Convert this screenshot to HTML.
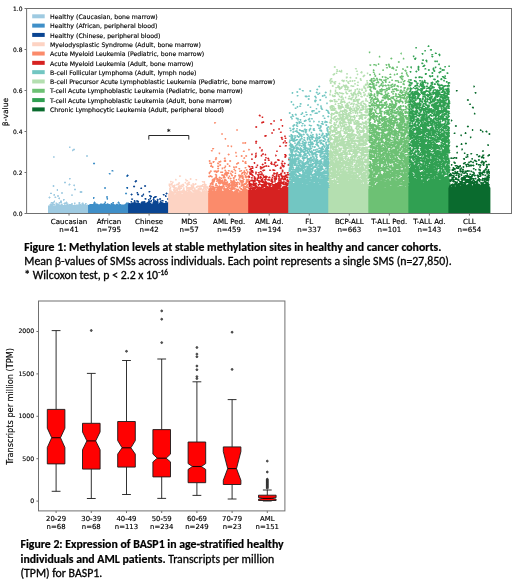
<!DOCTYPE html>
<html><head><meta charset="utf-8"><title>Figure</title><style>html,body{margin:0;padding:0;background:#fff}svg{display:block;will-change:transform;opacity:.999}</style></head><body>
<svg width="520" height="583" viewBox="0 0 520 583">
<rect width="520" height="583" fill="#fff"/>
<g transform="translate(47.00,143.00) scale(0.50)"><path d="M44 7h3v1h-3zM44 8h3v1h-3zM44 9h3v1h-3zM53 11h2v1h-2zM52 12h4v1h-4zM50 13h6v1h-6zM50 14h5v1h-5zM50 15h3v1h-3zM51 16h1v1h-1zM79 24h2v1h-2zM78 25h4v1h-4zM13 26h2v1h-2zm65 0h4v1h-4zM12 27h3v1h-3zm67 0h2v1h-2zM12 28h3v1h-3zM13 29h2v1h-2zM44 70h3v1h-3zM44 71h4v1h-4zM44 72h3v1h-3zM35 77h2v1h-2zM34 78h4v1h-4zM34 79h4v1h-4zM35 80h2v1h-2zM44 81h2v1h-2zM43 82h4v1h-4zM43 83h4v1h-4zm10 0h3v1h-3zM12 84h2v1h-2zm31 0h3v1h-3zm9 0h4v1h-4zM11 85h4v1h-4zm42 0h3v1h-3zM11 86h4v1h-4zm43 0h1v1h-1zM12 87h2v1h-2zM55 91h2v1h-2zM20 92h2v1h-2zm34 0h4v1h-4zM19 93h3v1h-3zm35 0h4v1h-4zM19 94h3v1h-3zm36 0h2v1h-2zM20 95h2v1h-2zM66 96h4v1h-4zM65 97h6v1h-6zM29 98h2v1h-2zm36 0h6v1h-6zM7 99h2v1h-2zm21 0h4v1h-4zm38 0h4v1h-4zM6 100h4v1h-4zm22 0h4v1h-4zM6 101h4v1h-4zm23 0h2v1h-2zM13 102h3v1h-3zM13 103h3v1h-3zm35 0h4v1h-4zM13 104h3v1h-3zm8 0h2v1h-2zm27 0h4v1h-4zM13 105h2v1h-2zm7 0h4v1h-4zm29 0h2v1h-2zM20 106h4v1h-4zM4 107h2v1h-2zm11 0h3v1h-3zm6 0h2v1h-2zM3 108h4v1h-4zm12 0h4v1h-4zM3 109h4v1h-4zm12 0h3v1h-3zm8 0h3v1h-3zM4 110h2v1h-2zm18 0h4v1h-4zM23 111h3v1h-3zM24 112h1v1h-1zm8 0h3v1h-3zM32 113h4v1h-4zM32 114h3v1h-3zM14 115h2v1h-2zm12 0h4v1h-4zm7 0h1v1h-1zM13 116h3v1h-3zm13 0h4v1h-4zM13 117h3v1h-3zm13 0h4v1h-4zm12 0h2v1h-2zM8 118h8v1h-8zm16 0h6v1h-6zm13 0h4v1h-4zm26 0h3v1h-3zM7 119h7v1h-7zm10 0h3v1h-3zm6 0h7v1h-7zm11 0h7v1h-7zm20 0h3v1h-3zm9 0h4v1h-4zm7 0h3v1h-3zM7 120h6v1h-6zm10 0h4v1h-4zm7 0h3v1h-3zm9 0h8v1h-8zm16 0h2v1h-2zm5 0h3v1h-3zm9 0h3v1h-3zm6 0h4v1h-4zm7 0h3v1h-3zM6 121h1v1h-1zm3 0h6v1h-6zm8 0h7v1h-7zm8 0h1v1h-1zm3 0h3v1h-3zm5 0h10v1h-10zm15 0h4v1h-4zm6 0h3v1h-3zm9 0h4v1h-4zm6 0h5v1h-5zm7 0h4v1h-4zM5 122h11v1h-11zm12 0h8v1h-8zm10 0h4v1h-4zm7 0h2v1h-2zm5 0h13v1h-13zm24 0h5v1h-5zm6 0h6v1h-6zm7 0h3v1h-3zM5 123h11v1h-11zm12 0h9v1h-9zm10 0h5v1h-5zm7 0h1v1h-1zm2 0h7v1h-7zm8 0h7v1h-7zm10 0h3v1h-3zm4 0h21v1h-21zm22 0h3v1h-3zM5 124h7v1h-7zm8 0h2v1h-2zm4 0h68v1h-68zM2 125h84v1h-84zM2 126h84v1h-84zM2 127h84v1h-84zM2 128h84v1h-84zM2 129h84v1h-84zM2 130h84v1h-84zM2 131h84v1h-84zM2 132h84v1h-84zM2 133h84v1h-84zM2 134h84v1h-84zM2 135h84v1h-84zM2 136h84v1h-84zM2 137h84v1h-84zM2 138h84v1h-84zM2 139h84v1h-84zM2 140h84v1h-84z" fill="#9ecae1"/></g>
<g transform="translate(87.04,156.00) scale(0.50)"><path d="M13 13h2v1h-2zM12 14h4v1h-4zM12 15h4v1h-4zM13 16h2v1h-2zM49 28h3v1h-3zM49 29h4v1h-4zM49 30h4v1h-4zM44 34h3v1h-3zM43 35h4v1h-4zM44 36h3v1h-3zM79 38h2v1h-2zM78 39h4v1h-4zM78 40h4v1h-4zM79 41h2v1h-2zM35 62h2v1h-2zm43 0h4v1h-4zM34 63h4v1h-4zm44 0h4v1h-4zM34 64h4v1h-4zm44 0h3v1h-3zM35 65h2v1h-2zM77 73h2v1h-2zM76 74h4v1h-4zM76 75h4v1h-4zM77 76h2v1h-2zM39 80h2v1h-2zM38 81h4v1h-4zM12 82h3v1h-3zm26 0h4v1h-4zM12 83h3v1h-3zm27 0h2v1h-2zM12 84h3v1h-3zm27 0h3v1h-3zM12 85h2v1h-2zm27 0h3v1h-3zM39 86h3v1h-3zM40 87h1v1h-1zM14 91h2v1h-2zm21 0h3v1h-3zm27 0h2v1h-2zM13 92h4v1h-4zm22 0h3v1h-3zm16 0h3v1h-3zm10 0h4v1h-4zM13 93h4v1h-4zm22 0h3v1h-3zm15 0h4v1h-4zm11 0h4v1h-4zm17 0h6v1h-6zM12 94h5v1h-5zm22 0h3v1h-3zm7 0h1v1h-1zm7 0h6v1h-6zm14 0h3v1h-3zm15 0h7v1h-7zM13 95h8v1h-8zm13 0h5v1h-5zm6 0h5v1h-5zm7 0h4v1h-4zm8 0h4v1h-4zm5 0h1v1h-1zm7 0h2v1h-2zm4 0h3v1h-3zm14 0h6v1h-6zM5 96h17v1h-17zm18 0h2v1h-2zm3 0h20v1h-20zm21 0h7v1h-7zm8 0h1v1h-1zm3 0h4v1h-4zm5 0h5v1h-5zm12 0h7v1h-7zM4 97h81v1h-81zM2 98h84v1h-84zM2 99h84v1h-84zM2 100h84v1h-84zM2 101h84v1h-84zM2 102h84v1h-84zM2 103h84v1h-84zM2 104h84v1h-84zM2 105h84v1h-84zM2 106h84v1h-84zM2 107h84v1h-84zM2 108h84v1h-84zM2 109h84v1h-84zM2 110h84v1h-84zM2 111h84v1h-84zM2 112h84v1h-84zM2 113h84v1h-84zM2 114h84v1h-84z" fill="#3f8fc8"/></g>
<g transform="translate(127.08,168.00) scale(0.50)"><path d="M0 13h2v1h-2zM0 14h3v1h-3zM0 15h3v1h-3zM0 16h2v1h-2zM17 24h2v1h-2zM16 25h4v1h-4zM15 26h5v1h-5zM15 27h4v1h-4zM16 28h2v1h-2zM35 34h2v1h-2zM13 35h2v1h-2zm21 0h4v1h-4zM12 36h4v1h-4zm22 0h4v1h-4zM12 37h4v1h-4zm23 0h2v1h-2zM0 38h1v1h-1zm13 0h2v1h-2zM0 39h2v1h-2zm27 0h3v1h-3zM0 40h2v1h-2zm26 0h4v1h-4zM0 41h1v1h-1zm27 0h3v1h-3zM43 46h3v1h-3zM43 47h4v1h-4zM19 48h3v1h-3zm24 0h3v1h-3zM19 49h3v1h-3zm59 0h2v1h-2zM19 50h3v1h-3zm58 0h4v1h-4zM8 51h2v1h-2zm13 0h2v1h-2zm11 0h2v1h-2zm45 0h4v1h-4zM7 52h4v1h-4zm13 0h4v1h-4zm11 0h3v1h-3zm41 0h3v1h-3zm6 0h2v1h-2zM7 53h4v1h-4zm13 0h4v1h-4zm11 0h3v1h-3zm40 0h4v1h-4zM8 54h2v1h-2zm13 0h2v1h-2zm8 0h2v1h-2zm3 0h2v1h-2zm12 0h3v1h-3zm28 0h3v1h-3zm4 0h2v1h-2zM28 55h4v1h-4zm16 0h5v1h-5zm32 0h3v1h-3zM28 56h4v1h-4zm16 0h6v1h-6zm11 0h4v1h-4zm21 0h3v1h-3zM29 57h2v1h-2zm17 0h4v1h-4zm8 0h6v1h-6zm22 0h3v1h-3zM47 58h2v1h-2zm5 0h7v1h-7zM46 59h2v1h-2zm6 0h5v1h-5zM35 60h3v1h-3zm10 0h3v1h-3zm7 0h3v1h-3zm13 0h2v1h-2zm16 0h2v1h-2zM8 61h4v1h-4zm27 0h4v1h-4zm10 0h3v1h-3zm7 0h2v1h-2zm9 0h1v1h-1zm3 0h4v1h-4zm16 0h4v1h-4zM8 62h4v1h-4zm27 0h4v1h-4zm7 0h3v1h-3zm4 0h2v1h-2zm5 0h4v1h-4zm9 0h3v1h-3zm4 0h4v1h-4zm16 0h4v1h-4zM9 63h2v1h-2zm27 0h1v1h-1zm6 0h3v1h-3zm9 0h4v1h-4zm8 0h4v1h-4zm6 0h2v1h-2zm16 0h2v1h-2zM14 64h2v1h-2zm5 0h2v1h-2zm23 0h3v1h-3zm5 0h3v1h-3zm5 0h2v1h-2zm3 0h2v1h-2zm5 0h3v1h-3zm9 0h4v1h-4zM13 65h4v1h-4zm5 0h5v1h-5zm25 0h3v1h-3zm4 0h3v1h-3zm5 0h6v1h-6zm7 0h3v1h-3zm7 0h7v1h-7zM7 66h3v1h-3zm6 0h4v1h-4zm5 0h6v1h-6zm13 0h2v1h-2zm3 0h2v1h-2zm8 0h8v1h-8zm10 0h11v1h-11zm13 0h4v1h-4zm5 0h3v1h-3zm6 0h3v1h-3zM7 67h3v1h-3zm7 0h3v1h-3zm5 0h5v1h-5zm9 0h9v1h-9zm13 0h8v1h-8zm11 0h10v1h-10zm14 0h3v1h-3zm10 0h4v1h-4zM7 68h3v1h-3zm6 0h4v1h-4zm8 0h2v1h-2zm7 0h9v1h-9zm12 0h9v1h-9zm11 0h12v1h-12zm15 0h5v1h-5zm10 0h3v1h-3zm5 0h3v1h-3zM9 69h15v1h-15zm18 0h9v1h-9zm10 0h9v1h-9zm14 0h12v1h-12zm13 0h9v1h-9zm13 0h8v1h-8zM3 70h4v1h-4zm5 0h18v1h-18zm19 0h21v1h-21zm24 0h11v1h-11zm12 0h22v1h-22zM2 71h84v1h-84zM2 72h84v1h-84zM2 73h84v1h-84zM2 74h84v1h-84zM2 75h84v1h-84zM2 76h84v1h-84zM2 77h84v1h-84zM2 78h84v1h-84zM2 79h84v1h-84zM2 80h84v1h-84zM2 81h84v1h-84zM2 82h84v1h-84zM2 83h84v1h-84zM2 84h84v1h-84zM2 85h84v1h-84zM2 86h84v1h-84zM2 87h84v1h-84zM2 88h84v1h-84zM2 89h84v1h-84zM2 90h84v1h-84z" fill="#0a4592"/></g>
<g transform="translate(167.12,166.00) scale(0.50)"><path d="M25 18h1v1h-1zM24 19h4v1h-4zM24 20h4v1h-4zM24 21h3v1h-3zM46 24h2v1h-2zM17 25h1v1h-1zm20 0h1v1h-1zm8 0h4v1h-4zM16 26h3v1h-3zm20 0h3v1h-3zm9 0h4v1h-4zm12 0h3v1h-3zM16 27h3v1h-3zm20 0h3v1h-3zm10 0h2v1h-2zm10 0h4v1h-4zM16 28h3v1h-3zm20 0h6v1h-6zm21 0h3v1h-3zM7 29h1v1h-1zm31 0h4v1h-4zM6 30h3v1h-3zm32 0h3v1h-3zm32 0h3v1h-3zm4 0h2v1h-2zM6 31h7v1h-7zm30 0h1v1h-1zm6 0h3v1h-3zm27 0h7v1h-7zM6 32h3v1h-3zm4 0h3v1h-3zm13 0h2v1h-2zm12 0h3v1h-3zm6 0h5v1h-5zm29 0h6v1h-6zM10 33h3v1h-3zm12 0h4v1h-4zm13 0h3v1h-3zm6 0h5v1h-5zm32 0h3v1h-3zM8 34h4v1h-4zm14 0h4v1h-4zm13 0h3v1h-3zm4 0h6v1h-6zm12 0h2v1h-2zm5 0h2v1h-2zm18 0h2v1h-2zM3 35h8v1h-8zm16 0h6v1h-6zm12 0h2v1h-2zm7 0h7v1h-7zm12 0h4v1h-4zm5 0h4v1h-4zm18 0h4v1h-4zM3 36h8v1h-8zm15 0h7v1h-7zm12 0h4v1h-4zm8 0h8v1h-8zm12 0h9v1h-9zm20 0h9v1h-9zM3 37h8v1h-8zm11 0h3v1h-3zm4 0h6v1h-6zm9 0h7v1h-7zm12 0h7v1h-7zm8 0h3v1h-3zm4 0h4v1h-4zm5 0h2v1h-2zm14 0h9v1h-9zM3 38h4v1h-4zm5 0h3v1h-3zm4 0h5v1h-5zm6 0h3v1h-3zm5 0h2v1h-2zm4 0h3v1h-3zm4 0h3v1h-3zm8 0h4v1h-4zm8 0h4v1h-4zm5 0h3v1h-3zm15 0h12v1h-12zM3 39h4v1h-4zm6 0h8v1h-8zm13 0h13v1h-13zm17 0h3v1h-3zm8 0h7v1h-7zm13 0h12v1h-12zm14 0h4v1h-4zm5 0h1v1h-1zM4 40h3v1h-3zm5 0h7v1h-7zm13 0h12v1h-12zm15 0h3v1h-3zm11 0h6v1h-6zm10 0h23v1h-23zM4 41h3v1h-3zm5 0h7v1h-7zm12 0h11v1h-11zm16 0h4v1h-4zm10 0h7v1h-7zm11 0h24v1h-24zM5 42h3v1h-3zm6 0h6v1h-6zm7 0h1v1h-1zm3 0h6v1h-6zm7 0h1v1h-1zm2 0h1v1h-1zm3 0h1v1h-1zm4 0h17v1h-17zm20 0h4v1h-4zm6 0h2v1h-2zm3 0h1v1h-1zm6 0h11v1h-11zM5 43h4v1h-4zm6 0h9v1h-9zm10 0h9v1h-9zm11 0h3v1h-3zm6 0h18v1h-18zm19 0h4v1h-4zm6 0h7v1h-7zm9 0h11v1h-11zM4 44h4v1h-4zm10 0h16v1h-16zm18 0h3v1h-3zm6 0h19v1h-19zm23 0h9v1h-9zm11 0h7v1h-7zm8 0h4v1h-4zM4 45h4v1h-4zm8 0h7v1h-7zm8 0h10v1h-10zm12 0h3v1h-3zm6 0h14v1h-14zm15 0h4v1h-4zm8 0h9v1h-9zm10 0h14v1h-14zM4 46h3v1h-3zm8 0h15v1h-15zm19 0h4v1h-4zm7 0h3v1h-3zm4 0h9v1h-9zm12 0h3v1h-3zm7 0h19v1h-19zm20 0h5v1h-5zM4 47h5v1h-5zm7 0h5v1h-5zm6 0h5v1h-5zm6 0h4v1h-4zm8 0h4v1h-4zm7 0h31v1h-31zm32 0h4v1h-4zm5 0h5v1h-5zm7 0h3v1h-3zM4 48h5v1h-5zm8 0h10v1h-10zm12 0h2v1h-2zm6 0h6v1h-6zm8 0h8v1h-8zm11 0h19v1h-19zm20 0h4v1h-4zm5 0h3v1h-3zm4 0h2v1h-2zm4 0h3v1h-3zM4 49h5v1h-5zm8 0h10v1h-10zm11 0h2v1h-2zm3 0h11v1h-11zm12 0h10v1h-10zm11 0h16v1h-16zm20 0h16v1h-16zM4 50h7v1h-7zm9 0h36v1h-36zm37 0h17v1h-17zm19 0h16v1h-16zM4 51h15v1h-15zm16 0h20v1h-20zm21 0h8v1h-8zm10 0h17v1h-17zm18 0h16v1h-16zM4 52h46v1h-46zm47 0h2v1h-2zm3 0h31v1h-31zM4 53h80v1h-80zM3 54h26v1h-26zm28 0h54v1h-54zM2 55h13v1h-13zm15 0h69v1h-69zM2 56h13v1h-13zm14 0h70v1h-70zM2 57h84v1h-84zM2 58h84v1h-84zM2 59h84v1h-84zM2 60h84v1h-84zM2 61h84v1h-84zM2 62h84v1h-84zM2 63h84v1h-84zM2 64h84v1h-84zM2 65h84v1h-84zM2 66h84v1h-84zM2 67h84v1h-84zM2 68h84v1h-84zM2 69h84v1h-84zM2 70h84v1h-84zM2 71h84v1h-84zM2 72h84v1h-84zM2 73h84v1h-84zM2 74h84v1h-84zM2 75h84v1h-84zM2 76h84v1h-84zM2 77h84v1h-84zM2 78h84v1h-84zM2 79h84v1h-84zM2 80h84v1h-84zM2 81h84v1h-84zM2 82h84v1h-84zM2 83h84v1h-84zM2 84h84v1h-84zM2 85h84v1h-84zM2 86h84v1h-84zM2 87h84v1h-84zM2 88h84v1h-84zM2 89h84v1h-84zM2 90h84v1h-84zM2 91h84v1h-84zM2 92h84v1h-84zM2 93h84v1h-84zM2 94h84v1h-84z" fill="#fdd3c3"/></g>
<g transform="translate(207.16,120.00) scale(0.50)"><path d="M14 4h3v1h-3zM14 5h4v1h-4zM14 6h3v1h-3zM15 7h1v1h-1zM59 18h2v1h-2zM58 19h3v1h-3zM58 20h3v1h-3zM59 21h2v1h-2zM29 26h2v1h-2zM28 27h3v1h-3zM28 28h3v1h-3zM29 29h2v1h-2zM35 36h3v1h-3zM35 37h3v1h-3zM35 38h3v1h-3zM36 39h1v1h-1zM71 44h2v1h-2zm4 0h3v1h-3zM70 45h3v1h-3zm4 0h4v1h-4zM70 46h3v1h-3zm4 0h4v1h-4zM71 47h2v1h-2zm4 0h2v1h-2zM41 50h2v1h-2zM40 51h3v1h-3zm7 0h3v1h-3zM40 52h3v1h-3zm7 0h3v1h-3zM41 53h2v1h-2zm6 0h3v1h-3zM48 54h1v1h-1zM10 56h4v1h-4zM10 57h4v1h-4zm73 0h1v1h-1zM10 58h3v1h-3zm72 0h3v1h-3zM82 59h4v1h-4zM8 60h3v1h-3zm74 0h3v1h-3zM7 61h4v1h-4zm65 0h3v1h-3zM8 62h3v1h-3zm63 0h4v1h-4zM57 63h1v1h-1zm15 0h3v1h-3zM56 64h3v1h-3zM23 65h3v1h-3zm33 0h3v1h-3zM23 66h3v1h-3zm33 0h3v1h-3zM23 67h3v1h-3zm19 0h2v1h-2zM24 68h1v1h-1zm17 0h4v1h-4zM41 69h4v1h-4zM42 70h2v1h-2zm26 0h2v1h-2zm9 0h2v1h-2zM57 71h3v1h-3zm10 0h4v1h-4zm9 0h4v1h-4zM57 72h3v1h-3zm10 0h4v1h-4zm9 0h4v1h-4zM57 73h3v1h-3zm11 0h2v1h-2zm9 0h2v1h-2zM17 74h2v1h-2zm56 0h2v1h-2zM16 75h4v1h-4zm18 0h3v1h-3zm39 0h3v1h-3zM16 76h4v1h-4zm17 0h4v1h-4zm39 0h4v1h-4zM16 77h3v1h-3zm18 0h3v1h-3zm39 0h2v1h-2zM15 78h4v1h-4zm20 0h1v1h-1zM16 79h3v1h-3zm19 0h2v1h-2zM4 80h2v1h-2zm13 0h1v1h-1zm17 0h4v1h-4zm11 0h2v1h-2zm26 0h1v1h-1zM3 81h4v1h-4zm23 0h2v1h-2zm7 0h5v1h-5zm11 0h4v1h-4zm26 0h3v1h-3zM3 82h4v1h-4zm8 0h4v1h-4zm12 0h6v1h-6zm10 0h5v1h-5zm11 0h4v1h-4zm26 0h4v1h-4zm6 0h2v1h-2zM4 83h2v1h-2zm7 0h4v1h-4zm11 0h6v1h-6zm12 0h4v1h-4zm11 0h2v1h-2zm25 0h3v1h-3zm5 0h4v1h-4zM11 84h3v1h-3zm12 0h5v1h-5zm38 0h2v1h-2zm14 0h4v1h-4zM4 85h5v1h-5zm7 0h3v1h-3zm9 0h3v1h-3zm4 0h1v1h-1zm36 0h4v1h-4zm14 0h4v1h-4zM4 86h6v1h-6zm16 0h4v1h-4zm20 0h1v1h-1zm18 0h6v1h-6zm17 0h4v1h-4zM4 87h6v1h-6zm16 0h4v1h-4zm19 0h4v1h-4zm19 0h5v1h-5zm17 0h4v1h-4zM7 88h2v1h-2zm14 0h2v1h-2zm4 0h2v1h-2zm14 0h4v1h-4zm19 0h3v1h-3zM8 89h1v1h-1zm16 0h4v1h-4zm16 0h2v1h-2zm19 0h1v1h-1zM7 90h3v1h-3zm17 0h4v1h-4zm20 0h2v1h-2zm38 0h2v1h-2zM6 91h4v1h-4zm14 0h4v1h-4zm5 0h2v1h-2zm10 0h3v1h-3zm8 0h3v1h-3zm38 0h4v1h-4zM6 92h6v1h-6zm14 0h4v1h-4zm15 0h3v1h-3zm8 0h4v1h-4zm10 0h1v1h-1zm4 0h2v1h-2zm24 0h4v1h-4zM6 93h7v1h-7zm14 0h4v1h-4zm15 0h3v1h-3zm9 0h2v1h-2zm8 0h3v1h-3zm4 0h4v1h-4zm26 0h2v1h-2zM9 94h4v1h-4zm24 0h4v1h-4zm19 0h8v1h-8zm23 0h3v1h-3zM10 95h2v1h-2zm11 0h2v1h-2zm8 0h3v1h-3zm4 0h4v1h-4zm19 0h3v1h-3zm5 0h2v1h-2zm18 0h4v1h-4zM20 96h4v1h-4zm9 0h3v1h-3zm4 0h3v1h-3zm30 0h3v1h-3zm12 0h3v1h-3zM20 97h4v1h-4zm9 0h3v1h-3zm24 0h3v1h-3zm9 0h4v1h-4zM21 98h2v1h-2zm8 0h2v1h-2zm23 0h4v1h-4zm11 0h3v1h-3zm15 0h2v1h-2zM35 99h2v1h-2zm18 0h3v1h-3zm24 0h4v1h-4zM7 100h1v1h-1zm10 0h1v1h-1zm4 0h2v1h-2zm14 0h3v1h-3zm7 0h3v1h-3zm13 0h3v1h-3zm12 0h3v1h-3zm6 0h2v1h-2zm4 0h4v1h-4zM6 101h3v1h-3zm7 0h6v1h-6zm7 0h4v1h-4zm14 0h4v1h-4zm7 0h4v1h-4zm6 0h4v1h-4zm7 0h4v1h-4zm10 0h6v1h-6zm9 0h3v1h-3zm5 0h2v1h-2zM6 102h3v1h-3zm7 0h11v1h-11zm22 0h3v1h-3zm7 0h3v1h-3zm5 0h4v1h-4zm8 0h3v1h-3zm9 0h6v1h-6zm9 0h3v1h-3zm7 0h2v1h-2zM4 103h5v1h-5zm9 0h10v1h-10zm13 0h6v1h-6zm11 0h3v1h-3zm10 0h6v1h-6zm17 0h3v1h-3zm8 0h4v1h-4zm7 0h4v1h-4zM3 104h4v1h-4zm11 0h1v1h-1zm3 0h5v1h-5zm9 0h6v1h-6zm10 0h7v1h-7zm13 0h4v1h-4zm20 0h9v1h-9zm10 0h4v1h-4zM3 105h4v1h-4zm14 0h3v1h-3zm9 0h6v1h-6zm9 0h9v1h-9zm11 0h2v1h-2zm4 0h2v1h-2zm5 0h3v1h-3zm14 0h9v1h-9zm11 0h2v1h-2zM3 106h3v1h-3zm31 0h10v1h-10zm12 0h3v1h-3zm9 0h3v1h-3zm13 0h4v1h-4zm6 0h7v1h-7zM3 107h3v1h-3zm14 0h1v1h-1zm17 0h10v1h-10zm11 0h4v1h-4zm10 0h3v1h-3zm13 0h4v1h-4zm5 0h3v1h-3zm5 0h3v1h-3zM4 108h1v1h-1zm12 0h3v1h-3zm13 0h2v1h-2zm5 0h8v1h-8zm12 0h4v1h-4zm22 0h3v1h-3zm5 0h4v1h-4zm5 0h3v1h-3zM15 109h5v1h-5zm13 0h13v1h-13zm20 0h3v1h-3zm14 0h4v1h-4zm5 0h2v1h-2zm6 0h3v1h-3zm6 0h1v1h-1zM6 110h2v1h-2zm10 0h4v1h-4zm12 0h7v1h-7zm9 0h4v1h-4zm11 0h4v1h-4zm7 0h3v1h-3zm7 0h7v1h-7zm8 0h2v1h-2zm5 0h3v1h-3zm7 0h3v1h-3zM3 111h6v1h-6zm14 0h3v1h-3zm12 0h7v1h-7zm8 0h4v1h-4zm6 0h3v1h-3zm5 0h4v1h-4zm6 0h4v1h-4zm8 0h11v1h-11zm13 0h4v1h-4zm6 0h4v1h-4zM2 112h9v1h-9zm15 0h3v1h-3zm14 0h5v1h-5zm7 0h3v1h-3zm5 0h3v1h-3zm6 0h2v1h-2zm5 0h4v1h-4zm8 0h11v1h-11zm13 0h10v1h-10zM2 113h9v1h-9zm14 0h4v1h-4zm8 0h2v1h-2zm8 0h4v1h-4zm11 0h3v1h-3zm11 0h3v1h-3zm10 0h9v1h-9zm11 0h9v1h-9zM3 114h2v1h-2zm5 0h3v1h-3zm8 0h4v1h-4zm7 0h4v1h-4zm8 0h6v1h-6zm10 0h4v1h-4zm11 0h5v1h-5zm12 0h10v1h-10zm11 0h8v1h-8zM14 115h6v1h-6zm9 0h7v1h-7zm8 0h6v1h-6zm10 0h3v1h-3zm5 0h2v1h-2zm5 0h4v1h-4zm12 0h4v1h-4zm6 0h4v1h-4zm7 0h4v1h-4zM13 116h9v1h-9zm11 0h6v1h-6zm7 0h6v1h-6zm10 0h3v1h-3zm4 0h4v1h-4zm6 0h4v1h-4zm13 0h3v1h-3zm5 0h4v1h-4zm8 0h2v1h-2zM11 117h6v1h-6zm7 0h7v1h-7zm9 0h3v1h-3zm15 0h2v1h-2zm3 0h4v1h-4zm7 0h3v1h-3zm10 0h3v1h-3zm7 0h5v1h-5zm13 0h2v1h-2zM10 118h7v1h-7zm8 0h9v1h-9zm16 0h4v1h-4zm11 0h3v1h-3zm7 0h3v1h-3zm5 0h3v1h-3zm5 0h3v1h-3zm9 0h4v1h-4zm7 0h7v1h-7zM9 119h8v1h-8zm9 0h10v1h-10zm11 0h3v1h-3zm4 0h6v1h-6zm20 0h1v1h-1zm4 0h3v1h-3zm5 0h3v1h-3zm4 0h2v1h-2zm5 0h4v1h-4zm6 0h8v1h-8zM9 120h7v1h-7zm10 0h13v1h-13zm14 0h7v1h-7zm13 0h3v1h-3zm5 0h4v1h-4zm6 0h3v1h-3zm6 0h11v1h-11zm15 0h6v1h-6zM9 121h7v1h-7zm9 0h14v1h-14zm15 0h6v1h-6zm13 0h4v1h-4zm5 0h5v1h-5zm7 0h1v1h-1zm7 0h8v1h-8zm12 0h8v1h-8zM9 122h7v1h-7zm9 0h14v1h-14zm15 0h4v1h-4zm6 0h2v1h-2zm7 0h10v1h-10zm19 0h9v1h-9zm12 0h9v1h-9zM9 123h6v1h-6zm9 0h3v1h-3zm4 0h15v1h-15zm16 0h4v1h-4zm9 0h10v1h-10zm13 0h2v1h-2zm5 0h9v1h-9zm12 0h9v1h-9zM8 124h7v1h-7zm13 0h21v1h-21zm25 0h17v1h-17zm20 0h7v1h-7zm11 0h4v1h-4zm5 0h3v1h-3zM7 125h6v1h-6zm14 0h21v1h-21zm25 0h20v1h-20zm21 0h6v1h-6zm9 0h5v1h-5zm6 0h4v1h-4zM6 126h7v1h-7zm11 0h2v1h-2zm5 0h19v1h-19zm21 0h19v1h-19zm20 0h3v1h-3zm5 0h4v1h-4zm6 0h6v1h-6zm8 0h4v1h-4zM5 127h8v1h-8zm11 0h4v1h-4zm6 0h6v1h-6zm7 0h17v1h-17zm19 0h8v1h-8zm9 0h4v1h-4zm6 0h4v1h-4zm5 0h3v1h-3zm4 0h8v1h-8zm10 0h4v1h-4zM5 128h8v1h-8zm11 0h4v1h-4zm7 0h4v1h-4zm7 0h16v1h-16zm17 0h15v1h-15zm16 0h4v1h-4zm5 0h11v1h-11zm12 0h5v1h-5zM6 129h2v1h-2zm3 0h4v1h-4zm7 0h3v1h-3zm15 0h31v1h-31zm33 0h2v1h-2zm4 0h10v1h-10zm11 0h4v1h-4zM5 130h2v1h-2zm6 0h1v1h-1zm4 0h6v1h-6zm9 0h1v1h-1zm7 0h8v1h-8zm9 0h22v1h-22zm27 0h7v1h-7zm11 0h5v1h-5zM4 131h7v1h-7zm8 0h1v1h-1zm4 0h6v1h-6zm7 0h3v1h-3zm6 0h5v1h-5zm8 0h23v1h-23zm30 0h9v1h-9zm11 0h3v1h-3zM3 132h11v1h-11zm15 0h3v1h-3zm4 0h13v1h-13zm14 0h26v1h-26zm29 0h1v1h-1zm2 0h14v1h-14zM4 133h3v1h-3zm4 0h6v1h-6zm7 0h3v1h-3zm4 0h16v1h-16zm18 0h3v1h-3zm4 0h5v1h-5zm7 0h5v1h-5zm6 0h4v1h-4zm5 0h3v1h-3zm5 0h3v1h-3zm4 0h1v1h-1zm4 0h11v1h-11zM6 134h3v1h-3zm4 0h26v1h-26zm29 0h6v1h-6zm8 0h10v1h-10zm12 0h3v1h-3zm4 0h4v1h-4zm8 0h13v1h-13zM4 135h28v1h-28zm29 0h2v1h-2zm6 0h16v1h-16zm25 0h3v1h-3zm7 0h4v1h-4zm5 0h8v1h-8zM4 136h13v1h-13zm14 0h19v1h-19zm20 0h19v1h-19zm26 0h6v1h-6zm8 0h7v1h-7zm9 0h2v1h-2zM4 137h13v1h-13zm15 0h12v1h-12zm13 0h10v1h-10zm11 0h17v1h-17zm18 0h2v1h-2zm5 0h4v1h-4zm5 0h7v1h-7zm11 0h4v1h-4zM3 138h14v1h-14zm15 0h13v1h-13zm14 0h12v1h-12zm14 0h18v1h-18zm20 0h14v1h-14zm16 0h4v1h-4zM3 139h14v1h-14zm15 0h12v1h-12zm14 0h13v1h-13zm14 0h6v1h-6zm7 0h2v1h-2zm4 0h7v1h-7zm10 0h15v1h-15zm16 0h2v1h-2zM3 140h8v1h-8zm9 0h5v1h-5zm6 0h12v1h-12zm15 0h17v1h-17zm23 0h9v1h-9zm13 0h17v1h-17zM3 141h13v1h-13zm14 0h14v1h-14zm15 0h19v1h-19zm22 0h14v1h-14zm15 0h17v1h-17zM2 142h50v1h-50zm52 0h31v1h-31zM2 143h60v1h-60zm62 0h21v1h-21zM3 144h60v1h-60zm61 0h21v1h-21zM2 145h84v1h-84zM2 146h84v1h-84zM2 147h84v1h-84zM2 148h84v1h-84zM2 149h84v1h-84zM2 150h84v1h-84zM2 151h84v1h-84zM2 152h84v1h-84zM2 153h84v1h-84zM2 154h84v1h-84zM2 155h84v1h-84zM2 156h84v1h-84zM2 157h84v1h-84zM2 158h84v1h-84zM2 159h84v1h-84zM2 160h84v1h-84zM2 161h84v1h-84zM2 162h84v1h-84zM2 163h84v1h-84zM2 164h84v1h-84zM2 165h84v1h-84zM2 166h84v1h-84zM2 167h84v1h-84zM2 168h84v1h-84zM2 169h84v1h-84zM2 170h84v1h-84zM2 171h84v1h-84zM2 172h84v1h-84zM2 173h84v1h-84zM2 174h84v1h-84zM2 175h84v1h-84zM2 176h84v1h-84zM2 177h84v1h-84zM2 178h84v1h-84zM2 179h84v1h-84zM2 180h84v1h-84zM2 181h84v1h-84zM2 182h84v1h-84zM2 183h84v1h-84zM2 184h84v1h-84zM2 185h84v1h-84zM2 186h84v1h-84z" fill="#fb8b6b"/></g>
<g transform="translate(247.20,106.00) scale(0.50)"><path d="M24 17h2v1h-2zM23 18h4v1h-4zM23 19h4v1h-4zM24 20h3v1h-3zM29 21h3v1h-3zM29 22h3v1h-3zM29 23h3v1h-3zM67 26h2v1h-2zM66 27h3v1h-3zM53 28h2v1h-2zm13 0h3v1h-3zM52 29h3v1h-3zm15 0h2v1h-2zM32 30h1v1h-1zm20 0h3v1h-3zM29 31h5v1h-5zm24 0h2v1h-2zM28 32h6v1h-6zM28 33h6v1h-6zM28 34h3v1h-3zm18 0h3v1h-3zM46 35h4v1h-4zM46 36h4v1h-4zM69 38h3v1h-3zM69 39h3v1h-3zM17 40h2v1h-2zm52 0h3v1h-3zM16 41h4v1h-4zm54 0h1v1h-1zM16 42h4v1h-4zM17 43h2v1h-2zM63 44h2v1h-2zM62 45h3v1h-3zM52 46h2v1h-2zm10 0h3v1h-3zM52 47h3v1h-3zm11 0h2v1h-2zM52 48h3v1h-3zM52 49h2v1h-2zM66 51h3v1h-3zM49 52h2v1h-2zm16 0h4v1h-4zM48 53h3v1h-3zm18 0h3v1h-3zM48 54h3v1h-3zM49 55h2v1h-2zM35 58h4v1h-4zM34 59h5v1h-5zm40 0h3v1h-3zM34 60h5v1h-5zm40 0h3v1h-3zM35 61h2v1h-2zm34 0h1v1h-1zm5 0h3v1h-3zM67 62h4v1h-4zM67 63h4v1h-4zm8 0h3v1h-3zM68 64h2v1h-2zm7 0h4v1h-4zM68 65h4v1h-4zm7 0h3v1h-3zM68 66h4v1h-4zM69 67h2v1h-2zM75 68h2v1h-2zM17 69h2v1h-2zm57 0h3v1h-3zM16 70h4v1h-4zm58 0h3v1h-3zM16 71h4v1h-4zm56 0h1v1h-1zm3 0h2v1h-2zM17 72h2v1h-2zm54 0h3v1h-3zm6 0h3v1h-3zM16 73h3v1h-3zm55 0h4v1h-4zm5 0h4v1h-4zM16 74h3v1h-3zm55 0h3v1h-3zm5 0h4v1h-4zM17 75h2v1h-2zM76 78h3v1h-3zM64 79h3v1h-3zm11 0h4v1h-4zM64 80h4v1h-4zm11 0h4v1h-4zM25 81h1v1h-1zm39 0h3v1h-3zM24 82h3v1h-3zM24 83h3v1h-3zM24 84h3v1h-3zM29 86h2v1h-2zM28 87h3v1h-3zM28 88h3v1h-3zM27 89h4v1h-4zm31 0h3v1h-3zM27 90h4v1h-4zm31 0h3v1h-3zM58 91h3v1h-3zM17 93h2v1h-2zM16 94h3v1h-3zm15 0h2v1h-2zM8 95h3v1h-3zm8 0h3v1h-3zm14 0h3v1h-3zm6 0h1v1h-1zM8 96h3v1h-3zm8 0h3v1h-3zm14 0h3v1h-3zm5 0h3v1h-3zm39 0h4v1h-4zM8 97h3v1h-3zm9 0h1v1h-1zm11 0h5v1h-5zm7 0h3v1h-3zm21 0h2v1h-2zm18 0h4v1h-4zM9 98h1v1h-1zm7 0h3v1h-3zm11 0h3v1h-3zm8 0h3v1h-3zm21 0h3v1h-3zm19 0h4v1h-4zM16 99h3v1h-3zm11 0h3v1h-3zm29 0h3v1h-3zm19 0h4v1h-4zM16 100h3v1h-3zm11 0h3v1h-3zm29 0h2v1h-2zm19 0h4v1h-4zM15 101h4v1h-4zm59 0h4v1h-4zM15 102h3v1h-3zm21 0h3v1h-3zm38 0h4v1h-4zM16 103h2v1h-2zm20 0h3v1h-3zm5 0h2v1h-2zm34 0h2v1h-2zM9 104h1v1h-1zm27 0h3v1h-3zm4 0h4v1h-4zM8 105h3v1h-3zm32 0h4v1h-4zm42 0h3v1h-3zM8 106h3v1h-3zm27 0h2v1h-2zm6 0h2v1h-2zm19 0h3v1h-3zm22 0h4v1h-4zM8 107h3v1h-3zm26 0h4v1h-4zm8 0h3v1h-3zm18 0h5v1h-5zm22 0h3v1h-3zM34 108h4v1h-4zm7 0h4v1h-4zm19 0h5v1h-5zM35 109h2v1h-2zm7 0h3v1h-3zm19 0h4v1h-4zm8 0h3v1h-3zM69 110h4v1h-4zM47 111h3v1h-3zm8 0h4v1h-4zm14 0h3v1h-3zM13 112h3v1h-3zm22 0h2v1h-2zm12 0h3v1h-3zm7 0h5v1h-5zM13 113h3v1h-3zm21 0h4v1h-4zm13 0h3v1h-3zm7 0h5v1h-5zm14 0h3v1h-3zm6 0h2v1h-2zM13 114h3v1h-3zm21 0h4v1h-4zm12 0h4v1h-4zm8 0h3v1h-3zm13 0h4v1h-4zm6 0h4v1h-4zM14 115h2v1h-2zm16 0h2v1h-2zm5 0h2v1h-2zm11 0h5v1h-5zm7 0h2v1h-2zm15 0h3v1h-3zm5 0h4v1h-4zM29 116h4v1h-4zm18 0h4v1h-4zm5 0h4v1h-4zm17 0h2v1h-2zm5 0h2v1h-2zm7 0h3v1h-3zM19 117h3v1h-3zm10 0h4v1h-4zm19 0h3v1h-3zm4 0h4v1h-4zm7 0h3v1h-3zm9 0h4v1h-4zm13 0h3v1h-3zM19 118h3v1h-3zm11 0h2v1h-2zm7 0h2v1h-2zm16 0h2v1h-2zm3 0h2v1h-2zm3 0h3v1h-3zm9 0h6v1h-6zm13 0h3v1h-3zM19 119h3v1h-3zm15 0h1v1h-1zm2 0h4v1h-4zm5 0h3v1h-3zm14 0h7v1h-7zm14 0h6v1h-6zm12 0h2v1h-2zM3 120h3v1h-3zm5 0h4v1h-4zm12 0h1v1h-1zm6 0h2v1h-2zm6 0h8v1h-8zm9 0h4v1h-4zm14 0h4v1h-4zm15 0h5v1h-5zM3 121h4v1h-4zm5 0h4v1h-4zm9 0h3v1h-3zm8 0h4v1h-4zm5 0h1v1h-1zm2 0h4v1h-4zm5 0h2v1h-2zm4 0h3v1h-3zm15 0h2v1h-2zm10 0h3v1h-3zm4 0h5v1h-5zM3 122h4v1h-4zm6 0h2v1h-2zm7 0h4v1h-4zm9 0h10v1h-10zm40 0h4v1h-4zm6 0h3v1h-3zM9 123h4v1h-4zm8 0h3v1h-3zm9 0h7v1h-7zm40 0h3v1h-3zM6 124h7v1h-7zm20 0h6v1h-6zm39 0h4v1h-4zM5 125h7v1h-7zm20 0h4v1h-4zm40 0h4v1h-4zM4 126h5v1h-5zm22 0h3v1h-3zm25 0h2v1h-2zm16 0h1v1h-1zM4 127h5v1h-5zm27 0h5v1h-5zm13 0h3v1h-3zm6 0h6v1h-6zm19 0h3v1h-3zM5 128h7v1h-7zm25 0h6v1h-6zm14 0h4v1h-4zm6 0h7v1h-7zm19 0h4v1h-4zM7 129h5v1h-5zm23 0h6v1h-6zm14 0h3v1h-3zm7 0h5v1h-5zm18 0h3v1h-3zM7 130h5v1h-5zm18 0h4v1h-4zm6 0h2v1h-2zm38 0h3v1h-3zM4 131h9v1h-9zm12 0h3v1h-3zm9 0h4v1h-4zm44 0h4v1h-4zM4 132h3v1h-3zm4 0h5v1h-5zm8 0h4v1h-4zm6 0h3v1h-3zm4 0h3v1h-3zm33 0h2v1h-2zm10 0h3v1h-3zm5 0h2v1h-2zm5 0h4v1h-4zM4 133h5v1h-5zm6 0h3v1h-3zm6 0h3v1h-3zm5 0h4v1h-4zm7 0h3v1h-3zm24 0h4v1h-4zm6 0h4v1h-4zm9 0h2v1h-2zm6 0h4v1h-4zm6 0h4v1h-4zM4 134h6v1h-6zm7 0h1v1h-1zm5 0h3v1h-3zm6 0h3v1h-3zm6 0h3v1h-3zm24 0h5v1h-5zm6 0h4v1h-4zm8 0h4v1h-4zm7 0h4v1h-4zm7 0h3v1h-3zM4 135h5v1h-5zm12 0h3v1h-3zm9 0h2v1h-2zm3 0h3v1h-3zm24 0h9v1h-9zm14 0h4v1h-4zm8 0h2v1h-2zm6 0h1v1h-1zM4 136h7v1h-7zm12 0h3v1h-3zm4 0h3v1h-3zm4 0h7v1h-7zm29 0h3v1h-3zm4 0h4v1h-4zm5 0h7v1h-7zm17 0h6v1h-6zM5 137h7v1h-7zm15 0h14v1h-14zm30 0h4v1h-4zm8 0h3v1h-3zm4 0h8v1h-8zm13 0h10v1h-10zM8 138h5v1h-5zm12 0h4v1h-4zm5 0h2v1h-2zm3 0h6v1h-6zm22 0h4v1h-4zm7 0h3v1h-3zm5 0h8v1h-8zm13 0h10v1h-10zM9 139h4v1h-4zm12 0h3v1h-3zm10 0h3v1h-3zm5 0h3v1h-3zm13 0h4v1h-4zm8 0h7v1h-7zm10 0h6v1h-6zm7 0h6v1h-6zM3 140h2v1h-2zm7 0h3v1h-3zm4 0h2v1h-2zm7 0h3v1h-3zm4 0h3v1h-3zm7 0h9v1h-9zm17 0h7v1h-7zm8 0h3v1h-3zm4 0h4v1h-4zm6 0h12v1h-12zM2 141h4v1h-4zm11 0h3v1h-3zm8 0h3v1h-3zm4 0h4v1h-4zm6 0h10v1h-10zm12 0h3v1h-3zm10 0h7v1h-7zm8 0h5v1h-5zm7 0h14v1h-14zM2 142h4v1h-4zm6 0h3v1h-3zm5 0h4v1h-4zm8 0h3v1h-3zm4 0h5v1h-5zm6 0h10v1h-10zm11 0h5v1h-5zm7 0h3v1h-3zm4 0h7v1h-7zm9 0h4v1h-4zm7 0h14v1h-14zM3 143h2v1h-2zm4 0h4v1h-4zm6 0h4v1h-4zm6 0h11v1h-11zm13 0h8v1h-8zm10 0h4v1h-4zm7 0h3v1h-3zm5 0h1v1h-1zm2 0h3v1h-3zm7 0h2v1h-2zm5 0h4v1h-4zm6 0h2v1h-2zm3 0h5v1h-5zM8 144h3v1h-3zm5 0h5v1h-5zm6 0h10v1h-10zm11 0h2v1h-2zm5 0h4v1h-4zm7 0h3v1h-3zm7 0h3v1h-3zm4 0h7v1h-7zm9 0h3v1h-3zm5 0h5v1h-5zm6 0h5v1h-5zM9 145h1v1h-1zm4 0h5v1h-5zm6 0h4v1h-4zm6 0h2v1h-2zm4 0h4v1h-4zm7 0h3v1h-3zm11 0h3v1h-3zm6 0h7v1h-7zm9 0h16v1h-16zm18 0h2v1h-2zM13 146h5v1h-5zm6 0h3v1h-3zm8 0h5v1h-5zm7 0h5v1h-5zm6 0h5v1h-5zm7 0h4v1h-4zm6 0h7v1h-7zm9 0h3v1h-3zm4 0h12v1h-12zm13 0h3v1h-3zM7 147h5v1h-5zm7 0h3v1h-3zm4 0h4v1h-4zm9 0h5v1h-5zm6 0h6v1h-6zm7 0h6v1h-6zm7 0h5v1h-5zm7 0h5v1h-5zm8 0h7v1h-7zm9 0h7v1h-7zm8 0h3v1h-3zM6 148h19v1h-19zm21 0h5v1h-5zm7 0h4v1h-4zm6 0h6v1h-6zm7 0h5v1h-5zm7 0h4v1h-4zm8 0h7v1h-7zm10 0h2v1h-2zm3 0h2v1h-2zm3 0h5v1h-5zM4 149h1v1h-1zm2 0h11v1h-11zm13 0h14v1h-14zm16 0h2v1h-2zm8 0h2v1h-2zm3 0h5v1h-5zm8 0h3v1h-3zm8 0h7v1h-7zm11 0h1v1h-1zm5 0h7v1h-7zM3 150h3v1h-3zm4 0h10v1h-10zm15 0h12v1h-12zm13 0h4v1h-4zm11 0h6v1h-6zm8 0h3v1h-3zm8 0h3v1h-3zm4 0h3v1h-3zm6 0h3v1h-3zm6 0h7v1h-7zM3 151h4v1h-4zm8 0h6v1h-6zm10 0h18v1h-18zm26 0h6v1h-6zm7 0h3v1h-3zm8 0h9v1h-9zm10 0h3v1h-3zm4 0h1v1h-1zm3 0h5v1h-5zM3 152h3v1h-3zm8 0h3v1h-3zm11 0h5v1h-5zm6 0h12v1h-12zm21 0h4v1h-4zm5 0h3v1h-3zm6 0h19v1h-19zm22 0h1v1h-1zM3 153h3v1h-3zm8 0h8v1h-8zm11 0h4v1h-4zm7 0h16v1h-16zm19 0h4v1h-4zm12 0h14v1h-14zm15 0h9v1h-9zM3 154h6v1h-6zm8 0h9v1h-9zm12 0h3v1h-3zm8 0h20v1h-20zm25 0h18v1h-18zm19 0h9v1h-9zM3 155h6v1h-6zm7 0h10v1h-10zm14 0h3v1h-3zm9 0h18v1h-18zm22 0h29v1h-29zM3 156h17v1h-17zm18 0h19v1h-19zm20 0h28v1h-28zm29 0h13v1h-13zM3 157h15v1h-15zm18 0h19v1h-19zm20 0h7v1h-7zm8 0h19v1h-19zm22 0h12v1h-12zM3 158h16v1h-16zm18 0h3v1h-3zm6 0h12v1h-12zm15 0h7v1h-7zm8 0h19v1h-19zm22 0h1v1h-1zm5 0h6v1h-6zM3 159h6v1h-6zm8 0h9v1h-9zm11 0h2v1h-2zm5 0h13v1h-13zm16 0h6v1h-6zm7 0h19v1h-19zm24 0h8v1h-8zM3 160h8v1h-8zm9 0h2v1h-2zm3 0h6v1h-6zm12 0h15v1h-15zm16 0h5v1h-5zm7 0h18v1h-18zm22 0h8v1h-8zM3 161h4v1h-4zm5 0h3v1h-3zm6 0h12v1h-12zm14 0h19v1h-19zm21 0h19v1h-19zm20 0h12v1h-12zM6 162h28v1h-28zm30 0h31v1h-31zm33 0h15v1h-15zM3 163h6v1h-6zm7 0h23v1h-23zm25 0h33v1h-33zm34 0h15v1h-15zM3 164h15v1h-15zm16 0h12v1h-12zm13 0h52v1h-52zM3 165h81v1h-81zM4 166h59v1h-59zm60 0h20v1h-20zM4 167h4v1h-4zm5 0h7v1h-7zm8 0h68v1h-68zM2 168h84v1h-84zM2 169h84v1h-84zM2 170h84v1h-84zM2 171h84v1h-84zM2 172h84v1h-84zM2 173h84v1h-84zM2 174h84v1h-84zM2 175h84v1h-84zM2 176h84v1h-84zM2 177h84v1h-84zM2 178h84v1h-84zM2 179h84v1h-84zM2 180h84v1h-84zM2 181h84v1h-84zM2 182h84v1h-84zM2 183h84v1h-84zM2 184h84v1h-84zM2 185h84v1h-84zM2 186h84v1h-84zM2 187h84v1h-84zM2 188h84v1h-84zM2 189h84v1h-84zM2 190h84v1h-84zM2 191h84v1h-84zM2 192h84v1h-84zM2 193h84v1h-84zM2 194h84v1h-84zM2 195h84v1h-84zM2 196h84v1h-84zM2 197h84v1h-84zM2 198h84v1h-84zM2 199h84v1h-84zM2 200h84v1h-84zM2 201h84v1h-84zM2 202h84v1h-84zM2 203h84v1h-84zM2 204h84v1h-84zM2 205h84v1h-84zM2 206h84v1h-84zM2 207h84v1h-84zM2 208h84v1h-84zM2 209h84v1h-84zM2 210h84v1h-84zM2 211h84v1h-84zM2 212h84v1h-84zM2 213h84v1h-84zM2 214h84v1h-84z" fill="#d62221"/></g>
<g transform="translate(287.24,74.00) scale(0.50)"><path d="M63 23h2v1h-2zM62 24h4v1h-4zM62 25h4v1h-4zM63 26h2v1h-2zM25 28h1v1h-1zM23 29h4v1h-4zm36 0h2v1h-2zM23 30h4v1h-4zm35 0h4v1h-4zM24 31h3v1h-3zm34 0h4v1h-4zM29 32h4v1h-4zm16 0h2v1h-2zm14 0h2v1h-2zM29 33h4v1h-4zm15 0h4v1h-4zM19 34h2v1h-2zm11 0h3v1h-3zm14 0h4v1h-4zM18 35h4v1h-4zm27 0h2v1h-2zm13 0h2v1h-2zm18 0h2v1h-2zM9 36h3v1h-3zm9 0h4v1h-4zm39 0h4v1h-4zm18 0h4v1h-4zM9 37h3v1h-3zm10 0h2v1h-2zm38 0h4v1h-4zm6 0h3v1h-3zm12 0h4v1h-4zM9 38h3v1h-3zm49 0h2v1h-2zm5 0h3v1h-3zm13 0h2v1h-2zM9 39h2v1h-2zm51 0h6v1h-6zM60 40h4v1h-4zM60 41h3v1h-3zm13 0h3v1h-3zM19 42h3v1h-3zm24 0h1v1h-1zm27 0h2v1h-2zm3 0h4v1h-4zM19 43h4v1h-4zm16 0h5v1h-5zm7 0h3v1h-3zm13 0h2v1h-2zm14 0h7v1h-7zM19 44h3v1h-3zm16 0h6v1h-6zm7 0h3v1h-3zm12 0h4v1h-4zm15 0h4v1h-4zm5 0h1v1h-1zM35 45h6v1h-6zm7 0h3v1h-3zm12 0h4v1h-4zm16 0h2v1h-2zm6 0h3v1h-3zM36 46h1v1h-1zm2 0h2v1h-2zm17 0h4v1h-4zm21 0h3v1h-3zM56 47h3v1h-3zm20 0h3v1h-3zM42 48h2v1h-2zm14 0h3v1h-3zm21 0h1v1h-1zM41 49h4v1h-4zM41 50h4v1h-4zm24 0h2v1h-2zM42 51h2v1h-2zm13 0h3v1h-3zm9 0h4v1h-4zM54 52h5v1h-5zm10 0h4v1h-4zM54 53h5v1h-5zm11 0h2v1h-2zM7 54h3v1h-3zm47 0h4v1h-4zM7 55h3v1h-3zm47 0h4v1h-4zM7 56h3v1h-3zm48 0h2v1h-2zM7 57h2v1h-2zm71 0h3v1h-3zM25 58h3v1h-3zm53 0h3v1h-3zM12 59h1v1h-1zm13 0h4v1h-4zm36 0h1v1h-1zm17 0h3v1h-3zM11 60h3v1h-3zm14 0h4v1h-4zm16 0h2v1h-2zm19 0h3v1h-3zm19 0h1v1h-1zM10 61h4v1h-4zm16 0h1v1h-1zm14 0h3v1h-3zm19 0h4v1h-4zM11 62h3v1h-3zm29 0h3v1h-3zm20 0h3v1h-3zm7 0h1v1h-1zM24 63h3v1h-3zm16 0h3v1h-3zm26 0h3v1h-3zM19 64h3v1h-3zm5 0h4v1h-4zm42 0h3v1h-3zM19 65h3v1h-3zm5 0h3v1h-3zm21 0h3v1h-3zm21 0h3v1h-3zM19 66h3v1h-3zm26 0h3v1h-3zm22 0h2v1h-2zM15 67h4v1h-4zm5 0h1v1h-1zm25 0h3v1h-3zm21 0h4v1h-4zM15 68h4v1h-4zm42 0h3v1h-3zm9 0h4v1h-4zM15 69h3v1h-3zm42 0h3v1h-3zm10 0h4v1h-4zM57 70h3v1h-3zm11 0h4v1h-4zM68 71h3v1h-3zm9 0h3v1h-3zM49 72h6v1h-6zm28 0h5v1h-5zM48 73h7v1h-7zm15 0h1v1h-1zm14 0h6v1h-6zM48 74h7v1h-7zm14 0h4v1h-4zm18 0h3v1h-3zM36 75h3v1h-3zm12 0h4v1h-4zm14 0h4v1h-4zm18 0h4v1h-4zM4 76h2v1h-2zm25 0h2v1h-2zm7 0h4v1h-4zm13 0h3v1h-3zm10 0h1v1h-1zm3 0h3v1h-3zm18 0h4v1h-4zM3 77h4v1h-4zm26 0h3v1h-3zm7 0h3v1h-3zm19 0h6v1h-6zm26 0h4v1h-4zM3 78h4v1h-4zm26 0h3v1h-3zm25 0h7v1h-7zm27 0h4v1h-4zM4 79h2v1h-2zm12 0h2v1h-2zm11 0h5v1h-5zm28 0h6v1h-6zm27 0h3v1h-3zM9 80h3v1h-3zm6 0h4v1h-4zm11 0h4v1h-4zm11 0h4v1h-4zm8 0h3v1h-3zM9 81h3v1h-3zm6 0h4v1h-4zm12 0h3v1h-3zm10 0h4v1h-4zm8 0h4v1h-4zM9 82h3v1h-3zm7 0h3v1h-3zm21 0h3v1h-3zm8 0h4v1h-4zm26 0h2v1h-2zM10 83h3v1h-3zm7 0h1v1h-1zm16 0h2v1h-2zm37 0h4v1h-4zm11 0h2v1h-2zM7 84h2v1h-2zm3 0h4v1h-4zm22 0h4v1h-4zm38 0h4v1h-4zm10 0h4v1h-4zM6 85h3v1h-3zm4 0h3v1h-3zm22 0h4v1h-4zm39 0h1v1h-1zm9 0h4v1h-4zM6 86h3v1h-3zm75 0h2v1h-2zM6 87h4v1h-4zm11 0h3v1h-3zm4 0h1v1h-1zm23 0h1v1h-1zm29 0h3v1h-3zM8 88h3v1h-3zm9 0h6v1h-6zm26 0h3v1h-3zm5 0h3v1h-3zm25 0h4v1h-4zM8 89h3v1h-3zm9 0h6v1h-6zm25 0h4v1h-4zm5 0h4v1h-4zm26 0h3v1h-3zM8 90h3v1h-3zm10 0h1v1h-1zm2 0h3v1h-3zm5 0h3v1h-3zm16 0h5v1h-5zm7 0h3v1h-3zM20 91h3v1h-3zm4 0h4v1h-4zm12 0h2v1h-2zm5 0h4v1h-4zM20 92h3v1h-3zm5 0h3v1h-3zm9 0h5v1h-5zm8 0h2v1h-2zM26 93h1v1h-1zm7 0h6v1h-6zm11 0h3v1h-3zm8 0h2v1h-2zm11 0h1v1h-1zm12 0h2v1h-2zM23 94h2v1h-2zm10 0h5v1h-5zm10 0h4v1h-4zm9 0h3v1h-3zm10 0h3v1h-3zm7 0h3v1h-3zm6 0h5v1h-5zM19 95h1v1h-1zm3 0h7v1h-7zm11 0h3v1h-3zm11 0h3v1h-3zm8 0h3v1h-3zm10 0h3v1h-3zm6 0h4v1h-4zm6 0h7v1h-7zM17 96h4v1h-4zm5 0h7v1h-7zm23 0h1v1h-1zm7 0h2v1h-2zm10 0h3v1h-3zm7 0h3v1h-3zm5 0h7v1h-7zM17 97h5v1h-5zm6 0h6v1h-6zm47 0h1v1h-1zm4 0h3v1h-3zm4 0h3v1h-3zM18 98h4v1h-4zm5 0h3v1h-3zm6 0h4v1h-4zm38 0h5v1h-5zm8 0h1v1h-1zM19 99h3v1h-3zm4 0h2v1h-2zm6 0h4v1h-4zm38 0h6v1h-6zM13 100h2v1h-2zm5 0h1v1h-1zm2 0h2v1h-2zm10 0h2v1h-2zm29 0h3v1h-3zm9 0h5v1h-5zm9 0h2v1h-2zM12 101h4v1h-4zm5 0h3v1h-3zm17 0h2v1h-2zm9 0h3v1h-3zm16 0h5v1h-5zm11 0h3v1h-3zm6 0h4v1h-4zM11 102h5v1h-5zm6 0h3v1h-3zm11 0h3v1h-3zm5 0h4v1h-4zm10 0h6v1h-6zm16 0h5v1h-5zm7 0h2v1h-2zm10 0h4v1h-4zM10 103h5v1h-5zm7 0h5v1h-5zm11 0h3v1h-3zm5 0h4v1h-4zm10 0h7v1h-7zm17 0h9v1h-9zm17 0h3v1h-3zM10 104h4v1h-4zm8 0h4v1h-4zm10 0h3v1h-3zm6 0h2v1h-2zm12 0h3v1h-3zm15 0h3v1h-3zm4 0h4v1h-4zm16 0h2v1h-2zM11 105h2v1h-2zm8 0h3v1h-3zm46 0h4v1h-4zm15 0h4v1h-4zM65 106h4v1h-4zm15 0h4v1h-4zM4 107h3v1h-3zm8 0h2v1h-2zm34 0h1v1h-1zm16 0h6v1h-6zm16 0h5v1h-5zM4 108h4v1h-4zm7 0h4v1h-4zm7 0h3v1h-3zm27 0h3v1h-3zm7 0h3v1h-3zm10 0h5v1h-5zm16 0h3v1h-3zM4 109h3v1h-3zm6 0h5v1h-5zm8 0h3v1h-3zm16 0h3v1h-3zm10 0h4v1h-4zm7 0h4v1h-4zm11 0h5v1h-5zm16 0h4v1h-4zM9 110h5v1h-5zm9 0h3v1h-3zm6 0h2v1h-2zm9 0h7v1h-7zm10 0h5v1h-5zm8 0h4v1h-4zm13 0h2v1h-2zm14 0h5v1h-5zM6 111h2v1h-2zm4 0h4v1h-4zm13 0h4v1h-4zm10 0h7v1h-7zm10 0h4v1h-4zm8 0h4v1h-4zm14 0h4v1h-4zm14 0h3v1h-3zM5 112h4v1h-4zm6 0h2v1h-2zm7 0h2v1h-2zm5 0h10v1h-10zm11 0h6v1h-6zm9 0h3v1h-3zm8 0h5v1h-5zm13 0h6v1h-6zm15 0h3v1h-3zM5 113h4v1h-4zm10 0h6v1h-6zm9 0h9v1h-9zm11 0h4v1h-4zm8 0h3v1h-3zm9 0h4v1h-4zm12 0h6v1h-6zm14 0h5v1h-5zM6 114h2v1h-2zm5 0h2v1h-2zm3 0h7v1h-7zm13 0h7v1h-7zm8 0h5v1h-5zm8 0h3v1h-3zm22 0h5v1h-5zm14 0h4v1h-4zM10 115h4v1h-4zm5 0h7v1h-7zm13 0h1v1h-1zm2 0h4v1h-4zm5 0h4v1h-4zm13 0h1v1h-1zm20 0h2v1h-2zm12 0h3v1h-3zM10 116h4v1h-4zm8 0h6v1h-6zm13 0h2v1h-2zm4 0h4v1h-4zm12 0h3v1h-3zm34 0h2v1h-2zM11 117h2v1h-2zm8 0h6v1h-6zm16 0h4v1h-4zm12 0h3v1h-3zm22 0h3v1h-3zm11 0h4v1h-4zM21 118h5v1h-5zm15 0h2v1h-2zm11 0h3v1h-3zm22 0h4v1h-4zm8 0h7v1h-7zM22 119h6v1h-6zm10 0h2v1h-2zm6 0h3v1h-3zm19 0h3v1h-3zm6 0h3v1h-3zm6 0h4v1h-4zm7 0h4v1h-4zm5 0h5v1h-5zM7 120h3v1h-3zm15 0h7v1h-7zm9 0h4v1h-4zm7 0h4v1h-4zm12 0h3v1h-3zm7 0h3v1h-3zm6 0h3v1h-3zm6 0h4v1h-4zm8 0h9v1h-9zM6 121h4v1h-4zm17 0h12v1h-12zm15 0h5v1h-5zm8 0h2v1h-2zm3 0h4v1h-4zm8 0h4v1h-4zm6 0h3v1h-3zm5 0h4v1h-4zm9 0h9v1h-9zM7 122h5v1h-5zm7 0h3v1h-3zm5 0h2v1h-2zm5 0h7v1h-7zm8 0h2v1h-2zm7 0h4v1h-4zm6 0h4v1h-4zm5 0h3v1h-3zm7 0h4v1h-4zm10 0h4v1h-4zm6 0h2v1h-2zm4 0h6v1h-6zM3 123h10v1h-10zm11 0h3v1h-3zm4 0h4v1h-4zm6 0h6v1h-6zm16 0h3v1h-3zm5 0h6v1h-6zm13 0h3v1h-3zm9 0h4v1h-4zm5 0h10v1h-10zM3 124h10v1h-10zm11 0h3v1h-3zm4 0h13v1h-13zm23 0h4v1h-4zm5 0h6v1h-6zm12 0h3v1h-3zm5 0h2v1h-2zm5 0h2v1h-2zm4 0h8v1h-8zM4 125h3v1h-3zm4 0h4v1h-4zm6 0h3v1h-3zm5 0h6v1h-6zm8 0h4v1h-4zm14 0h4v1h-4zm6 0h7v1h-7zm10 0h3v1h-3zm5 0h6v1h-6zm8 0h6v1h-6zm7 0h4v1h-4zM7 126h5v1h-5zm7 0h4v1h-4zm7 0h4v1h-4zm7 0h2v1h-2zm5 0h3v1h-3zm6 0h16v1h-16zm18 0h11v1h-11zm13 0h4v1h-4zm8 0h3v1h-3zM6 127h6v1h-6zm8 0h4v1h-4zm7 0h3v1h-3zm7 0h2v1h-2zm4 0h4v1h-4zm7 0h3v1h-3zm4 0h11v1h-11zm13 0h6v1h-6zm7 0h5v1h-5zm7 0h6v1h-6zm8 0h3v1h-3zm4 0h3v1h-3zM6 128h6v1h-6zm7 0h4v1h-4zm14 0h4v1h-4zm6 0h3v1h-3zm6 0h3v1h-3zm4 0h4v1h-4zm5 0h3v1h-3zm7 0h11v1h-11zm16 0h5v1h-5zm10 0h4v1h-4zM7 129h9v1h-9zm18 0h6v1h-6zm14 0h7v1h-7zm9 0h4v1h-4zm7 0h4v1h-4zm5 0h6v1h-6zm12 0h5v1h-5zm9 0h4v1h-4zM8 130h8v1h-8zm9 0h5v1h-5zm7 0h7v1h-7zm8 0h3v1h-3zm7 0h3v1h-3zm4 0h4v1h-4zm5 0h4v1h-4zm8 0h2v1h-2zm3 0h2v1h-2zm3 0h3v1h-3zm12 0h4v1h-4zm6 0h4v1h-4zM4 131h12v1h-12zm13 0h5v1h-5zm7 0h4v1h-4zm8 0h4v1h-4zm7 0h3v1h-3zm4 0h5v1h-5zm6 0h2v1h-2zm7 0h6v1h-6zm10 0h4v1h-4zm8 0h4v1h-4zm6 0h4v1h-4zM4 132h17v1h-17zm20 0h4v1h-4zm8 0h5v1h-5zm7 0h3v1h-3zm5 0h4v1h-4zm9 0h9v1h-9zm11 0h6v1h-6zm7 0h3v1h-3zm4 0h3v1h-3zm5 0h3v1h-3zM4 133h15v1h-15zm18 0h6v1h-6zm8 0h2v1h-2zm3 0h4v1h-4zm12 0h3v1h-3zm7 0h9v1h-9zm11 0h6v1h-6zm7 0h5v1h-5zm10 0h5v1h-5zM4 134h2v1h-2zm6 0h7v1h-7zm11 0h6v1h-6zm8 0h4v1h-4zm8 0h1v1h-1zm8 0h3v1h-3zm8 0h3v1h-3zm4 0h3v1h-3zm7 0h3v1h-3zm6 0h6v1h-6zm10 0h6v1h-6zM3 135h4v1h-4zm8 0h4v1h-4zm10 0h4v1h-4zm8 0h4v1h-4zm6 0h4v1h-4zm6 0h2v1h-2zm3 0h8v1h-8zm9 0h3v1h-3zm4 0h12v1h-12zm14 0h5v1h-5zm6 0h3v1h-3zm4 0h5v1h-5zM3 136h4v1h-4zm12 0h1v1h-1zm5 0h6v1h-6zm10 0h10v1h-10zm11 0h11v1h-11zm16 0h13v1h-13zm19 0h4v1h-4zm5 0h4v1h-4zM4 137h2v1h-2zm10 0h3v1h-3zm5 0h7v1h-7zm10 0h2v1h-2zm3 0h7v1h-7zm9 0h11v1h-11zm17 0h6v1h-6zm8 0h4v1h-4zm10 0h4v1h-4zM5 138h3v1h-3zm9 0h3v1h-3zm5 0h8v1h-8zm9 0h11v1h-11zm13 0h2v1h-2zm5 0h7v1h-7zm12 0h3v1h-3zm7 0h6v1h-6zm11 0h3v1h-3zm8 0h1v1h-1zM5 139h4v1h-4zm9 0h3v1h-3zm4 0h5v1h-5zm6 0h3v1h-3zm4 0h4v1h-4zm5 0h5v1h-5zm9 0h1v1h-1zm3 0h9v1h-9zm12 0h5v1h-5zm8 0h9v1h-9zm11 0h3v1h-3zm6 0h4v1h-4zM5 140h6v1h-6zm12 0h6v1h-6zm7 0h3v1h-3zm5 0h8v1h-8zm12 0h12v1h-12zm15 0h6v1h-6zm10 0h2v1h-2zm3 0h5v1h-5zm7 0h4v1h-4zm6 0h4v1h-4zM4 141h8v1h-8zm13 0h6v1h-6zm7 0h2v1h-2zm7 0h7v1h-7zm10 0h12v1h-12zm15 0h6v1h-6zm13 0h5v1h-5zm8 0h8v1h-8zM3 142h9v1h-9zm13 0h11v1h-11zm12 0h2v1h-2zm3 0h7v1h-7zm10 0h11v1h-11zm16 0h6v1h-6zm14 0h3v1h-3zm4 0h1v1h-1zm2 0h7v1h-7zM4 143h9v1h-9zm11 0h4v1h-4zm8 0h15v1h-15zm21 0h3v1h-3zm15 0h5v1h-5zm12 0h6v1h-6zm7 0h6v1h-6zM5 144h9v1h-9zm10 0h4v1h-4zm9 0h2v1h-2zm3 0h4v1h-4zm6 0h5v1h-5zm11 0h4v1h-4zm5 0h3v1h-3zm5 0h3v1h-3zm6 0h4v1h-4zm9 0h8v1h-8zm9 0h5v1h-5zM5 145h10v1h-10zm11 0h2v1h-2zm3 0h3v1h-3zm9 0h2v1h-2zm3 0h7v1h-7zm13 0h4v1h-4zm5 0h8v1h-8zm12 0h3v1h-3zm7 0h4v1h-4zm5 0h4v1h-4zm5 0h6v1h-6zM6 146h10v1h-10zm11 0h6v1h-6zm8 0h2v1h-2zm6 0h8v1h-8zm14 0h2v1h-2zm4 0h3v1h-3zm4 0h4v1h-4zm11 0h1v1h-1zm4 0h4v1h-4zm5 0h3v1h-3zm4 0h7v1h-7zM4 147h1v1h-1zm2 0h17v1h-17zm19 0h3v1h-3zm6 0h12v1h-12zm13 0h5v1h-5zm9 0h3v1h-3zm9 0h10v1h-10zm12 0h2v1h-2zm3 0h7v1h-7zM3 148h6v1h-6zm8 0h13v1h-13zm14 0h4v1h-4zm8 0h10v1h-10zm11 0h6v1h-6zm18 0h11v1h-11zm14 0h8v1h-8zM3 149h6v1h-6zm7 0h6v1h-6zm7 0h13v1h-13zm15 0h18v1h-18zm26 0h3v1h-3zm4 0h11v1h-11zm13 0h9v1h-9zM3 150h11v1h-11zm14 0h13v1h-13zm15 0h6v1h-6zm8 0h9v1h-9zm12 0h1v1h-1zm3 0h2v1h-2zm3 0h4v1h-4zm5 0h1v1h-1zm3 0h8v1h-8zm9 0h7v1h-7zM5 151h10v1h-10zm12 0h4v1h-4zm5 0h25v1h-25zm29 0h10v1h-10zm15 0h8v1h-8zm10 0h6v1h-6zM5 152h10v1h-10zm11 0h5v1h-5zm8 0h9v1h-9zm11 0h7v1h-7zm8 0h3v1h-3zm5 0h1v1h-1zm3 0h7v1h-7zm10 0h1v1h-1zm2 0h8v1h-8zm11 0h9v1h-9zM5 153h8v1h-8zm10 0h6v1h-6zm10 0h8v1h-8zm9 0h8v1h-8zm9 0h3v1h-3zm4 0h3v1h-3zm4 0h3v1h-3zm4 0h2v1h-2zm3 0h15v1h-15zm16 0h10v1h-10zM5 154h8v1h-8zm9 0h9v1h-9zm11 0h17v1h-17zm18 0h8v1h-8zm14 0h27v1h-27zM6 155h6v1h-6zm7 0h6v1h-6zm7 0h4v1h-4zm6 0h11v1h-11zm13 0h13v1h-13zm17 0h27v1h-27zM6 156h6v1h-6zm8 0h5v1h-5zm6 0h9v1h-9zm10 0h6v1h-6zm9 0h5v1h-5zm6 0h7v1h-7zm9 0h20v1h-20zm21 0h2v1h-2zm3 0h4v1h-4zM6 157h6v1h-6zm15 0h8v1h-8zm10 0h6v1h-6zm8 0h5v1h-5zm6 0h14v1h-14zm16 0h11v1h-11zm15 0h8v1h-8zM7 158h4v1h-4zm9 0h3v1h-3zm7 0h4v1h-4zm10 0h11v1h-11zm14 0h11v1h-11zm17 0h9v1h-9zm10 0h10v1h-10zM4 159h2v1h-2zm3 0h5v1h-5zm9 0h3v1h-3zm7 0h5v1h-5zm10 0h6v1h-6zm7 0h6v1h-6zm8 0h11v1h-11zm18 0h18v1h-18zM3 160h11v1h-11zm12 0h4v1h-4zm5 0h1v1h-1zm3 0h6v1h-6zm9 0h7v1h-7zm11 0h3v1h-3zm5 0h13v1h-13zm17 0h19v1h-19zM3 161h26v1h-26zm29 0h7v1h-7zm10 0h5v1h-5zm6 0h6v1h-6zm7 0h7v1h-7zm9 0h5v1h-5zm10 0h2v1h-2zm4 0h7v1h-7zM3 162h25v1h-25zm29 0h6v1h-6zm7 0h2v1h-2zm4 0h4v1h-4zm5 0h3v1h-3zm4 0h2v1h-2zm3 0h6v1h-6zm9 0h4v1h-4zm8 0h5v1h-5zm7 0h7v1h-7zM4 163h38v1h-38zm40 0h2v1h-2zm5 0h3v1h-3zm7 0h3v1h-3zm8 0h14v1h-14zm15 0h7v1h-7zM5 164h13v1h-13zm17 0h10v1h-10zm11 0h4v1h-4zm5 0h4v1h-4zm11 0h4v1h-4zm7 0h4v1h-4zm8 0h21v1h-21zM5 165h7v1h-7zm9 0h3v1h-3zm6 0h3v1h-3zm4 0h4v1h-4zm5 0h5v1h-5zm9 0h3v1h-3zm8 0h2v1h-2zm3 0h6v1h-6zm7 0h5v1h-5zm9 0h18v1h-18zM3 166h5v1h-5zm6 0h3v1h-3zm5 0h3v1h-3zm6 0h3v1h-3zm4 0h3v1h-3zm6 0h11v1h-11zm15 0h10v1h-10zm12 0h4v1h-4zm8 0h6v1h-6zm7 0h10v1h-10zM2 167h6v1h-6zm7 0h3v1h-3zm5 0h2v1h-2zm3 0h7v1h-7zm12 0h12v1h-12zm16 0h5v1h-5zm7 0h3v1h-3zm5 0h4v1h-4zm9 0h2v1h-2zm3 0h2v1h-2zm3 0h11v1h-11zM2 168h6v1h-6zm7 0h3v1h-3zm4 0h12v1h-12zm16 0h8v1h-8zm9 0h12v1h-12zm14 0h3v1h-3zm5 0h3v1h-3zm11 0h16v1h-16zM3 169h22v1h-22zm26 0h8v1h-8zm10 0h10v1h-10zm11 0h10v1h-10zm18 0h8v1h-8zm9 0h7v1h-7zM5 170h19v1h-19zm25 0h1v1h-1zm2 0h3v1h-3zm7 0h8v1h-8zm9 0h9v1h-9zm10 0h4v1h-4zm9 0h18v1h-18zM3 171h24v1h-24zm28 0h3v1h-3zm8 0h14v1h-14zm15 0h8v1h-8zm11 0h4v1h-4zm8 0h12v1h-12zM2 172h19v1h-19zm20 0h7v1h-7zm9 0h4v1h-4zm8 0h14v1h-14zm15 0h8v1h-8zm10 0h5v1h-5zm9 0h8v1h-8zm9 0h2v1h-2zM2 173h17v1h-17zm19 0h8v1h-8zm10 0h3v1h-3zm8 0h3v1h-3zm4 0h26v1h-26zm29 0h12v1h-12zM3 174h22v1h-22zm23 0h3v1h-3zm4 0h3v1h-3zm8 0h32v1h-32zm34 0h12v1h-12zM5 175h14v1h-14zm16 0h12v1h-12zm16 0h8v1h-8zm9 0h3v1h-3zm5 0h3v1h-3zm4 0h16v1h-16zm17 0h13v1h-13zM5 176h13v1h-13zm16 0h12v1h-12zm14 0h14v1h-14zm17 0h1v1h-1zm2 0h9v1h-9zm10 0h7v1h-7zm8 0h13v1h-13zM3 177h16v1h-16zm17 0h7v1h-7zm8 0h16v1h-16zm18 0h3v1h-3zm7 0h17v1h-17zm18 0h14v1h-14zM3 178h16v1h-16zm17 0h7v1h-7zm8 0h15v1h-15zm18 0h1v1h-1zm3 0h22v1h-22zm23 0h13v1h-13zM3 179h16v1h-16zm17 0h6v1h-6zm8 0h57v1h-57zM3 180h16v1h-16zm17 0h1v1h-1zm3 0h4v1h-4zm6 0h24v1h-24zm26 0h29v1h-29zM3 181h9v1h-9zm10 0h25v1h-25zm28 0h12v1h-12zm14 0h5v1h-5zm8 0h5v1h-5zm7 0h14v1h-14zM3 182h9v1h-9zm10 0h23v1h-23zm29 0h11v1h-11zm13 0h6v1h-6zm7 0h5v1h-5zm6 0h2v1h-2zm3 0h14v1h-14zM3 183h33v1h-33zm34 0h4v1h-4zm5 0h10v1h-10zm12 0h6v1h-6zm7 0h25v1h-25zM5 184h8v1h-8zm12 0h34v1h-34zm35 0h7v1h-7zm8 0h12v1h-12zm13 0h13v1h-13zM4 185h8v1h-8zm14 0h2v1h-2zm3 0h3v1h-3zm4 0h34v1h-34zm35 0h12v1h-12zm14 0h11v1h-11zM4 186h10v1h-10zm13 0h8v1h-8zm10 0h20v1h-20zm21 0h15v1h-15zm16 0h8v1h-8zm11 0h9v1h-9zM3 187h11v1h-11zm13 0h21v1h-21zm23 0h9v1h-9zm11 0h11v1h-11zm13 0h8v1h-8zm15 0h5v1h-5zM3 188h7v1h-7zm8 0h3v1h-3zm5 0h21v1h-21zm22 0h16v1h-16zm20 0h14v1h-14zm17 0h9v1h-9zM3 189h10v1h-10zm13 0h19v1h-19zm22 0h15v1h-15zm20 0h15v1h-15zm17 0h9v1h-9zM3 190h34v1h-34zm35 0h14v1h-14zm18 0h1v1h-1zm2 0h16v1h-16zm17 0h9v1h-9zM3 191h29v1h-29zm31 0h19v1h-19zm20 0h19v1h-19zm20 0h2v1h-2zm5 0h4v1h-4zM3 192h5v1h-5zm6 0h4v1h-4zm5 0h34v1h-34zm35 0h4v1h-4zm5 0h16v1h-16zm19 0h4v1h-4zm5 0h6v1h-6zM2 193h7v1h-7zm8 0h24v1h-24zm25 0h17v1h-17zm18 0h5v1h-5zm6 0h10v1h-10zm13 0h5v1h-5zm6 0h6v1h-6zM2 194h26v1h-26zm27 0h23v1h-23zm24 0h14v1h-14zm18 0h14v1h-14zM3 195h2v1h-2zm3 0h19v1h-19zm20 0h1v1h-1zm3 0h5v1h-5zm6 0h16v1h-16zm19 0h13v1h-13zm14 0h17v1h-17zM6 196h18v1h-18zm23 0h22v1h-22zm26 0h30v1h-30zM4 197h14v1h-14zm15 0h5v1h-5zm11 0h20v1h-20zm25 0h30v1h-30zM3 198h14v1h-14zm19 0h4v1h-4zm8 0h20v1h-20zm23 0h32v1h-32zM3 199h17v1h-17zm19 0h5v1h-5zm8 0h20v1h-20zm22 0h32v1h-32zM4 200h16v1h-16zm19 0h5v1h-5zm6 0h46v1h-46zm47 0h2v1h-2zm4 0h4v1h-4zM4 201h16v1h-16zm19 0h14v1h-14zm15 0h35v1h-35zm36 0h2v1h-2zm4 0h7v1h-7zM4 202h10v1h-10zm11 0h31v1h-31zm32 0h38v1h-38zM4 203h43v1h-43zm44 0h5v1h-5zm6 0h31v1h-31zM6 204h40v1h-40zm43 0h11v1h-11zm12 0h16v1h-16zm17 0h7v1h-7zM3 205h13v1h-13zm14 0h42v1h-42zm44 0h5v1h-5zm6 0h18v1h-18zM3 206h20v1h-20zm25 0h32v1h-32zm33 0h24v1h-24zM3 207h21v1h-21zm22 0h40v1h-40zm41 0h19v1h-19zM4 208h4v1h-4zm5 0h28v1h-28zm29 0h9v1h-9zm11 0h16v1h-16zm17 0h19v1h-19zM3 209h66v1h-66zm67 0h16v1h-16zM3 210h83v1h-83zM3 211h83v1h-83zM6 212h79v1h-79zM6 213h78v1h-78zM4 214h41v1h-41zm42 0h34v1h-34zM3 215h79v1h-79zM3 216h9v1h-9zm11 0h39v1h-39zm41 0h27v1h-27zM3 217h9v1h-9zm11 0h48v1h-48zm49 0h21v1h-21zM2 218h28v1h-28zm29 0h54v1h-54zM3 219h82v1h-82zM4 220h35v1h-35zm36 0h25v1h-25zm26 0h19v1h-19zM3 221h80v1h-80zM2 222h84v1h-84zM2 223h84v1h-84zM2 224h84v1h-84zM2 225h84v1h-84zM2 226h84v1h-84zM2 227h84v1h-84zM2 228h84v1h-84zM2 229h84v1h-84zM2 230h84v1h-84zM2 231h84v1h-84zM2 232h84v1h-84zM2 233h84v1h-84zM2 234h84v1h-84zM2 235h84v1h-84zM2 236h84v1h-84zM2 237h84v1h-84zM2 238h84v1h-84zM2 239h84v1h-84zM2 240h84v1h-84zM2 241h84v1h-84zM2 242h84v1h-84zM2 243h84v1h-84zM2 244h84v1h-84zM2 245h84v1h-84zM2 246h84v1h-84zM2 247h84v1h-84zM2 248h84v1h-84zM2 249h84v1h-84zM2 250h84v1h-84zM2 251h84v1h-84zM2 252h84v1h-84zM2 253h84v1h-84zM2 254h84v1h-84zM2 255h84v1h-84zM2 256h84v1h-84zM2 257h84v1h-84zM2 258h84v1h-84zM2 259h84v1h-84zM2 260h84v1h-84zM2 261h84v1h-84zM2 262h84v1h-84zM2 263h84v1h-84zM2 264h84v1h-84zM2 265h84v1h-84zM2 266h84v1h-84zM2 267h84v1h-84zM2 268h84v1h-84zM2 269h84v1h-84zM2 270h84v1h-84zM2 271h84v1h-84zM2 272h84v1h-84zM2 273h84v1h-84zM2 274h84v1h-84zM2 275h84v1h-84zM2 276h84v1h-84zM2 277h84v1h-84zM2 278h84v1h-84z" fill="#72c6c2"/></g>
<g transform="translate(327.28,51.00) scale(0.50)"><path d="M14 30h2v1h-2zM13 31h4v1h-4zM13 32h4v1h-4zM14 33h2v1h-2zM56 34h3v1h-3zM55 35h4v1h-4zM18 36h3v1h-3zm38 0h3v1h-3zM18 37h3v1h-3zm10 0h1v1h-1zM18 38h3v1h-3zm6 0h1v1h-1zm3 0h3v1h-3zM19 39h2v1h-2zm4 0h3v1h-3zm4 0h3v1h-3zm31 0h3v1h-3zM18 40h4v1h-4zm5 0h7v1h-7zm34 0h4v1h-4zm11 0h2v1h-2zM18 41h4v1h-4zm5 0h7v1h-7zm35 0h3v1h-3zm9 0h3v1h-3zM26 42h4v1h-4zm40 0h5v1h-5zM17 43h3v1h-3zm49 0h4v1h-4zm13 0h3v1h-3zM13 44h2v1h-2zm4 0h3v1h-3zm21 0h3v1h-3zm29 0h3v1h-3zm12 0h3v1h-3zM12 45h4v1h-4zm5 0h3v1h-3zm21 0h3v1h-3zm21 0h3v1h-3zm20 0h3v1h-3zM11 46h5v1h-5zm27 0h3v1h-3zm21 0h3v1h-3zm21 0h1v1h-1zM10 47h5v1h-5zm29 0h1v1h-1zm20 0h3v1h-3zm14 0h2v1h-2zM11 48h3v1h-3zm49 0h1v1h-1zm12 0h4v1h-4zM71 49h5v1h-5zM70 50h5v1h-5zM37 51h4v1h-4zm9 0h1v1h-1zm25 0h3v1h-3zM37 52h4v1h-4zm8 0h3v1h-3zm12 0h2v1h-2zm15 0h1v1h-1zM37 53h4v1h-4zm7 0h4v1h-4zm12 0h4v1h-4zM7 54h3v1h-3zm30 0h3v1h-3zm8 0h3v1h-3zm11 0h4v1h-4zm9 0h3v1h-3zM5 55h5v1h-5zm52 0h2v1h-2zm8 0h3v1h-3zM5 56h5v1h-5zm60 0h3v1h-3zM5 57h3v1h-3zm24 0h2v1h-2zm4 0h1v1h-1zm32 0h4v1h-4zM4 58h3v1h-3zm24 0h7v1h-7zm9 0h3v1h-3zm8 0h2v1h-2zm4 0h2v1h-2zm4 0h3v1h-3zm13 0h3v1h-3zm12 0h3v1h-3zM4 59h7v1h-7zm24 0h7v1h-7zm9 0h3v1h-3zm7 0h3v1h-3zm5 0h3v1h-3zm4 0h4v1h-4zm13 0h3v1h-3zm12 0h3v1h-3zM4 60h8v1h-8zm11 0h3v1h-3zm14 0h6v1h-6zm8 0h3v1h-3zm4 0h2v1h-2zm3 0h4v1h-4zm5 0h3v1h-3zm4 0h3v1h-3zm25 0h3v1h-3zM5 61h1v1h-1zm2 0h5v1h-5zm6 0h5v1h-5zm18 0h3v1h-3zm9 0h3v1h-3zm4 0h3v1h-3zm5 0h2v1h-2zm11 0h3v1h-3zm19 0h1v1h-1zM6 62h2v1h-2zm3 0h2v1h-2zm3 0h6v1h-6zm20 0h1v1h-1zm8 0h3v1h-3zm19 0h4v1h-4zm20 0h3v1h-3zM5 63h4v1h-4zm7 0h4v1h-4zm12 0h1v1h-1zm16 0h4v1h-4zm20 0h3v1h-3zm18 0h4v1h-4zM5 64h4v1h-4zm8 0h4v1h-4zm10 0h3v1h-3zm18 0h4v1h-4zm13 0h3v1h-3zm7 0h1v1h-1zm18 0h3v1h-3zM6 65h2v1h-2zm7 0h4v1h-4zm9 0h4v1h-4zm19 0h3v1h-3zm13 0h3v1h-3zm22 0h6v1h-6zM13 66h4v1h-4zm10 0h3v1h-3zm31 0h3v1h-3zm21 0h6v1h-6zm7 0h1v1h-1zM31 67h3v1h-3zm5 0h3v1h-3zm19 0h1v1h-1zm4 0h3v1h-3zm16 0h10v1h-10zM10 68h2v1h-2zm11 0h2v1h-2zm10 0h9v1h-9zm16 0h2v1h-2zm12 0h4v1h-4zm16 0h5v1h-5zm6 0h4v1h-4zM9 69h4v1h-4zm11 0h4v1h-4zm11 0h9v1h-9zm15 0h8v1h-8zm13 0h4v1h-4zm13 0h3v1h-3zm4 0h2v1h-2zm5 0h3v1h-3zM9 70h4v1h-4zm11 0h5v1h-5zm8 0h3v1h-3zm4 0h9v1h-9zm14 0h8v1h-8zm26 0h4v1h-4zm9 0h2v1h-2zM10 71h2v1h-2zm10 0h6v1h-6zm8 0h4v1h-4zm5 0h10v1h-10zm16 0h5v1h-5zm23 0h3v1h-3zm7 0h4v1h-4zM16 72h3v1h-3zm4 0h6v1h-6zm7 0h4v1h-4zm7 0h10v1h-10zm38 0h4v1h-4zm7 0h5v1h-5zM16 73h14v1h-14zm18 0h4v1h-4zm5 0h4v1h-4zm33 0h5v1h-5zm7 0h4v1h-4zM16 74h3v1h-3zm6 0h8v1h-8zm13 0h2v1h-2zm5 0h2v1h-2zm19 0h2v1h-2zm13 0h6v1h-6zm8 0h1v1h-1zM23 75h6v1h-6zm12 0h2v1h-2zm4 0h4v1h-4zm19 0h4v1h-4zm5 0h3v1h-3zm5 0h3v1h-3zm6 0h4v1h-4zM23 76h4v1h-4zm11 0h9v1h-9zm21 0h2v1h-2zm3 0h4v1h-4zm5 0h4v1h-4zm5 0h3v1h-3zm7 0h2v1h-2zM6 77h1v1h-1zm9 0h3v1h-3zm9 0h2v1h-2zm10 0h8v1h-8zm10 0h2v1h-2zm3 0h2v1h-2zm7 0h4v1h-4zm5 0h2v1h-2zm4 0h3v1h-3zm5 0h3v1h-3zm8 0h3v1h-3zM5 78h3v1h-3zm10 0h3v1h-3zm20 0h2v1h-2zm3 0h3v1h-3zm5 0h6v1h-6zm11 0h4v1h-4zm10 0h1v1h-1zm4 0h3v1h-3zm8 0h4v1h-4zM5 79h3v1h-3zm10 0h3v1h-3zm27 0h7v1h-7zm13 0h2v1h-2zm6 0h3v1h-3zm7 0h3v1h-3zm7 0h4v1h-4zM5 80h3v1h-3zm10 0h3v1h-3zm22 0h1v1h-1zm5 0h7v1h-7zm12 0h3v1h-3zm7 0h4v1h-4zm14 0h4v1h-4zM5 81h3v1h-3zm10 0h3v1h-3zm21 0h3v1h-3zm6 0h3v1h-3zm12 0h3v1h-3zm7 0h5v1h-5zm11 0h1v1h-1zm3 0h3v1h-3zM5 82h3v1h-3zm10 0h6v1h-6zm8 0h3v1h-3zm13 0h3v1h-3zm16 0h5v1h-5zm10 0h5v1h-5zm9 0h4v1h-4zM6 83h1v1h-1zm11 0h5v1h-5zm6 0h8v1h-8zm13 0h4v1h-4zm11 0h2v1h-2zm4 0h5v1h-5zm9 0h8v1h-8zm11 0h4v1h-4zm11 0h3v1h-3zM14 84h8v1h-8zm9 0h11v1h-11zm14 0h5v1h-5zm9 0h4v1h-4zm5 0h6v1h-6zm8 0h9v1h-9zm13 0h2v1h-2zm9 0h4v1h-4zM4 85h3v1h-3zm10 0h4v1h-4zm5 0h4v1h-4zm7 0h8v1h-8zm11 0h5v1h-5zm9 0h4v1h-4zm5 0h7v1h-7zm8 0h10v1h-10zm15 0h3v1h-3zm7 0h4v1h-4zM4 86h3v1h-3zm11 0h3v1h-3zm5 0h4v1h-4zm9 0h4v1h-4zm9 0h3v1h-3zm9 0h12v1h-12zm13 0h2v1h-2zm5 0h4v1h-4zm9 0h3v1h-3zm7 0h4v1h-4zM4 87h3v1h-3zm5 0h3v1h-3zm11 0h4v1h-4zm28 0h6v1h-6zm7 0h5v1h-5zm6 0h2v1h-2zm5 0h2v1h-2zm6 0h5v1h-5zm9 0h4v1h-4zM4 88h3v1h-3zm5 0h3v1h-3zm4 0h3v1h-3zm8 0h2v1h-2zm27 0h6v1h-6zm8 0h4v1h-4zm5 0h3v1h-3zm11 0h5v1h-5zm8 0h1v1h-1zm2 0h2v1h-2zM9 89h8v1h-8zm14 0h3v1h-3zm5 0h3v1h-3zm15 0h3v1h-3zm5 0h6v1h-6zm9 0h1v1h-1zm4 0h3v1h-3zm6 0h2v1h-2zm5 0h4v1h-4zm6 0h4v1h-4zM10 90h7v1h-7zm13 0h3v1h-3zm4 0h4v1h-4zm15 0h4v1h-4zm9 0h3v1h-3zm6 0h2v1h-2zm4 0h2v1h-2zm5 0h5v1h-5zm7 0h2v1h-2zm5 0h4v1h-4zM10 91h7v1h-7zm13 0h3v1h-3zm4 0h4v1h-4zm9 0h2v1h-2zm7 0h3v1h-3zm6 0h3v1h-3zm7 0h4v1h-4zm10 0h5v1h-5zm13 0h3v1h-3zM13 92h1v1h-1zm11 0h1v1h-1zm2 0h4v1h-4zm5 0h1v1h-1zm4 0h3v1h-3zm14 0h4v1h-4zm7 0h4v1h-4zm11 0h4v1h-4zM26 93h7v1h-7zm9 0h3v1h-3zm7 0h1v1h-1zm2 0h2v1h-2zm3 0h5v1h-5zm8 0h4v1h-4zM27 94h2v1h-2zm3 0h3v1h-3zm6 0h2v1h-2zm5 0h10v1h-10zm14 0h3v1h-3zm21 0h2v1h-2zM22 95h2v1h-2zm8 0h3v1h-3zm11 0h9v1h-9zm14 0h3v1h-3zm6 0h1v1h-1zm2 0h2v1h-2zm13 0h3v1h-3zM13 96h3v1h-3zm8 0h4v1h-4zm6 0h2v1h-2zm3 0h4v1h-4zm11 0h9v1h-9zm10 0h4v1h-4zm6 0h9v1h-9zm19 0h3v1h-3zM6 97h2v1h-2zm6 0h5v1h-5zm9 0h4v1h-4zm5 0h7v1h-7zm20 0h4v1h-4zm5 0h15v1h-15zm25 0h3v1h-3zM4 98h7v1h-7zm9 0h4v1h-4zm9 0h2v1h-2zm4 0h4v1h-4zm21 0h2v1h-2zm4 0h14v1h-14zm25 0h3v1h-3zM4 99h8v1h-8zm10 0h2v1h-2zm4 0h2v1h-2zm9 0h3v1h-3zm5 0h4v1h-4zm19 0h5v1h-5zm6 0h6v1h-6zm13 0h3v1h-3zm5 0h7v1h-7zM4 100h8v1h-8zm10 0h7v1h-7zm12 0h10v1h-10zm25 0h12v1h-12zm17 0h5v1h-5zm7 0h7v1h-7zM5 101h6v1h-6zm8 0h8v1h-8zm13 0h10v1h-10zm17 0h2v1h-2zm8 0h6v1h-6zm8 0h4v1h-4zm9 0h5v1h-5zm11 0h3v1h-3zM6 102h1v1h-1zm8 0h3v1h-3zm4 0h2v1h-2zm8 0h11v1h-11zm16 0h4v1h-4zm10 0h2v1h-2zm7 0h4v1h-4zm7 0h6v1h-6zm16 0h3v1h-3zM25 103h6v1h-6zm8 0h4v1h-4zm6 0h2v1h-2zm3 0h4v1h-4zm6 0h3v1h-3zm12 0h4v1h-4zm6 0h3v1h-3zm6 0h2v1h-2zm10 0h4v1h-4zM16 104h1v1h-1zm5 0h8v1h-8zm13 0h2v1h-2zm4 0h4v1h-4zm5 0h2v1h-2zm4 0h4v1h-4zm5 0h3v1h-3zm9 0h4v1h-4zm5 0h3v1h-3zm5 0h5v1h-5zm11 0h4v1h-4zM15 105h3v1h-3zm5 0h4v1h-4zm5 0h3v1h-3zm13 0h4v1h-4zm8 0h5v1h-5zm6 0h3v1h-3zm5 0h1v1h-1zm2 0h10v1h-10zm12 0h6v1h-6zM14 106h4v1h-4zm7 0h3v1h-3zm7 0h3v1h-3zm10 0h4v1h-4zm7 0h4v1h-4zm6 0h4v1h-4zm5 0h5v1h-5zm6 0h2v1h-2zm3 0h4v1h-4zm7 0h6v1h-6zM15 107h3v1h-3zm12 0h4v1h-4zm8 0h8v1h-8zm11 0h3v1h-3zm4 0h4v1h-4zm6 0h5v1h-5zm10 0h4v1h-4zm8 0h5v1h-5zm8 0h2v1h-2zM7 108h5v1h-5zm14 0h5v1h-5zm7 0h3v1h-3zm7 0h9v1h-9zm16 0h3v1h-3zm5 0h6v1h-6zm7 0h1v1h-1zm3 0h7v1h-7zm9 0h3v1h-3zm6 0h3v1h-3zM6 109h8v1h-8zm14 0h7v1h-7zm8 0h3v1h-3zm7 0h9v1h-9zm17 0h1v1h-1zm7 0h6v1h-6zm7 0h7v1h-7zm10 0h3v1h-3zm5 0h4v1h-4zM5 110h10v1h-10zm16 0h11v1h-11zm15 0h8v1h-8zm14 0h3v1h-3zm7 0h1v1h-1zm2 0h6v1h-6zm9 0h6v1h-6zm8 0h4v1h-4zm6 0h2v1h-2zM4 111h10v1h-10zm17 0h12v1h-12zm14 0h8v1h-8zm10 0h3v1h-3zm5 0h3v1h-3zm6 0h3v1h-3zm4 0h5v1h-5zm9 0h12v1h-12zM4 112h8v1h-8zm10 0h1v1h-1zm7 0h13v1h-13zm14 0h9v1h-9zm10 0h3v1h-3zm5 0h3v1h-3zm6 0h4v1h-4zm7 0h3v1h-3zm5 0h12v1h-12zM5 113h11v1h-11zm16 0h12v1h-12zm15 0h12v1h-12zm17 0h2v1h-2zm3 0h6v1h-6zm7 0h3v1h-3zm5 0h5v1h-5zm8 0h2v1h-2zM5 114h13v1h-13zm16 0h8v1h-8zm17 0h12v1h-12zm14 0h4v1h-4zm5 0h9v1h-9zm11 0h6v1h-6zm8 0h2v1h-2zm4 0h3v1h-3zM5 115h3v1h-3zm4 0h9v1h-9zm13 0h7v1h-7zm11 0h3v1h-3zm6 0h12v1h-12zm13 0h4v1h-4zm5 0h7v1h-7zm9 0h2v1h-2zm4 0h4v1h-4zm5 0h9v1h-9zM5 116h13v1h-13zm17 0h6v1h-6zm11 0h5v1h-5zm10 0h8v1h-8zm10 0h3v1h-3zm4 0h7v1h-7zm8 0h19v1h-19zM7 117h9v1h-9zm26 0h7v1h-7zm10 0h7v1h-7zm8 0h5v1h-5zm7 0h5v1h-5zm7 0h9v1h-9zm11 0h7v1h-7zM6 118h10v1h-10zm11 0h1v1h-1zm9 0h1v1h-1zm3 0h2v1h-2zm3 0h8v1h-8zm11 0h5v1h-5zm6 0h14v1h-14zm15 0h8v1h-8zm12 0h6v1h-6zM7 119h12v1h-12zm18 0h16v1h-16zm18 0h5v1h-5zm6 0h12v1h-12zm15 0h6v1h-6zm12 0h6v1h-6zM16 120h4v1h-4zm8 0h12v1h-12zm13 0h4v1h-4zm8 0h8v1h-8zm9 0h6v1h-6zm10 0h3v1h-3zm11 0h7v1h-7zM16 121h5v1h-5zm9 0h16v1h-16zm20 0h4v1h-4zm9 0h7v1h-7zm9 0h3v1h-3zm11 0h9v1h-9zM14 122h8v1h-8zm9 0h3v1h-3zm6 0h3v1h-3zm4 0h6v1h-6zm10 0h5v1h-5zm7 0h3v1h-3zm4 0h8v1h-8zm9 0h7v1h-7zm11 0h9v1h-9zM8 123h2v1h-2zm6 0h13v1h-13zm15 0h3v1h-3zm5 0h5v1h-5zm7 0h7v1h-7zm9 0h3v1h-3zm5 0h3v1h-3zm4 0h3v1h-3zm4 0h7v1h-7zm12 0h8v1h-8zM7 124h6v1h-6zm7 0h12v1h-12zm15 0h5v1h-5zm7 0h4v1h-4zm5 0h8v1h-8zm9 0h3v1h-3zm5 0h3v1h-3zm4 0h3v1h-3zm5 0h6v1h-6zm12 0h5v1h-5zM7 125h9v1h-9zm10 0h5v1h-5zm7 0h1v1h-1zm2 0h2v1h-2zm4 0h14v1h-14zm15 0h4v1h-4zm10 0h3v1h-3zm4 0h3v1h-3zm9 0h1v1h-1zm2 0h1v1h-1zm12 0h3v1h-3zM6 126h9v1h-9zm16 0h23v1h-23zm24 0h2v1h-2zm13 0h3v1h-3zm8 0h9v1h-9zm14 0h5v1h-5zM6 127h4v1h-4zm5 0h3v1h-3zm10 0h19v1h-19zm20 0h5v1h-5zm25 0h19v1h-19zM7 128h4v1h-4zm15 0h11v1h-11zm13 0h11v1h-11zm18 0h3v1h-3zm5 0h2v1h-2zm4 0h22v1h-22zM7 129h3v1h-3zm9 0h4v1h-4zm6 0h5v1h-5zm7 0h5v1h-5zm8 0h11v1h-11zm12 0h1v1h-1zm3 0h4v1h-4zm5 0h4v1h-4zm5 0h21v1h-21zM7 130h2v1h-2zm7 0h6v1h-6zm8 0h5v1h-5zm7 0h6v1h-6zm7 0h20v1h-20zm21 0h4v1h-4zm5 0h10v1h-10zm15 0h1v1h-1zm2 0h2v1h-2zM6 131h4v1h-4zm7 0h6v1h-6zm11 0h11v1h-11zm12 0h6v1h-6zm7 0h13v1h-13zm15 0h2v1h-2zm5 0h8v1h-8zm12 0h3v1h-3zM6 132h4v1h-4zm6 0h5v1h-5zm12 0h10v1h-10zm11 0h8v1h-8zm10 0h12v1h-12zm19 0h8v1h-8zm10 0h5v1h-5zM7 133h3v1h-3zm5 0h4v1h-4zm8 0h2v1h-2zm4 0h9v1h-9zm11 0h8v1h-8zm10 0h3v1h-3zm7 0h5v1h-5zm11 0h8v1h-8zm11 0h5v1h-5zm9 0h2v1h-2zM7 134h3v1h-3zm4 0h4v1h-4zm8 0h14v1h-14zm15 0h8v1h-8zm11 0h3v1h-3zm9 0h3v1h-3zm8 0h9v1h-9zm12 0h4v1h-4zm7 0h5v1h-5zM7 135h7v1h-7zm8 0h28v1h-28zm29 0h4v1h-4zm5 0h2v1h-2zm4 0h3v1h-3zm9 0h10v1h-10zm12 0h3v1h-3zm7 0h5v1h-5zM6 136h3v1h-3zm5 0h3v1h-3zm4 0h37v1h-37zm38 0h3v1h-3zm9 0h4v1h-4zm6 0h4v1h-4zm12 0h5v1h-5zM5 137h4v1h-4zm7 0h1v1h-1zm2 0h6v1h-6zm8 0h4v1h-4zm5 0h9v1h-9zm13 0h16v1h-16zm23 0h2v1h-2zm6 0h3v1h-3zm10 0h4v1h-4zM5 138h4v1h-4zm9 0h5v1h-5zm8 0h3v1h-3zm5 0h8v1h-8zm13 0h13v1h-13zm14 0h1v1h-1zm2 0h6v1h-6zm24 0h3v1h-3zM5 139h5v1h-5zm10 0h2v1h-2zm3 0h4v1h-4zm7 0h11v1h-11zm15 0h14v1h-14zm15 0h8v1h-8zm21 0h3v1h-3zM6 140h4v1h-4zm12 0h4v1h-4zm6 0h4v1h-4zm5 0h7v1h-7zm12 0h3v1h-3zm4 0h4v1h-4zm5 0h3v1h-3zm5 0h9v1h-9zm20 0h5v1h-5zm8 0h1v1h-1zM4 141h2v1h-2zm3 0h2v1h-2zm10 0h4v1h-4zm7 0h4v1h-4zm6 0h8v1h-8zm11 0h2v1h-2zm3 0h5v1h-5zm8 0h6v1h-6zm7 0h6v1h-6zm10 0h3v1h-3zm6 0h5v1h-5zm6 0h4v1h-4zM3 142h5v1h-5zm10 0h3v1h-3zm4 0h3v1h-3zm6 0h6v1h-6zm7 0h9v1h-9zm10 0h9v1h-9zm12 0h13v1h-13zm17 0h4v1h-4zm5 0h11v1h-11zM3 143h6v1h-6zm10 0h3v1h-3zm4 0h3v1h-3zm6 0h16v1h-16zm17 0h9v1h-9zm12 0h4v1h-4zm5 0h7v1h-7zm12 0h10v1h-10zm11 0h5v1h-5zM4 144h5v1h-5zm9 0h3v1h-3zm10 0h10v1h-10zm11 0h1v1h-1zm7 0h8v1h-8zm12 0h16v1h-16zm17 0h9v1h-9zm10 0h3v1h-3zM6 145h3v1h-3zm6 0h3v1h-3zm4 0h3v1h-3zm7 0h10v1h-10zm11 0h5v1h-5zm8 0h7v1h-7zm10 0h17v1h-17zm18 0h10v1h-10zM12 146h7v1h-7zm12 0h3v1h-3zm5 0h3v1h-3zm5 0h6v1h-6zm8 0h3v1h-3zm10 0h22v1h-22zm24 0h4v1h-4zM12 147h7v1h-7zm9 0h3v1h-3zm4 0h3v1h-3zm5 0h10v1h-10zm13 0h3v1h-3zm10 0h2v1h-2zm3 0h3v1h-3zm4 0h10v1h-10zm16 0h4v1h-4zM7 148h4v1h-4zm6 0h5v1h-5zm7 0h4v1h-4zm5 0h3v1h-3zm5 0h6v1h-6zm7 0h3v1h-3zm6 0h3v1h-3zm15 0h7v1h-7zm9 0h2v1h-2zm5 0h3v1h-3zm6 0h1v1h-1zM6 149h5v1h-5zm8 0h4v1h-4zm6 0h4v1h-4zm5 0h11v1h-11zm17 0h4v1h-4zm16 0h7v1h-7zm13 0h8v1h-8zm9 0h3v1h-3zM5 150h6v1h-6zm7 0h2v1h-2zm3 0h2v1h-2zm6 0h3v1h-3zm4 0h11v1h-11zm14 0h8v1h-8zm9 0h1v1h-1zm9 0h11v1h-11zm14 0h13v1h-13zM4 151h5v1h-5zm7 0h5v1h-5zm8 0h6v1h-6zm8 0h10v1h-10zm11 0h12v1h-12zm19 0h11v1h-11zm15 0h11v1h-11zM4 152h5v1h-5zm7 0h14v1h-14zm16 0h3v1h-3zm4 0h19v1h-19zm26 0h13v1h-13zm15 0h9v1h-9zM3 153h6v1h-6zm9 0h9v1h-9zm10 0h2v1h-2zm4 0h3v1h-3zm8 0h11v1h-11zm13 0h3v1h-3zm9 0h4v1h-4zm7 0h3v1h-3zm4 0h15v1h-15zM3 154h5v1h-5zm10 0h8v1h-8zm12 0h4v1h-4zm7 0h13v1h-13zm15 0h3v1h-3zm8 0h5v1h-5zm6 0h3v1h-3zm6 0h16v1h-16zM3 155h5v1h-5zm10 0h7v1h-7zm13 0h3v1h-3zm5 0h8v1h-8zm9 0h11v1h-11zm16 0h8v1h-8zm12 0h2v1h-2zm3 0h3v1h-3zm6 0h6v1h-6zM4 156h4v1h-4zm9 0h3v1h-3zm4 0h3v1h-3zm10 0h1v1h-1zm4 0h20v1h-20zm26 0h7v1h-7zm13 0h3v1h-3zm7 0h6v1h-6zM4 157h5v1h-5zm7 0h9v1h-9zm15 0h3v1h-3zm6 0h2v1h-2zm3 0h19v1h-19zm23 0h5v1h-5zm6 0h2v1h-2zm6 0h4v1h-4zm7 0h8v1h-8zM5 158h16v1h-16zm21 0h3v1h-3zm4 0h3v1h-3zm5 0h19v1h-19zm23 0h4v1h-4zm5 0h4v1h-4zm5 0h7v1h-7zm11 0h7v1h-7zM6 159h14v1h-14zm19 0h4v1h-4zm5 0h3v1h-3zm5 0h4v1h-4zm6 0h13v1h-13zm18 0h2v1h-2zm4 0h12v1h-12zm15 0h8v1h-8zM3 160h14v1h-14zm17 0h8v1h-8zm10 0h8v1h-8zm9 0h1v1h-1zm2 0h13v1h-13zm17 0h9v1h-9zm10 0h7v1h-7zm10 0h8v1h-8zM2 161h6v1h-6zm7 0h9v1h-9zm10 0h9v1h-9zm14 0h3v1h-3zm4 0h10v1h-10zm12 0h5v1h-5zm9 0h6v1h-6zm7 0h10v1h-10zm13 0h8v1h-8zM2 162h6v1h-6zm7 0h4v1h-4zm5 0h13v1h-13zm19 0h8v1h-8zm11 0h2v1h-2zm4 0h4v1h-4zm10 0h6v1h-6zm7 0h9v1h-9zm13 0h7v1h-7zM3 163h5v1h-5zm7 0h2v1h-2zm5 0h13v1h-13zm18 0h8v1h-8zm15 0h4v1h-4zm10 0h12v1h-12zm13 0h2v1h-2zm7 0h7v1h-7zM5 164h3v1h-3zm11 0h12v1h-12zm16 0h13v1h-13zm14 0h5v1h-5zm13 0h7v1h-7zm13 0h9v1h-9zM5 165h2v1h-2zm11 0h7v1h-7zm8 0h4v1h-4zm9 0h22v1h-22zm27 0h2v1h-2zm3 0h3v1h-3zm9 0h9v1h-9zM9 166h3v1h-3zm4 0h9v1h-9zm10 0h5v1h-5zm12 0h2v1h-2zm4 0h18v1h-18zm19 0h1v1h-1zm4 0h5v1h-5zm9 0h10v1h-10zm12 0h2v1h-2zM3 167h3v1h-3zm5 0h9v1h-9zm10 0h1v1h-1zm5 0h6v1h-6zm16 0h21v1h-21zm23 0h5v1h-5zm9 0h15v1h-15zM3 168h3v1h-3zm4 0h5v1h-5zm6 0h3v1h-3zm9 0h7v1h-7zm10 0h3v1h-3zm6 0h22v1h-22zm24 0h4v1h-4zm9 0h15v1h-15zM3 169h13v1h-13zm18 0h9v1h-9zm11 0h3v1h-3zm6 0h16v1h-16zm17 0h8v1h-8zm9 0h4v1h-4zm5 0h16v1h-16zM4 170h5v1h-5zm7 0h10v1h-10zm11 0h13v1h-13zm15 0h14v1h-14zm15 0h3v1h-3zm4 0h2v1h-2zm4 0h3v1h-3zm4 0h20v1h-20zM4 171h4v1h-4zm7 0h22v1h-22zm25 0h5v1h-5zm6 0h9v1h-9zm10 0h4v1h-4zm7 0h4v1h-4zm5 0h20v1h-20zM4 172h5v1h-5zm10 0h14v1h-14zm15 0h3v1h-3zm7 0h15v1h-15zm16 0h4v1h-4zm6 0h26v1h-26zM3 173h7v1h-7zm11 0h12v1h-12zm14 0h4v1h-4zm6 0h14v1h-14zm16 0h6v1h-6zm8 0h26v1h-26zM3 174h8v1h-8zm11 0h11v1h-11zm14 0h5v1h-5zm6 0h3v1h-3zm5 0h17v1h-17zm19 0h9v1h-9zm10 0h7v1h-7zm8 0h8v1h-8zM4 175h7v1h-7zm9 0h9v1h-9zm10 0h3v1h-3zm4 0h6v1h-6zm7 0h3v1h-3zm6 0h2v1h-2zm3 0h12v1h-12zm15 0h15v1h-15zm19 0h7v1h-7zM4 176h18v1h-18zm19 0h3v1h-3zm4 0h10v1h-10zm12 0h4v1h-4zm6 0h8v1h-8zm18 0h10v1h-10zm12 0h10v1h-10zM4 177h7v1h-7zm8 0h24v1h-24zm27 0h14v1h-14zm15 0h5v1h-5zm6 0h13v1h-13zm14 0h4v1h-4zm5 0h6v1h-6zM4 178h3v1h-3zm5 0h1v1h-1zm3 0h23v1h-23zm28 0h45v1h-45zM4 179h3v1h-3zm9 0h21v1h-21zm26 0h35v1h-35zm36 0h10v1h-10zM12 180h13v1h-13zm14 0h58v1h-58zM4 181h1v1h-1zm7 0h13v1h-13zm14 0h21v1h-21zm22 0h10v1h-10zm11 0h9v1h-9zm10 0h7v1h-7zm8 0h4v1h-4zM2 182h6v1h-6zm9 0h10v1h-10zm13 0h22v1h-22zm23 0h4v1h-4zm7 0h3v1h-3zm5 0h7v1h-7zm11 0h9v1h-9zM2 183h15v1h-15zm16 0h18v1h-18zm20 0h7v1h-7zm8 0h10v1h-10zm16 0h8v1h-8zm9 0h8v1h-8zM3 184h13v1h-13zm15 0h18v1h-18zm19 0h21v1h-21zm25 0h18v1h-18zM4 185h7v1h-7zm8 0h4v1h-4zm5 0h18v1h-18zm19 0h23v1h-23zm25 0h20v1h-20zM6 186h10v1h-10zm11 0h31v1h-31zm34 0h2v1h-2zm3 0h5v1h-5zm6 0h14v1h-14zm15 0h6v1h-6zM5 187h7v1h-7zm8 0h3v1h-3zm4 0h32v1h-32zm36 0h6v1h-6zm7 0h21v1h-21zM5 188h7v1h-7zm8 0h3v1h-3zm4 0h6v1h-6zm7 0h26v1h-26zm27 0h8v1h-8zm9 0h17v1h-17zM5 189h6v1h-6zm7 0h2v1h-2zm3 0h41v1h-41zm42 0h12v1h-12zm13 0h7v1h-7zM5 190h19v1h-19zm21 0h3v1h-3zm4 0h10v1h-10zm11 0h15v1h-15zm16 0h6v1h-6zm25 0h3v1h-3zM5 191h18v1h-18zm25 0h8v1h-8zm10 0h9v1h-9zm10 0h6v1h-6zm7 0h10v1h-10zm11 0h5v1h-5zm8 0h3v1h-3zm4 0h5v1h-5zM5 192h16v1h-16zm17 0h2v1h-2zm8 0h37v1h-37zm38 0h17v1h-17zM5 193h15v1h-15zm17 0h4v1h-4zm5 0h2v1h-2zm4 0h12v1h-12zm13 0h6v1h-6zm7 0h16v1h-16zm17 0h15v1h-15zM5 194h14v1h-14zm16 0h9v1h-9zm10 0h12v1h-12zm13 0h6v1h-6zm8 0h4v1h-4zm5 0h25v1h-25zM6 195h2v1h-2zm3 0h5v1h-5zm7 0h3v1h-3zm6 0h8v1h-8zm9 0h16v1h-16zm17 0h3v1h-3zm5 0h5v1h-5zm6 0h7v1h-7zm8 0h10v1h-10zm11 0h3v1h-3zM6 196h1v1h-1zm3 0h12v1h-12zm13 0h7v1h-7zm9 0h9v1h-9zm13 0h39v1h-39zM5 197h3v1h-3zm4 0h12v1h-12zm13 0h7v1h-7zm12 0h5v1h-5zm8 0h3v1h-3zm4 0h5v1h-5zm6 0h32v1h-32zM4 198h4v1h-4zm7 0h10v1h-10zm11 0h7v1h-7zm8 0h3v1h-3zm4 0h5v1h-5zm7 0h9v1h-9zm10 0h9v1h-9zm11 0h12v1h-12zm13 0h10v1h-10zM5 199h5v1h-5zm7 0h2v1h-2zm3 0h13v1h-13zm15 0h9v1h-9zm10 0h21v1h-21zm23 0h22v1h-22zM3 200h7v1h-7zm8 0h16v1h-16zm19 0h8v1h-8zm10 0h25v1h-25zm27 0h17v1h-17zM3 201h20v1h-20zm21 0h3v1h-3zm5 0h1v1h-1zm2 0h8v1h-8zm9 0h25v1h-25zm28 0h16v1h-16zM3 202h20v1h-20zm22 0h1v1h-1zm3 0h13v1h-13zm15 0h3v1h-3zm8 0h32v1h-32zM4 203h19v1h-19zm21 0h17v1h-17zm18 0h3v1h-3zm7 0h13v1h-13zm14 0h18v1h-18zM3 204h20v1h-20zm21 0h17v1h-17zm19 0h4v1h-4zm7 0h12v1h-12zm14 0h10v1h-10zM3 205h9v1h-9zm10 0h18v1h-18zm20 0h15v1h-15zm17 0h12v1h-12zm16 0h8v1h-8zm11 0h6v1h-6zM3 206h10v1h-10zm11 0h37v1h-37zm40 0h7v1h-7zm12 0h17v1h-17zM3 207h11v1h-11zm12 0h2v1h-2zm3 0h24v1h-24zm25 0h4v1h-4zm5 0h3v1h-3zm5 0h7v1h-7zm14 0h16v1h-16zM2 208h30v1h-30zm33 0h5v1h-5zm13 0h13v1h-13zm19 0h13v1h-13zm14 0h4v1h-4zM3 209h17v1h-17zm18 0h10v1h-10zm14 0h1v1h-1zm2 0h4v1h-4zm11 0h2v1h-2zm3 0h10v1h-10zm11 0h24v1h-24zM4 210h8v1h-8zm10 0h5v1h-5zm7 0h4v1h-4zm5 0h7v1h-7zm8 0h7v1h-7zm13 0h13v1h-13zm14 0h10v1h-10zm12 0h13v1h-13zM4 211h13v1h-13zm17 0h8v1h-8zm9 0h3v1h-3zm4 0h7v1h-7zm12 0h13v1h-13zm15 0h9v1h-9zm11 0h5v1h-5zm8 0h6v1h-6zM3 212h16v1h-16zm19 0h11v1h-11zm12 0h5v1h-5zm7 0h2v1h-2zm4 0h13v1h-13zm14 0h7v1h-7zm8 0h3v1h-3zm4 0h6v1h-6zm9 0h5v1h-5zM3 213h10v1h-10zm11 0h5v1h-5zm6 0h12v1h-12zm14 0h5v1h-5zm6 0h4v1h-4zm5 0h7v1h-7zm8 0h4v1h-4zm5 0h8v1h-8zm9 0h3v1h-3zm4 0h5v1h-5zm8 0h4v1h-4zM4 214h8v1h-8zm9 0h6v1h-6zm7 0h13v1h-13zm14 0h5v1h-5zm6 0h4v1h-4zm6 0h6v1h-6zm7 0h4v1h-4zm5 0h4v1h-4zm5 0h12v1h-12zm16 0h5v1h-5zM3 215h5v1h-5zm6 0h35v1h-35zm36 0h7v1h-7zm9 0h2v1h-2zm5 0h2v1h-2zm3 0h12v1h-12zm13 0h3v1h-3zm4 0h5v1h-5zM3 216h18v1h-18zm19 0h11v1h-11zm13 0h21v1h-21zm25 0h24v1h-24zM3 217h6v1h-6zm7 0h6v1h-6zm7 0h4v1h-4zm6 0h10v1h-10zm12 0h3v1h-3zm4 0h33v1h-33zm35 0h10v1h-10zM4 218h1v1h-1zm2 0h15v1h-15zm16 0h13v1h-13zm16 0h10v1h-10zm11 0h23v1h-23zm25 0h10v1h-10zM5 219h8v1h-8zm9 0h7v1h-7zm8 0h46v1h-46zm47 0h3v1h-3zm5 0h9v1h-9zM5 220h8v1h-8zm9 0h14v1h-14zm15 0h12v1h-12zm14 0h9v1h-9zm10 0h2v1h-2zm3 0h16v1h-16zm17 0h11v1h-11zM5 221h8v1h-8zm9 0h14v1h-14zm16 0h26v1h-26zm27 0h28v1h-28zM5 222h50v1h-50zm51 0h29v1h-29zM5 223h9v1h-9zm10 0h37v1h-37zm38 0h2v1h-2zm3 0h30v1h-30zM5 224h47v1h-47zm51 0h4v1h-4zm5 0h13v1h-13zm15 0h3v1h-3zm4 0h6v1h-6zM5 225h47v1h-47zm51 0h18v1h-18zm23 0h4v1h-4zM4 226h21v1h-21zm22 0h26v1h-26zm28 0h21v1h-21zm25 0h5v1h-5zM4 227h29v1h-29zm31 0h12v1h-12zm13 0h4v1h-4zm5 0h6v1h-6zm7 0h16v1h-16zm17 0h7v1h-7zM3 228h30v1h-30zm32 0h14v1h-14zm18 0h14v1h-14zm15 0h16v1h-16zM3 229h30v1h-30zm31 0h18v1h-18zm19 0h19v1h-19zm20 0h11v1h-11zM3 230h4v1h-4zm6 0h30v1h-30zm32 0h2v1h-2zm3 0h9v1h-9zm10 0h19v1h-19zm20 0h8v1h-8zM4 231h3v1h-3zm5 0h29v1h-29zm31 0h13v1h-13zm14 0h11v1h-11zm13 0h6v1h-6zm8 0h10v1h-10zM6 232h42v1h-42zm44 0h2v1h-2zm4 0h7v1h-7zm9 0h11v1h-11zm12 0h10v1h-10zM5 233h24v1h-24zm26 0h22v1h-22zm23 0h8v1h-8zm9 0h11v1h-11zm12 0h10v1h-10zM3 234h14v1h-14zm15 0h11v1h-11zm12 0h6v1h-6zm7 0h3v1h-3zm4 0h33v1h-33zm34 0h8v1h-8zM3 235h15v1h-15zm16 0h9v1h-9zm10 0h6v1h-6zm7 0h3v1h-3zm4 0h43v1h-43zM3 236h15v1h-15zm16 0h16v1h-16zm17 0h43v1h-43zm44 0h4v1h-4zM3 237h15v1h-15zm16 0h16v1h-16zm17 0h17v1h-17zm18 0h23v1h-23zm25 0h6v1h-6zM3 238h15v1h-15zm16 0h5v1h-5zm6 0h4v1h-4zm5 0h5v1h-5zm6 0h17v1h-17zm18 0h32v1h-32zM2 239h6v1h-6zm7 0h29v1h-29zm32 0h6v1h-6zm7 0h5v1h-5zm6 0h32v1h-32zM2 240h5v1h-5zm8 0h13v1h-13zm14 0h15v1h-15zm16 0h13v1h-13zm15 0h1v1h-1zm2 0h28v1h-28zM3 241h36v1h-36zm37 0h12v1h-12zm13 0h18v1h-18zm23 0h9v1h-9zM3 242h67v1h-67zm68 0h13v1h-13zM3 243h67v1h-67zm68 0h12v1h-12zM3 244h15v1h-15zm16 0h7v1h-7zm9 0h13v1h-13zm14 0h18v1h-18zm19 0h25v1h-25zM5 245h54v1h-54zm57 0h16v1h-16zm17 0h7v1h-7zM4 246h1v1h-1zm3 0h42v1h-42zm43 0h10v1h-10zm11 0h16v1h-16zm18 0h7v1h-7zM3 247h52v1h-52zm53 0h5v1h-5zm6 0h24v1h-24zM3 248h62v1h-62zm63 0h19v1h-19zM3 249h62v1h-62zm64 0h18v1h-18zM3 250h18v1h-18zm19 0h42v1h-42zm45 0h18v1h-18zM2 251h19v1h-19zm21 0h40v1h-40zm42 0h14v1h-14zm15 0h6v1h-6zM2 252h4v1h-4zm5 0h71v1h-71zm72 0h6v1h-6zM3 253h5v1h-5zm6 0h75v1h-75zM4 254h12v1h-12zm13 0h42v1h-42zm43 0h5v1h-5zm6 0h18v1h-18zM4 255h8v1h-8zm10 0h1v1h-1zm3 0h30v1h-30zm31 0h12v1h-12zm13 0h5v1h-5zm6 0h17v1h-17zM3 256h5v1h-5zm10 0h3v1h-3zm4 0h50v1h-50zm51 0h12v1h-12zM2 257h8v1h-8zm10 0h4v1h-4zm5 0h51v1h-51zm52 0h13v1h-13zM2 258h17v1h-17zm18 0h22v1h-22zm23 0h41v1h-41zM3 259h16v1h-16zm17 0h64v1h-64zM3 260h81v1h-81zM3 261h77v1h-77zm79 0h1v1h-1zM2 262h69v1h-69zm70 0h9v1h-9zM2 263h10v1h-10zm11 0h59v1h-59zm60 0h8v1h-8zM3 264h17v1h-17zm19 0h50v1h-50zm51 0h7v1h-7zM4 265h16v1h-16zm17 0h1v1h-1zm2 0h45v1h-45zm46 0h3v1h-3zm4 0h12v1h-12zM4 266h81v1h-81zM5 267h80v1h-80zM5 268h80v1h-80zM3 269h83v1h-83zM3 270h83v1h-83zM3 271h82v1h-82zM4 272h81v1h-81zM5 273h80v1h-80zM2 274h84v1h-84zM2 275h84v1h-84zM2 276h84v1h-84zM2 277h84v1h-84zM2 278h84v1h-84zM2 279h84v1h-84zM2 280h84v1h-84zM2 281h84v1h-84zM2 282h84v1h-84zM2 283h84v1h-84zM2 284h84v1h-84zM2 285h84v1h-84zM2 286h84v1h-84zM2 287h84v1h-84zM2 288h84v1h-84zM2 289h84v1h-84zM2 290h84v1h-84zM2 291h84v1h-84zM2 292h84v1h-84zM2 293h84v1h-84zM2 294h84v1h-84zM2 295h84v1h-84zM2 296h84v1h-84zM2 297h84v1h-84zM2 298h84v1h-84zM2 299h84v1h-84zM2 300h84v1h-84zM2 301h84v1h-84zM2 302h84v1h-84zM2 303h84v1h-84zM2 304h84v1h-84zM2 305h84v1h-84zM2 306h84v1h-84zM2 307h84v1h-84zM2 308h84v1h-84zM2 309h84v1h-84zM2 310h84v1h-84zM2 311h84v1h-84zM2 312h84v1h-84zM2 313h84v1h-84zM2 314h84v1h-84zM2 315h84v1h-84zM2 316h84v1h-84zM2 317h84v1h-84zM2 318h84v1h-84zM2 319h84v1h-84zM2 320h84v1h-84zM2 321h84v1h-84zM2 322h84v1h-84zM2 323h84v1h-84zM2 324h84v1h-84z" fill="#b4dfb0"/></g>
<g transform="translate(367.32,44.00) scale(0.50)"><path d="M3 15h3v1h-3zM3 16h3v1h-3zM3 17h3v1h-3zm64 0h2v1h-2zM4 18h1v1h-1zm62 0h3v1h-3zM66 19h3v1h-3zM67 20h2v1h-2zM24 23h1v1h-1zM23 24h3v1h-3zM23 25h3v1h-3zM23 26h3v1h-3zM47 27h2v1h-2zm25 0h1v1h-1zM46 28h4v1h-4zm25 0h3v1h-3zM46 29h4v1h-4zm25 0h3v1h-3zM47 30h2v1h-2zm24 0h3v1h-3zM62 34h2v1h-2zM61 35h4v1h-4zM61 36h4v1h-4zM62 37h2v1h-2zM22 38h1v1h-1zM21 39h3v1h-3zm21 0h2v1h-2zM5 40h1v1h-1zm7 0h4v1h-4zm9 0h3v1h-3zm16 0h2v1h-2zm4 0h4v1h-4zM4 41h4v1h-4zm8 0h7v1h-7zm9 0h3v1h-3zm15 0h4v1h-4zm5 0h4v1h-4zM4 42h4v1h-4zm8 0h3v1h-3zm4 0h3v1h-3zm21 0h3v1h-3zm5 0h3v1h-3zM5 43h2v1h-2zm11 0h3v1h-3zm21 0h2v1h-2zm5 0h3v1h-3zM17 44h1v1h-1zm25 0h4v1h-4zm17 0h1v1h-1zm20 0h2v1h-2zM43 45h4v1h-4zm7 0h2v1h-2zm8 0h3v1h-3zm20 0h4v1h-4zM38 46h3v1h-3zm5 0h4v1h-4zm6 0h4v1h-4zm9 0h3v1h-3zm20 0h4v1h-4zM37 47h4v1h-4zm7 0h2v1h-2zm4 0h5v1h-5zm10 0h3v1h-3zm21 0h2v1h-2zM38 48h3v1h-3zm10 0h6v1h-6zm22 0h2v1h-2zM48 49h6v1h-6zm22 0h3v1h-3zM12 50h1v1h-1zm19 0h1v1h-1zm20 0h3v1h-3zm6 0h1v1h-1zm13 0h3v1h-3zM11 51h3v1h-3zm19 0h3v1h-3zm26 0h3v1h-3zm14 0h3v1h-3zm5 0h2v1h-2zM11 52h4v1h-4zm19 0h3v1h-3zm26 0h3v1h-3zm18 0h4v1h-4zM11 53h3v1h-3zm19 0h3v1h-3zm26 0h3v1h-3zm18 0h5v1h-5zM75 54h4v1h-4zM11 55h3v1h-3zm65 0h1v1h-1zM11 56h4v1h-4zm67 0h2v1h-2zM11 57h3v1h-3zm57 0h3v1h-3zm9 0h3v1h-3zM14 58h1v1h-1zm45 0h2v1h-2zm8 0h4v1h-4zm10 0h3v1h-3zM13 59h3v1h-3zm10 0h3v1h-3zm22 0h2v1h-2zm9 0h1v1h-1zm4 0h3v1h-3zm10 0h3v1h-3zm9 0h3v1h-3zM4 60h3v1h-3zm9 0h3v1h-3zm10 0h3v1h-3zm21 0h4v1h-4zm9 0h3v1h-3zm5 0h3v1h-3zm11 0h1v1h-1zm9 0h3v1h-3zM4 61h3v1h-3zm9 0h3v1h-3zm10 0h3v1h-3zm21 0h4v1h-4zm9 0h3v1h-3zm5 0h3v1h-3zm20 0h3v1h-3zM4 62h3v1h-3zm11 0h2v1h-2zm38 0h3v1h-3zm15 0h1v1h-1zm10 0h4v1h-4zM5 63h1v1h-1zm9 0h4v1h-4zm53 0h5v1h-5zm13 0h3v1h-3zM14 64h4v1h-4zm15 0h3v1h-3zm17 0h1v1h-1zm19 0h8v1h-8zm15 0h3v1h-3zM15 65h2v1h-2zm14 0h3v1h-3zm5 0h4v1h-4zm10 0h4v1h-4zm20 0h9v1h-9zm16 0h3v1h-3zM29 66h3v1h-3zm5 0h5v1h-5zm10 0h4v1h-4zm20 0h4v1h-4zm5 0h3v1h-3zM12 67h2v1h-2zm6 0h2v1h-2zm11 0h2v1h-2zm6 0h4v1h-4zm5 0h2v1h-2zm4 0h4v1h-4zm21 0h5v1h-5zM7 68h3v1h-3zm4 0h4v1h-4zm6 0h4v1h-4zm19 0h2v1h-2zm3 0h4v1h-4zm27 0h4v1h-4zM7 69h8v1h-8zm10 0h4v1h-4zm7 0h2v1h-2zm15 0h4v1h-4zm28 0h5v1h-5zM7 70h3v1h-3zm5 0h2v1h-2zm3 0h1v1h-1zm3 0h3v1h-3zm5 0h6v1h-6zm13 0h3v1h-3zm4 0h2v1h-2zm27 0h5v1h-5zm15 0h3v1h-3zM5 71h6v1h-6zm9 0h3v1h-3zm4 0h4v1h-4zm5 0h7v1h-7zm9 0h7v1h-7zm16 0h3v1h-3zm21 0h3v1h-3zm13 0h3v1h-3zM4 72h7v1h-7zm8 0h5v1h-5zm6 0h3v1h-3zm6 0h6v1h-6zm8 0h7v1h-7zm16 0h3v1h-3zm7 0h4v1h-4zm5 0h2v1h-2zm9 0h2v1h-2zm4 0h3v1h-3zm9 0h3v1h-3zM4 73h6v1h-6zm7 0h6v1h-6zm8 0h3v1h-3zm8 0h2v1h-2zm5 0h6v1h-6zm16 0h3v1h-3zm7 0h8v1h-8zm18 0h4v1h-4zm8 0h2v1h-2zM5 74h5v1h-5zm6 0h4v1h-4zm9 0h3v1h-3zm9 0h2v1h-2zm6 0h3v1h-3zm20 0h8v1h-8zm16 0h5v1h-5zm9 0h4v1h-4zM7 75h4v1h-4zm5 0h2v1h-2zm8 0h3v1h-3zm8 0h4v1h-4zm7 0h4v1h-4zm8 0h3v1h-3zm18 0h3v1h-3zm5 0h3v1h-3zm5 0h4v1h-4zm9 0h4v1h-4zM7 76h5v1h-5zm10 0h7v1h-7zm12 0h4v1h-4zm6 0h4v1h-4zm7 0h4v1h-4zm19 0h4v1h-4zm5 0h3v1h-3zm5 0h3v1h-3zm10 0h2v1h-2zM8 77h4v1h-4zm9 0h7v1h-7zm12 0h4v1h-4zm7 0h2v1h-2zm7 0h3v1h-3zm18 0h3v1h-3zm5 0h3v1h-3zM4 78h3v1h-3zm5 0h5v1h-5zm8 0h3v1h-3zm4 0h2v1h-2zm6 0h6v1h-6zm44 0h2v1h-2zM3 79h5v1h-5zm6 0h6v1h-6zm18 0h3v1h-3zm22 0h3v1h-3zm6 0h1v1h-1zm15 0h5v1h-5zM3 80h12v1h-12zm14 0h1v1h-1zm10 0h3v1h-3zm14 0h1v1h-1zm7 0h4v1h-4zm6 0h3v1h-3zm16 0h5v1h-5zM3 81h5v1h-5zm6 0h5v1h-5zm7 0h4v1h-4zm9 0h4v1h-4zm5 0h3v1h-3zm5 0h2v1h-2zm5 0h4v1h-4zm6 0h6v1h-6zm7 0h4v1h-4zm18 0h4v1h-4zm11 0h3v1h-3zM11 82h4v1h-4zm5 0h4v1h-4zm9 0h4v1h-4zm5 0h9v1h-9zm10 0h4v1h-4zm5 0h4v1h-4zm7 0h5v1h-5zm7 0h2v1h-2zm14 0h1v1h-1zm8 0h4v1h-4zM10 83h5v1h-5zm6 0h3v1h-3zm7 0h10v1h-10zm11 0h5v1h-5zm6 0h5v1h-5zm6 0h5v1h-5zm6 0h4v1h-4zm6 0h5v1h-5zm24 0h4v1h-4zM3 84h4v1h-4zm7 0h5v1h-5zm12 0h4v1h-4zm7 0h4v1h-4zm6 0h4v1h-4zm7 0h2v1h-2zm6 0h8v1h-8zm10 0h5v1h-5zm8 0h3v1h-3zm16 0h4v1h-4zM3 85h6v1h-6zm7 0h6v1h-6zm12 0h4v1h-4zm7 0h3v1h-3zm14 0h1v1h-1zm3 0h6v1h-6zm7 0h2v1h-2zm6 0h5v1h-5zm7 0h3v1h-3zm18 0h1v1h-1zM3 86h13v1h-13zm20 0h2v1h-2zm7 0h1v1h-1zm12 0h3v1h-3zm4 0h5v1h-5zm15 0h2v1h-2zm5 0h3v1h-3zm7 0h4v1h-4zM5 87h5v1h-5zm6 0h5v1h-5zm27 0h2v1h-2zm3 0h4v1h-4zm5 0h3v1h-3zm20 0h2v1h-2zm6 0h5v1h-5zm7 0h5v1h-5zM5 88h4v1h-4zm6 0h6v1h-6zm17 0h2v1h-2zm9 0h4v1h-4zm5 0h4v1h-4zm12 0h2v1h-2zm3 0h2v1h-2zm15 0h5v1h-5zm7 0h6v1h-6zM5 89h1v1h-1zm6 0h7v1h-7zm16 0h3v1h-3zm10 0h9v1h-9zm13 0h2v1h-2zm3 0h7v1h-7zm20 0h3v1h-3zm6 0h6v1h-6zM4 90h3v1h-3zm8 0h6v1h-6zm12 0h13v1h-13zm14 0h8v1h-8zm11 0h11v1h-11zm24 0h1v1h-1zm5 0h7v1h-7zM4 91h4v1h-4zm11 0h2v1h-2zm9 0h13v1h-13zm14 0h2v1h-2zm3 0h4v1h-4zm8 0h4v1h-4zm5 0h9v1h-9zm11 0h4v1h-4zm7 0h3v1h-3zm6 0h4v1h-4zM4 92h4v1h-4zm15 0h1v1h-1zm5 0h17v1h-17zm25 0h3v1h-3zm8 0h6v1h-6zm7 0h6v1h-6zm8 0h4v1h-4zm7 0h3v1h-3zM5 93h4v1h-4zm13 0h4v1h-4zm6 0h3v1h-3zm4 0h3v1h-3zm9 0h4v1h-4zm15 0h2v1h-2zm5 0h6v1h-6zm8 0h5v1h-5zm7 0h3v1h-3zm5 0h3v1h-3zM6 94h4v1h-4zm12 0h5v1h-5zm6 0h7v1h-7zm11 0h2v1h-2zm3 0h2v1h-2zm10 0h2v1h-2zm3 0h4v1h-4zm7 0h2v1h-2zm7 0h3v1h-3zm5 0h2v1h-2zm7 0h3v1h-3zM6 95h4v1h-4zm11 0h6v1h-6zm7 0h6v1h-6zm10 0h4v1h-4zm13 0h8v1h-8zm17 0h9v1h-9zm10 0h6v1h-6zM7 96h2v1h-2zm10 0h7v1h-7zm8 0h1v1h-1zm2 0h3v1h-3zm7 0h4v1h-4zm13 0h4v1h-4zm5 0h2v1h-2zm12 0h9v1h-9zm10 0h3v1h-3zm4 0h2v1h-2zm3 0h2v1h-2zM18 97h8v1h-8zm17 0h2v1h-2zm5 0h3v1h-3zm8 0h2v1h-2zm16 0h8v1h-8zm10 0h10v1h-10zM6 98h3v1h-3zm8 0h1v1h-1zm4 0h11v1h-11zm18 0h1v1h-1zm4 0h4v1h-4zm10 0h3v1h-3zm6 0h2v1h-2zm9 0h1v1h-1zm2 0h4v1h-4zm8 0h9v1h-9zM5 99h4v1h-4zm8 0h3v1h-3zm5 0h13v1h-13zm17 0h4v1h-4zm5 0h4v1h-4zm10 0h3v1h-3zm5 0h4v1h-4zm6 0h3v1h-3zm7 0h2v1h-2zm6 0h10v1h-10zM6 100h4v1h-4zm7 0h3v1h-3zm5 0h5v1h-5zm7 0h6v1h-6zm10 0h7v1h-7zm15 0h3v1h-3zm5 0h4v1h-4zm6 0h5v1h-5zm8 0h9v1h-9zm10 0h6v1h-6zM3 101h8v1h-8zm9 0h4v1h-4zm8 0h2v1h-2zm7 0h4v1h-4zm6 0h1v1h-1zm2 0h7v1h-7zm16 0h1v1h-1zm5 0h3v1h-3zm5 0h6v1h-6zm8 0h9v1h-9zm10 0h7v1h-7zM3 102h8v1h-8zm9 0h4v1h-4zm7 0h3v1h-3zm10 0h1v1h-1zm3 0h4v1h-4zm5 0h5v1h-5zm6 0h2v1h-2zm13 0h2v1h-2zm7 0h15v1h-15zm17 0h1v1h-1zm2 0h4v1h-4zM3 103h7v1h-7zm9 0h3v1h-3zm6 0h4v1h-4zm14 0h14v1h-14zm23 0h5v1h-5zm8 0h11v1h-11zm12 0h3v1h-3zm6 0h4v1h-4zM5 104h2v1h-2zm7 0h3v1h-3zm4 0h1v1h-1zm3 0h3v1h-3zm13 0h14v1h-14zm19 0h3v1h-3zm4 0h15v1h-15zm18 0h3v1h-3zm5 0h7v1h-7zM4 105h4v1h-4zm5 0h1v1h-1zm4 0h5v1h-5zm17 0h3v1h-3zm4 0h8v1h-8zm9 0h2v1h-2zm5 0h7v1h-7zm8 0h12v1h-12zm14 0h2v1h-2zm3 0h3v1h-3zm5 0h7v1h-7zM4 106h7v1h-7zm11 0h3v1h-3zm14 0h14v1h-14zm17 0h8v1h-8zm14 0h16v1h-16zm17 0h4v1h-4zm5 0h3v1h-3zM3 107h4v1h-4zm5 0h4v1h-4zm7 0h3v1h-3zm4 0h2v1h-2zm10 0h14v1h-14zm17 0h7v1h-7zm11 0h6v1h-6zm7 0h12v1h-12zm13 0h5v1h-5zM4 108h2v1h-2zm3 0h4v1h-4zm7 0h3v1h-3zm4 0h4v1h-4zm12 0h15v1h-15zm16 0h8v1h-8zm11 0h3v1h-3zm9 0h3v1h-3zm4 0h12v1h-12zM7 109h15v1h-15zm26 0h5v1h-5zm7 0h8v1h-8zm9 0h5v1h-5zm8 0h3v1h-3zm8 0h3v1h-3zm5 0h7v1h-7zm8 0h3v1h-3zM6 110h4v1h-4zm5 0h12v1h-12zm23 0h3v1h-3zm6 0h8v1h-8zm11 0h5v1h-5zm7 0h1v1h-1zm6 0h4v1h-4zm8 0h4v1h-4zm5 0h3v1h-3zm6 0h2v1h-2zM5 111h4v1h-4zm5 0h13v1h-13zm18 0h5v1h-5zm12 0h8v1h-8zm13 0h4v1h-4zm5 0h1v1h-1zm2 0h2v1h-2zm4 0h4v1h-4zm12 0h4v1h-4zm6 0h4v1h-4zM5 112h4v1h-4zm5 0h3v1h-3zm4 0h1v1h-1zm5 0h5v1h-5zm9 0h5v1h-5zm13 0h2v1h-2zm6 0h2v1h-2zm6 0h15v1h-15zm23 0h4v1h-4zm6 0h4v1h-4zM6 113h2v1h-2zm4 0h4v1h-4zm9 0h5v1h-5zm8 0h6v1h-6zm19 0h4v1h-4zm8 0h9v1h-9zm10 0h5v1h-5zm6 0h1v1h-1zm4 0h5v1h-5zm6 0h5v1h-5zM6 114h3v1h-3zm4 0h4v1h-4zm7 0h7v1h-7zm9 0h4v1h-4zm11 0h2v1h-2zm9 0h5v1h-5zm9 0h17v1h-17zm19 0h5v1h-5zm6 0h5v1h-5zM6 115h3v1h-3zm5 0h3v1h-3zm6 0h13v1h-13zm19 0h4v1h-4zm11 0h4v1h-4zm8 0h4v1h-4zm5 0h12v1h-12zm15 0h9v1h-9zM4 116h5v1h-5zm7 0h4v1h-4zm6 0h4v1h-4zm6 0h7v1h-7zm10 0h7v1h-7zm15 0h3v1h-3zm7 0h3v1h-3zm5 0h6v1h-6zm9 0h3v1h-3zm7 0h8v1h-8zM4 117h3v1h-3zm5 0h1v1h-1zm2 0h8v1h-8zm12 0h7v1h-7zm10 0h6v1h-6zm15 0h3v1h-3zm7 0h4v1h-4zm7 0h4v1h-4zm7 0h4v1h-4zm6 0h8v1h-8zM4 118h3v1h-3zm4 0h3v1h-3zm4 0h7v1h-7zm12 0h2v1h-2zm3 0h2v1h-2zm6 0h5v1h-5zm11 0h3v1h-3zm4 0h3v1h-3zm7 0h5v1h-5zm8 0h2v1h-2zm6 0h3v1h-3zm6 0h3v1h-3zm6 0h1v1h-1zM5 119h1v1h-1zm3 0h4v1h-4zm5 0h6v1h-6zm10 0h2v1h-2zm7 0h2v1h-2zm4 0h7v1h-7zm9 0h4v1h-4zm5 0h5v1h-5zm7 0h5v1h-5zm20 0h3v1h-3zm7 0h2v1h-2zM7 120h7v1h-7zm10 0h4v1h-4zm5 0h4v1h-4zm5 0h6v1h-6zm7 0h7v1h-7zm9 0h17v1h-17zm38 0h4v1h-4zM7 121h4v1h-4zm5 0h25v1h-25zm26 0h3v1h-3zm5 0h16v1h-16zm37 0h5v1h-5zM3 122h3v1h-3zm4 0h33v1h-33zm35 0h8v1h-8zm9 0h8v1h-8zm14 0h3v1h-3zm6 0h2v1h-2zm9 0h5v1h-5zM3 123h33v1h-33zm34 0h3v1h-3zm5 0h17v1h-17zm23 0h4v1h-4zm5 0h4v1h-4zm5 0h2v1h-2zm5 0h6v1h-6zM3 124h5v1h-5zm6 0h5v1h-5zm7 0h1v1h-1zm2 0h7v1h-7zm10 0h5v1h-5zm9 0h3v1h-3zm4 0h4v1h-4zm6 0h11v1h-11zm15 0h7v1h-7zm8 0h4v1h-4zm5 0h4v1h-4zm7 0h3v1h-3zM3 125h5v1h-5zm10 0h3v1h-3zm5 0h6v1h-6zm10 0h5v1h-5zm9 0h7v1h-7zm9 0h12v1h-12zm15 0h8v1h-8zm9 0h3v1h-3zm5 0h5v1h-5zm6 0h5v1h-5zM4 126h3v1h-3zm5 0h1v1h-1zm4 0h3v1h-3zm6 0h6v1h-6zm9 0h5v1h-5zm8 0h22v1h-22zm24 0h8v1h-8zm15 0h5v1h-5zm7 0h4v1h-4zM8 127h3v1h-3zm5 0h3v1h-3zm5 0h7v1h-7zm8 0h6v1h-6zm8 0h5v1h-5zm7 0h16v1h-16zm19 0h8v1h-8zm16 0h4v1h-4zm6 0h4v1h-4zM4 128h3v1h-3zm4 0h4v1h-4zm6 0h2v1h-2zm3 0h14v1h-14zm16 0h6v1h-6zm10 0h3v1h-3zm6 0h6v1h-6zm9 0h2v1h-2zm3 0h7v1h-7zm15 0h7v1h-7zM3 129h9v1h-9zm14 0h3v1h-3zm7 0h5v1h-5zm10 0h3v1h-3zm9 0h3v1h-3zm4 0h4v1h-4zm5 0h3v1h-3zm5 0h5v1h-5zm6 0h4v1h-4zm5 0h1v1h-1zm9 0h2v1h-2zm3 0h5v1h-5zM3 130h9v1h-9zm11 0h2v1h-2zm3 0h3v1h-3zm7 0h4v1h-4zm19 0h9v1h-9zm14 0h5v1h-5zm6 0h7v1h-7zm8 0h2v1h-2zm3 0h4v1h-4zm6 0h5v1h-5zM3 131h9v1h-9zm10 0h4v1h-4zm10 0h5v1h-5zm14 0h1v1h-1zm2 0h14v1h-14zm15 0h2v1h-2zm3 0h5v1h-5zm6 0h16v1h-16zm18 0h4v1h-4zM3 132h8v1h-8zm10 0h4v1h-4zm10 0h5v1h-5zm13 0h9v1h-9zm11 0h10v1h-10zm13 0h3v1h-3zm4 0h2v1h-2zm3 0h12v1h-12zm16 0h2v1h-2zM4 133h6v1h-6zm10 0h5v1h-5zm10 0h3v1h-3zm4 0h2v1h-2zm8 0h16v1h-16zm17 0h4v1h-4zm7 0h3v1h-3zm6 0h1v1h-1zm2 0h2v1h-2zm3 0h2v1h-2zM3 134h7v1h-7zm12 0h4v1h-4zm9 0h7v1h-7zm9 0h2v1h-2zm3 0h8v1h-8zm9 0h7v1h-7zm9 0h2v1h-2zm4 0h6v1h-6zm7 0h3v1h-3zm4 0h2v1h-2zm5 0h5v1h-5zm7 0h4v1h-4zM3 135h7v1h-7zm12 0h3v1h-3zm9 0h7v1h-7zm8 0h4v1h-4zm6 0h6v1h-6zm7 0h27v1h-27zm29 0h11v1h-11zM3 136h6v1h-6zm8 0h3v1h-3zm4 0h3v1h-3zm9 0h6v1h-6zm8 0h12v1h-12zm14 0h1v1h-1zm2 0h24v1h-24zm26 0h11v1h-11zM4 137h4v1h-4zm5 0h5v1h-5zm6 0h5v1h-5zm8 0h4v1h-4zm5 0h1v1h-1zm5 0h28v1h-28zm29 0h9v1h-9zm12 0h9v1h-9zM3 138h12v1h-12zm14 0h12v1h-12zm16 0h41v1h-41zm42 0h9v1h-9zM2 139h13v1h-13zm15 0h6v1h-6zm7 0h6v1h-6zm9 0h3v1h-3zm5 0h6v1h-6zm7 0h5v1h-5zm9 0h6v1h-6zm7 0h13v1h-13zm14 0h3v1h-3zm5 0h4v1h-4zM2 140h8v1h-8zm9 0h5v1h-5zm9 0h3v1h-3zm6 0h4v1h-4zm7 0h3v1h-3zm5 0h12v1h-12zm17 0h1v1h-1zm3 0h1v1h-1zm2 0h13v1h-13zm22 0h3v1h-3zM3 141h7v1h-7zm8 0h4v1h-4zm15 0h3v1h-3zm12 0h8v1h-8zm9 0h7v1h-7zm13 0h13v1h-13zm21 0h5v1h-5zM3 142h4v1h-4zm5 0h8v1h-8zm9 0h3v1h-3zm7 0h5v1h-5zm17 0h4v1h-4zm7 0h7v1h-7zm10 0h1v1h-1zm2 0h14v1h-14zm16 0h3v1h-3zm5 0h5v1h-5zM3 143h4v1h-4zm6 0h12v1h-12zm14 0h7v1h-7zm19 0h4v1h-4zm5 0h7v1h-7zm9 0h4v1h-4zm7 0h5v1h-5zm6 0h11v1h-11zm12 0h5v1h-5zM4 144h18v1h-18zm19 0h7v1h-7zm10 0h5v1h-5zm11 0h10v1h-10zm12 0h4v1h-4zm7 0h16v1h-16zm18 0h5v1h-5zM4 145h22v1h-22zm23 0h4v1h-4zm5 0h7v1h-7zm12 0h16v1h-16zm21 0h6v1h-6zm7 0h7v1h-7zm9 0h5v1h-5zM5 146h10v1h-10zm11 0h9v1h-9zm12 0h10v1h-10zm15 0h5v1h-5zm6 0h9v1h-9zm16 0h9v1h-9zm10 0h9v1h-9zM4 147h11v1h-11zm12 0h3v1h-3zm6 0h3v1h-3zm6 0h10v1h-10zm14 0h4v1h-4zm6 0h9v1h-9zm10 0h1v1h-1zm5 0h11v1h-11zm12 0h10v1h-10zM5 148h9v1h-9zm11 0h3v1h-3zm6 0h4v1h-4zm5 0h9v1h-9zm10 0h4v1h-4zm5 0h4v1h-4zm5 0h13v1h-13zm15 0h12v1h-12zm14 0h9v1h-9zM4 149h4v1h-4zm6 0h5v1h-5zm6 0h3v1h-3zm6 0h29v1h-29zm31 0h22v1h-22zm23 0h9v1h-9zM3 150h5v1h-5zm8 0h5v1h-5zm7 0h2v1h-2zm4 0h19v1h-19zm20 0h8v1h-8zm12 0h21v1h-21zm22 0h9v1h-9zM3 151h5v1h-5zm9 0h4v1h-4zm5 0h4v1h-4zm5 0h19v1h-19zm20 0h9v1h-9zm12 0h21v1h-21zm24 0h6v1h-6zM3 152h4v1h-4zm10 0h8v1h-8zm9 0h4v1h-4zm5 0h10v1h-10zm11 0h23v1h-23zm25 0h12v1h-12zm15 0h5v1h-5zM3 153h4v1h-4zm11 0h3v1h-3zm4 0h8v1h-8zm9 0h10v1h-10zm11 0h22v1h-22zm26 0h12v1h-12zm17 0h3v1h-3zM3 154h3v1h-3zm10 0h4v1h-4zm6 0h7v1h-7zm8 0h5v1h-5zm6 0h17v1h-17zm18 0h8v1h-8zm9 0h1v1h-1zm5 0h11v1h-11zm13 0h6v1h-6zM4 155h1v1h-1zm9 0h4v1h-4zm6 0h8v1h-8zm10 0h2v1h-2zm4 0h17v1h-17zm19 0h5v1h-5zm7 0h3v1h-3zm6 0h11v1h-11zm13 0h6v1h-6zM5 156h3v1h-3zm8 0h4v1h-4zm7 0h8v1h-8zm12 0h30v1h-30zm32 0h10v1h-10zm14 0h6v1h-6zM3 157h5v1h-5zm11 0h2v1h-2zm8 0h6v1h-6zm9 0h8v1h-8zm10 0h21v1h-21zm22 0h14v1h-14zm15 0h7v1h-7zM3 158h5v1h-5zm17 0h8v1h-8zm9 0h11v1h-11zm14 0h18v1h-18zm19 0h15v1h-15zm16 0h6v1h-6zM3 159h4v1h-4zm6 0h4v1h-4zm11 0h6v1h-6zm8 0h12v1h-12zm13 0h15v1h-15zm17 0h3v1h-3zm4 0h5v1h-5zm6 0h4v1h-4zm5 0h10v1h-10zM3 160h13v1h-13zm17 0h3v1h-3zm8 0h12v1h-12zm13 0h14v1h-14zm17 0h14v1h-14zm15 0h10v1h-10zM3 161h15v1h-15zm17 0h3v1h-3zm7 0h17v1h-17zm18 0h10v1h-10zm12 0h14v1h-14zm15 0h10v1h-10zm11 0h1v1h-1zM2 162h17v1h-17zm18 0h6v1h-6zm7 0h3v1h-3zm4 0h17v1h-17zm18 0h6v1h-6zm8 0h14v1h-14zm15 0h9v1h-9zm10 0h3v1h-3zM2 163h46v1h-46zm49 0h4v1h-4zm6 0h13v1h-13zm16 0h12v1h-12zM3 164h23v1h-23zm26 0h21v1h-21zm22 0h3v1h-3zm6 0h18v1h-18zm20 0h4v1h-4zm5 0h3v1h-3zM4 165h10v1h-10zm11 0h8v1h-8zm13 0h15v1h-15zm16 0h10v1h-10zm16 0h17v1h-17zm18 0h5v1h-5zM4 166h10v1h-10zm11 0h11v1h-11zm12 0h9v1h-9zm10 0h3v1h-3zm5 0h4v1h-4zm5 0h6v1h-6zm11 0h1v1h-1zm3 0h23v1h-23zM3 167h2v1h-2zm3 0h8v1h-8zm11 0h22v1h-22zm24 0h13v1h-13zm16 0h27v1h-27zM3 168h12v1h-12zm13 0h15v1h-15zm17 0h6v1h-6zm8 0h13v1h-13zm16 0h15v1h-15zm16 0h12v1h-12zM3 169h25v1h-25zm27 0h19v1h-19zm21 0h2v1h-2zm3 0h3v1h-3zm4 0h13v1h-13zm17 0h6v1h-6zm7 0h3v1h-3zM3 170h5v1h-5zm6 0h11v1h-11zm12 0h30v1h-30zm33 0h3v1h-3zm7 0h14v1h-14zm15 0h5v1h-5zm6 0h4v1h-4zM5 171h2v1h-2zm4 0h11v1h-11zm12 0h30v1h-30zm32 0h4v1h-4zm10 0h18v1h-18zm19 0h4v1h-4zM3 172h2v1h-2zm3 0h13v1h-13zm15 0h4v1h-4zm5 0h25v1h-25zm26 0h7v1h-7zm10 0h19v1h-19zm21 0h2v1h-2zM3 173h15v1h-15zm24 0h32v1h-32zm35 0h5v1h-5zm6 0h13v1h-13zM3 174h17v1h-17zm25 0h10v1h-10zm11 0h27v1h-27zm30 0h1v1h-1zm3 0h10v1h-10zM3 175h3v1h-3zm6 0h1v1h-1zm2 0h12v1h-12zm17 0h7v1h-7zm8 0h1v1h-1zm6 0h4v1h-4zm5 0h24v1h-24zm27 0h11v1h-11zM3 176h22v1h-22zm23 0h8v1h-8zm15 0h30v1h-30zm32 0h13v1h-13zM3 177h31v1h-31zm36 0h12v1h-12zm13 0h8v1h-8zm9 0h10v1h-10zm11 0h14v1h-14zM3 178h8v1h-8zm9 0h23v1h-23zm27 0h12v1h-12zm13 0h27v1h-27zm28 0h5v1h-5zM4 179h11v1h-11zm13 0h9v1h-9zm11 0h35v1h-35zm38 0h12v1h-12zm14 0h5v1h-5zM8 180h8v1h-8zm9 0h8v1h-8zm11 0h36v1h-36zm38 0h12v1h-12zm14 0h3v1h-3zM8 181h18v1h-18zm20 0h4v1h-4zm5 0h15v1h-15zm16 0h10v1h-10zm11 0h4v1h-4zm6 0h12v1h-12zm16 0h3v1h-3zM7 182h3v1h-3zm4 0h15v1h-15zm16 0h21v1h-21zm22 0h10v1h-10zm11 0h5v1h-5zm6 0h10v1h-10zm13 0h6v1h-6zM4 183h15v1h-15zm16 0h6v1h-6zm7 0h20v1h-20zm25 0h13v1h-13zm14 0h10v1h-10zm13 0h6v1h-6zM3 184h23v1h-23zm24 0h15v1h-15zm16 0h5v1h-5zm11 0h10v1h-10zm12 0h10v1h-10zm13 0h3v1h-3zM3 185h8v1h-8zm9 0h9v1h-9zm12 0h1v1h-1zm3 0h5v1h-5zm6 0h9v1h-9zm11 0h4v1h-4zm5 0h2v1h-2zm4 0h3v1h-3zm4 0h5v1h-5zm10 0h4v1h-4zm5 0h3v1h-3zm5 0h7v1h-7zM4 186h6v1h-6zm8 0h14v1h-14zm15 0h14v1h-14zm17 0h3v1h-3zm4 0h9v1h-9zm10 0h5v1h-5zm7 0h5v1h-5zm7 0h3v1h-3zm4 0h8v1h-8zM3 187h7v1h-7zm11 0h12v1h-12zm13 0h14v1h-14zm15 0h5v1h-5zm6 0h8v1h-8zm9 0h6v1h-6zm8 0h3v1h-3zm6 0h5v1h-5zm6 0h7v1h-7zM3 188h9v1h-9zm12 0h31v1h-31zm33 0h3v1h-3zm4 0h3v1h-3zm4 0h7v1h-7zm9 0h19v1h-19zM4 189h8v1h-8zm9 0h1v1h-1zm2 0h9v1h-9zm10 0h9v1h-9zm10 0h11v1h-11zm16 0h11v1h-11zm14 0h20v1h-20zM4 190h28v1h-28zm31 0h12v1h-12zm16 0h12v1h-12zm13 0h16v1h-16zm17 0h4v1h-4zM3 191h8v1h-8zm9 0h19v1h-19zm23 0h13v1h-13zm14 0h1v1h-1zm3 0h6v1h-6zm7 0h16v1h-16zm19 0h3v1h-3zm4 0h3v1h-3zM2 192h29v1h-29zm35 0h14v1h-14zm15 0h6v1h-6zm8 0h3v1h-3zm4 0h17v1h-17zm18 0h3v1h-3zM2 193h10v1h-10zm11 0h7v1h-7zm9 0h3v1h-3zm4 0h7v1h-7zm9 0h16v1h-16zm17 0h7v1h-7zm9 0h10v1h-10zm12 0h12v1h-12zM3 194h16v1h-16zm19 0h3v1h-3zm5 0h6v1h-6zm8 0h6v1h-6zm7 0h9v1h-9zm10 0h9v1h-9zm10 0h23v1h-23zM3 195h3v1h-3zm7 0h9v1h-9zm11 0h3v1h-3zm4 0h8v1h-8zm10 0h5v1h-5zm6 0h5v1h-5zm9 0h34v1h-34zM3 196h15v1h-15zm18 0h24v1h-24zm25 0h37v1h-37zM3 197h41v1h-41zm42 0h26v1h-26zm27 0h11v1h-11zM5 198h22v1h-22zm27 0h13v1h-13zm14 0h25v1h-25zm26 0h12v1h-12zM7 199h8v1h-8zm9 0h11v1h-11zm13 0h3v1h-3zm4 0h16v1h-16zm19 0h18v1h-18zm20 0h7v1h-7zm8 0h5v1h-5zM7 200h9v1h-9zm11 0h9v1h-9zm10 0h4v1h-4zm6 0h36v1h-36zm37 0h8v1h-8zm9 0h5v1h-5zM7 201h12v1h-12zm13 0h7v1h-7zm9 0h28v1h-28zm30 0h19v1h-19zm20 0h5v1h-5zM5 202h6v1h-6zm8 0h14v1h-14zm15 0h13v1h-13zm14 0h15v1h-15zm16 0h10v1h-10zm12 0h13v1h-13zM4 203h10v1h-10zm12 0h20v1h-20zm21 0h19v1h-19zm20 0h8v1h-8zm11 0h14v1h-14zM4 204h11v1h-11zm12 0h15v1h-15zm17 0h4v1h-4zm5 0h9v1h-9zm11 0h16v1h-16zm18 0h15v1h-15zM4 205h27v1h-27zm29 0h32v1h-32zm34 0h18v1h-18zM5 206h15v1h-15zm16 0h8v1h-8zm9 0h3v1h-3zm4 0h4v1h-4zm5 0h26v1h-26zm27 0h19v1h-19zM4 207h47v1h-47zm51 0h10v1h-10zm11 0h8v1h-8zm9 0h10v1h-10zM5 208h3v1h-3zm4 0h33v1h-33zm37 0h4v1h-4zm9 0h23v1h-23zm24 0h5v1h-5zM8 209h34v1h-34zm37 0h4v1h-4zm5 0h3v1h-3zm4 0h10v1h-10zm11 0h4v1h-4zm6 0h12v1h-12zM4 210h3v1h-3zm5 0h3v1h-3zm4 0h6v1h-6zm7 0h22v1h-22zm24 0h4v1h-4zm6 0h11v1h-11zm12 0h7v1h-7zm8 0h13v1h-13zM4 211h8v1h-8zm11 0h5v1h-5zm6 0h8v1h-8zm9 0h12v1h-12zm14 0h16v1h-16zm17 0h8v1h-8zm9 0h15v1h-15zM4 212h16v1h-16zm17 0h21v1h-21zm24 0h23v1h-23zm25 0h16v1h-16zM4 213h56v1h-56zm57 0h7v1h-7zm8 0h16v1h-16zM3 214h61v1h-61zm62 0h2v1h-2zm3 0h14v1h-14zM3 215h29v1h-29zm31 0h6v1h-6zm7 0h24v1h-24zm26 0h15v1h-15zm16 0h1v1h-1zM3 216h25v1h-25zm26 0h10v1h-10zm12 0h24v1h-24zm25 0h5v1h-5zm6 0h13v1h-13zM3 217h16v1h-16zm19 0h5v1h-5zm9 0h13v1h-13zm15 0h25v1h-25zm26 0h6v1h-6zm8 0h5v1h-5zM3 218h3v1h-3zm5 0h1v1h-1zm2 0h17v1h-17zm19 0h35v1h-35zm36 0h11v1h-11zm16 0h4v1h-4zM3 219h7v1h-7zm9 0h16v1h-16zm17 0h22v1h-22zm23 0h11v1h-11zm12 0h10v1h-10zm16 0h5v1h-5zM3 220h7v1h-7zm9 0h4v1h-4zm5 0h18v1h-18zm19 0h16v1h-16zm17 0h10v1h-10zm12 0h9v1h-9zm10 0h10v1h-10zM3 221h9v1h-9zm10 0h3v1h-3zm4 0h3v1h-3zm4 0h25v1h-25zm26 0h6v1h-6zm7 0h9v1h-9zm10 0h21v1h-21zM3 222h13v1h-13zm14 0h3v1h-3zm4 0h64v1h-64zM4 223h12v1h-12zm13 0h7v1h-7zm8 0h10v1h-10zm11 0h40v1h-40zm46 0h3v1h-3zM3 224h13v1h-13zm14 0h16v1h-16zm18 0h20v1h-20zm21 0h3v1h-3zm5 0h16v1h-16zm18 0h6v1h-6zM3 225h13v1h-13zm14 0h12v1h-12zm13 0h4v1h-4zm5 0h9v1h-9zm10 0h10v1h-10zm11 0h4v1h-4zm6 0h23v1h-23zM4 226h24v1h-24zm25 0h26v1h-26zm28 0h4v1h-4zm5 0h9v1h-9zm10 0h13v1h-13zM3 227h18v1h-18zm19 0h14v1h-14zm15 0h7v1h-7zm8 0h16v1h-16zm18 0h23v1h-23zM3 228h6v1h-6zm11 0h6v1h-6zm8 0h14v1h-14zm15 0h8v1h-8zm9 0h15v1h-15zm18 0h22v1h-22zM3 229h7v1h-7zm11 0h7v1h-7zm8 0h23v1h-23zm25 0h3v1h-3zm4 0h11v1h-11zm14 0h6v1h-6zm7 0h14v1h-14zM5 230h58v1h-58zm61 0h5v1h-5zm6 0h13v1h-13zM5 231h60v1h-60zm62 0h4v1h-4zm6 0h11v1h-11zM9 232h23v1h-23zm24 0h21v1h-21zm22 0h29v1h-29zM9 233h23v1h-23zm24 0h19v1h-19zm20 0h30v1h-30zM4 234h3v1h-3zm5 0h52v1h-52zm53 0h23v1h-23zM4 235h3v1h-3zm6 0h12v1h-12zm13 0h15v1h-15zm16 0h30v1h-30zm32 0h14v1h-14zM4 236h4v1h-4zm7 0h10v1h-10zm12 0h15v1h-15zm16 0h17v1h-17zm19 0h27v1h-27zM5 237h3v1h-3zm5 0h10v1h-10zm11 0h17v1h-17zm18 0h17v1h-17zm19 0h13v1h-13zm14 0h13v1h-13zM4 238h4v1h-4zm5 0h29v1h-29zm30 0h12v1h-12zm13 0h5v1h-5zm6 0h1v1h-1zm4 0h11v1h-11zm12 0h11v1h-11zM5 239h4v1h-4zm5 0h7v1h-7zm8 0h15v1h-15zm16 0h4v1h-4zm6 0h3v1h-3zm5 0h3v1h-3zm6 0h35v1h-35zM4 240h6v1h-6zm7 0h10v1h-10zm12 0h5v1h-5zm7 0h10v1h-10zm11 0h3v1h-3zm10 0h22v1h-22zm23 0h12v1h-12zM3 241h17v1h-17zm20 0h5v1h-5zm9 0h12v1h-12zm15 0h2v1h-2zm4 0h16v1h-16zm17 0h17v1h-17zM2 242h19v1h-19zm21 0h5v1h-5zm9 0h4v1h-4zm5 0h3v1h-3zm4 0h3v1h-3zm5 0h4v1h-4zm6 0h14v1h-14zm16 0h14v1h-14zM3 243h13v1h-13zm15 0h4v1h-4zm5 0h5v1h-5zm7 0h9v1h-9zm10 0h10v1h-10zm12 0h29v1h-29zM3 244h24v1h-24zm27 0h4v1h-4zm6 0h14v1h-14zm16 0h16v1h-16zm17 0h14v1h-14zM3 245h5v1h-5zm6 0h19v1h-19zm21 0h4v1h-4zm5 0h16v1h-16zm17 0h31v1h-31zM3 246h5v1h-5zm6 0h20v1h-20zm21 0h11v1h-11zm12 0h41v1h-41zM4 247h4v1h-4zm5 0h32v1h-32zm33 0h33v1h-33zm35 0h7v1h-7zM5 248h62v1h-62zm63 0h2v1h-2zm3 0h4v1h-4zm5 0h10v1h-10zM6 249h38v1h-38zm41 0h20v1h-20zm24 0h15v1h-15zM3 250h2v1h-2zm3 0h3v1h-3zm4 0h16v1h-16zm18 0h17v1h-17zm20 0h10v1h-10zm14 0h5v1h-5zm9 0h14v1h-14zM2 251h7v1h-7zm9 0h27v1h-27zm30 0h17v1h-17zm18 0h2v1h-2zm3 0h23v1h-23zM2 252h7v1h-7zm9 0h27v1h-27zm31 0h43v1h-43zM3 253h38v1h-38zm39 0h43v1h-43zM3 254h25v1h-25zm29 0h17v1h-17zm18 0h35v1h-35zM4 255h7v1h-7zm8 0h2v1h-2zm3 0h12v1h-12zm16 0h19v1h-19zm20 0h34v1h-34zM4 256h8v1h-8zm11 0h12v1h-12zm17 0h52v1h-52zM4 257h18v1h-18zm20 0h4v1h-4zm9 0h3v1h-3zm4 0h29v1h-29zm31 0h3v1h-3zm5 0h4v1h-4zm5 0h6v1h-6zM5 258h6v1h-6zm7 0h9v1h-9zm12 0h4v1h-4zm7 0h15v1h-15zm16 0h25v1h-25zm26 0h11v1h-11zM5 259h23v1h-23zm26 0h53v1h-53zM4 260h26v1h-26zm27 0h53v1h-53zM4 261h16v1h-16zm17 0h36v1h-36zm37 0h26v1h-26zM3 262h15v1h-15zm18 0h43v1h-43zm44 0h18v1h-18zM3 263h7v1h-7zm8 0h5v1h-5zm10 0h44v1h-44zm46 0h15v1h-15zM3 264h7v1h-7zm8 0h6v1h-6zm9 0h46v1h-46zm49 0h12v1h-12zM2 265h15v1h-15zm17 0h38v1h-38zm39 0h8v1h-8zm11 0h12v1h-12zm13 0h2v1h-2zM2 266h14v1h-14zm17 0h30v1h-30zm33 0h5v1h-5zm8 0h5v1h-5zm7 0h18v1h-18zM2 267h11v1h-11zm13 0h34v1h-34zm35 0h13v1h-13zm15 0h20v1h-20zM3 268h30v1h-30zm31 0h29v1h-29zm30 0h21v1h-21zM6 269h33v1h-33zm34 0h2v1h-2zm3 0h3v1h-3zm4 0h8v1h-8zm9 0h5v1h-5zm7 0h22v1h-22zM4 270h33v1h-33zm34 0h8v1h-8zm9 0h8v1h-8zm9 0h29v1h-29zM3 271h34v1h-34zm35 0h6v1h-6zm8 0h39v1h-39zM3 272h42v1h-42zm43 0h26v1h-26zm28 0h11v1h-11zM3 273h24v1h-24zm25 0h17v1h-17zm18 0h11v1h-11zm12 0h14v1h-14zm15 0h12v1h-12zM4 274h10v1h-10zm11 0h69v1h-69zM6 275h29v1h-29zm30 0h48v1h-48zM3 276h15v1h-15zm16 0h65v1h-65zM3 277h15v1h-15zm18 0h46v1h-46zm47 0h16v1h-16zM3 278h13v1h-13zm15 0h66v1h-66zM3 279h13v1h-13zm15 0h67v1h-67zM3 280h12v1h-12zm14 0h67v1h-67zM3 281h12v1h-12zm14 0h67v1h-67zM6 282h40v1h-40zm42 0h16v1h-16zm19 0h1v1h-1zm3 0h13v1h-13zM6 283h59v1h-59zm60 0h16v1h-16zM3 284h7v1h-7zm8 0h73v1h-73zM2 285h59v1h-59zm60 0h14v1h-14zm15 0h8v1h-8zM3 286h82v1h-82zM2 287h33v1h-33zm34 0h49v1h-49zM2 288h83v1h-83zM3 289h82v1h-82zM2 290h84v1h-84zM2 291h84v1h-84zM2 292h84v1h-84zM2 293h84v1h-84zM2 294h84v1h-84zM2 295h84v1h-84zM2 296h84v1h-84zM2 297h84v1h-84zM2 298h84v1h-84zM2 299h84v1h-84zM2 300h84v1h-84zM2 301h84v1h-84zM2 302h84v1h-84zM2 303h84v1h-84zM2 304h84v1h-84zM2 305h84v1h-84zM2 306h84v1h-84zM2 307h84v1h-84zM2 308h84v1h-84zM2 309h84v1h-84zM2 310h84v1h-84zM2 311h84v1h-84zM2 312h84v1h-84zM2 313h84v1h-84zM2 314h84v1h-84zM2 315h84v1h-84zM2 316h84v1h-84zM2 317h84v1h-84zM2 318h84v1h-84zM2 319h84v1h-84zM2 320h84v1h-84zM2 321h84v1h-84zM2 322h84v1h-84zM2 323h84v1h-84zM2 324h84v1h-84zM2 325h84v1h-84zM2 326h84v1h-84zM2 327h84v1h-84zM2 328h84v1h-84zM2 329h84v1h-84zM2 330h84v1h-84zM2 331h84v1h-84zM2 332h84v1h-84zM2 333h84v1h-84zM2 334h84v1h-84zM2 335h84v1h-84zM2 336h84v1h-84zM2 337h84v1h-84zM2 338h84v1h-84z" fill="#6dc174"/></g>
<g transform="translate(407.36,40.00) scale(0.50)"><path d="M42 10h1v1h-1zM41 11h3v1h-3zM40 12h4v1h-4zM41 13h3v1h-3zM16 14h3v1h-3zM16 15h3v1h-3zM16 16h3v1h-3zM46 18h3v1h-3zM45 19h4v1h-4zM34 20h3v1h-3zm11 0h4v1h-4zM34 21h3v1h-3zm13 0h1v1h-1zM34 22h3v1h-3zM55 25h3v1h-3zM29 26h3v1h-3zm26 0h4v1h-4zM28 27h4v1h-4zm27 0h4v1h-4zm8 0h2v1h-2zM29 28h3v1h-3zm19 0h3v1h-3zm14 0h4v1h-4zM30 29h1v1h-1zm18 0h4v1h-4zm14 0h4v1h-4zM48 30h3v1h-3zm15 0h3v1h-3zM11 31h3v1h-3zm52 0h3v1h-3zM11 32h3v1h-3zm37 0h4v1h-4zm16 0h1v1h-1zM11 33h3v1h-3zm37 0h4v1h-4zM12 34h1v1h-1zm37 0h2v1h-2zM15 35h3v1h-3zM14 36h4v1h-4zM13 37h5v1h-5zM14 38h3v1h-3zm17 0h1v1h-1zM14 39h3v1h-3zm15 0h4v1h-4zm8 0h2v1h-2zM29 40h4v1h-4zm7 0h4v1h-4zM30 41h3v1h-3zm6 0h4v1h-4zm18 0h3v1h-3zm4 0h3v1h-3zM37 42h3v1h-3zm17 0h7v1h-7zM37 43h3v1h-3zm17 0h3v1h-3zm4 0h3v1h-3zM38 44h2v1h-2zm17 0h1v1h-1zm4 0h1v1h-1zM28 45h3v1h-3zM28 46h4v1h-4zM28 47h4v1h-4zm34 0h3v1h-3zM29 48h1v1h-1zm32 0h4v1h-4zM33 49h2v1h-2zm29 0h3v1h-3zM32 50h4v1h-4zm31 0h1v1h-1zM22 51h1v1h-1zm9 0h5v1h-5zm51 0h3v1h-3zM7 52h1v1h-1zm14 0h3v1h-3zm9 0h5v1h-5zm44 0h3v1h-3zm8 0h3v1h-3zM6 53h3v1h-3zm14 0h4v1h-4zm10 0h4v1h-4zm25 0h3v1h-3zm19 0h3v1h-3zm8 0h3v1h-3zM6 54h3v1h-3zm15 0h3v1h-3zm34 0h3v1h-3zm19 0h3v1h-3zM6 55h3v1h-3zm14 0h4v1h-4zm31 0h3v1h-3zm4 0h3v1h-3zm10 0h2v1h-2zM7 56h2v1h-2zm13 0h4v1h-4zm15 0h2v1h-2zm15 0h4v1h-4zm6 0h1v1h-1zm8 0h4v1h-4zM21 57h2v1h-2zm13 0h4v1h-4zm17 0h3v1h-3zm13 0h4v1h-4zM21 58h3v1h-3zm13 0h4v1h-4zm8 0h2v1h-2zm9 0h3v1h-3zm14 0h2v1h-2zm4 0h2v1h-2zm3 0h2v1h-2zM20 59h4v1h-4zm21 0h4v1h-4zm9 0h4v1h-4zm18 0h7v1h-7zM21 60h3v1h-3zm20 0h4v1h-4zm10 0h4v1h-4zm17 0h7v1h-7zM17 61h2v1h-2zm5 0h1v1h-1zm20 0h2v1h-2zm10 0h4v1h-4zm17 0h2v1h-2zm3 0h2v1h-2zM5 62h3v1h-3zm11 0h4v1h-4zm36 0h4v1h-4zm13 0h3v1h-3zM4 63h4v1h-4zm12 0h4v1h-4zm37 0h2v1h-2zm10 0h5v1h-5zM5 64h3v1h-3zm12 0h2v1h-2zm32 0h2v1h-2zm13 0h6v1h-6zm18 0h1v1h-1zM6 65h1v1h-1zm42 0h4v1h-4zm14 0h4v1h-4zm16 0h4v1h-4zM35 66h4v1h-4zm13 0h4v1h-4zm15 0h2v1h-2zm15 0h4v1h-4zM35 67h4v1h-4zm14 0h2v1h-2zm30 0h3v1h-3zM35 68h4v1h-4zM35 69h3v1h-3zM44 70h2v1h-2zm5 0h2v1h-2zm26 0h1v1h-1zM43 71h4v1h-4zm5 0h4v1h-4zm11 0h3v1h-3zm15 0h3v1h-3zM24 72h2v1h-2zm19 0h9v1h-9zm16 0h3v1h-3zm10 0h4v1h-4zm5 0h3v1h-3zM16 73h2v1h-2zm6 0h5v1h-5zm6 0h2v1h-2zm16 0h4v1h-4zm5 0h2v1h-2zm10 0h3v1h-3zm10 0h4v1h-4zm5 0h3v1h-3zM15 74h4v1h-4zm7 0h9v1h-9zm23 0h2v1h-2zm14 0h3v1h-3zm11 0h5v1h-5zM15 75h4v1h-4zm7 0h4v1h-4zm5 0h4v1h-4zm44 0h6v1h-6zM16 76h2v1h-2zm7 0h1v1h-1zm5 0h2v1h-2zm39 0h2v1h-2zm5 0h6v1h-6zM52 77h4v1h-4zm14 0h4v1h-4zm8 0h4v1h-4zM6 78h2v1h-2zm45 0h6v1h-6zm15 0h4v1h-4zM5 79h4v1h-4zm29 0h1v1h-1zm18 0h5v1h-5zm14 0h4v1h-4zm7 0h1v1h-1zM5 80h4v1h-4zm8 0h3v1h-3zm11 0h3v1h-3zm5 0h1v1h-1zm4 0h3v1h-3zm21 0h2v1h-2zm5 0h3v1h-3zm8 0h1v1h-1zm5 0h3v1h-3zM6 81h2v1h-2zm7 0h5v1h-5zm10 0h4v1h-4zm5 0h3v1h-3zm5 0h4v1h-4zm26 0h4v1h-4zm12 0h4v1h-4zM13 82h6v1h-6zm11 0h3v1h-3zm4 0h3v1h-3zm5 0h4v1h-4zm24 0h7v1h-7zm15 0h3v1h-3zm5 0h3v1h-3zM3 83h3v1h-3zm11 0h5v1h-5zm14 0h8v1h-8zm21 0h2v1h-2zm7 0h8v1h-8zm21 0h4v1h-4zM3 84h4v1h-4zm5 0h2v1h-2zm8 0h3v1h-3zm12 0h10v1h-10zm19 0h5v1h-5zm9 0h7v1h-7zm21 0h3v1h-3zm4 0h4v1h-4zM3 85h8v1h-8zm15 0h4v1h-4zm7 0h17v1h-17zm21 0h6v1h-6zm11 0h2v1h-2zm21 0h1v1h-1zm2 0h6v1h-6zM3 86h8v1h-8zm15 0h5v1h-5zm7 0h8v1h-8zm10 0h3v1h-3zm4 0h4v1h-4zm7 0h5v1h-5zm8 0h2v1h-2zm5 0h2v1h-2zm21 0h6v1h-6zM6 87h4v1h-4zm12 0h4v1h-4zm7 0h3v1h-3zm4 0h4v1h-4zm10 0h3v1h-3zm8 0h5v1h-5zm6 0h4v1h-4zm6 0h5v1h-5zm22 0h3v1h-3zM4 88h2v1h-2zm3 0h3v1h-3zm12 0h2v1h-2zm6 0h8v1h-8zm14 0h3v1h-3zm9 0h4v1h-4zm5 0h4v1h-4zm6 0h5v1h-5zm9 0h1v1h-1zm14 0h1v1h-1zM3 89h5v1h-5zm14 0h4v1h-4zm7 0h10v1h-10zm22 0h5v1h-5zm7 0h4v1h-4zm6 0h12v1h-12zm22 0h3v1h-3zM3 90h5v1h-5zm12 0h7v1h-7zm9 0h10v1h-10zm21 0h4v1h-4zm15 0h12v1h-12zm14 0h4v1h-4zm5 0h6v1h-6zM4 91h4v1h-4zm10 0h8v1h-8zm11 0h9v1h-9zm12 0h4v1h-4zm8 0h6v1h-6zm16 0h24v1h-24zM6 92h1v1h-1zm7 0h8v1h-8zm9 0h3v1h-3zm4 0h10v1h-10zm11 0h5v1h-5zm7 0h8v1h-8zm19 0h2v1h-2zm6 0h16v1h-16zM14 93h3v1h-3zm8 0h3v1h-3zm5 0h9v1h-9zm10 0h4v1h-4zm7 0h3v1h-3zm4 0h6v1h-6zm14 0h5v1h-5zm9 0h5v1h-5zm8 0h2v1h-2zm3 0h2v1h-2zM6 94h1v1h-1zm5 0h3v1h-3zm7 0h2v1h-2zm4 0h3v1h-3zm6 0h8v1h-8zm13 0h6v1h-6zm7 0h7v1h-7zm14 0h5v1h-5zm6 0h6v1h-6zM5 95h3v1h-3zm6 0h3v1h-3zm5 0h5v1h-5zm14 0h6v1h-6zm8 0h8v1h-8zm9 0h8v1h-8zm15 0h5v1h-5zm6 0h5v1h-5zm12 0h4v1h-4zM5 96h5v1h-5zm6 0h11v1h-11zm15 0h10v1h-10zm11 0h17v1h-17zm26 0h10v1h-10zm16 0h5v1h-5zM5 97h6v1h-6zm9 0h9v1h-9zm11 0h10v1h-10zm13 0h12v1h-12zm25 0h11v1h-11zm12 0h9v1h-9zM5 98h5v1h-5zm10 0h3v1h-3zm4 0h6v1h-6zm7 0h6v1h-6zm18 0h5v1h-5zm10 0h3v1h-3zm6 0h1v1h-1zm4 0h10v1h-10zm11 0h9v1h-9zM5 99h3v1h-3zm15 0h12v1h-12zm17 0h2v1h-2zm6 0h5v1h-5zm8 0h11v1h-11zm13 0h6v1h-6zm7 0h14v1h-14zM5 100h3v1h-3zm14 0h2v1h-2zm3 0h9v1h-9zm14 0h4v1h-4zm8 0h4v1h-4zm7 0h16v1h-16zm18 0h6v1h-6zm7 0h9v1h-9zM4 101h4v1h-4zm12 0h6v1h-6zm9 0h6v1h-6zm11 0h12v1h-12zm14 0h4v1h-4zm6 0h10v1h-10zm13 0h5v1h-5zm8 0h7v1h-7zM3 102h5v1h-5zm6 0h3v1h-3zm5 0h8v1h-8zm12 0h4v1h-4zm6 0h15v1h-15zm19 0h3v1h-3zm5 0h10v1h-10zm13 0h7v1h-7zm8 0h8v1h-8zM3 103h4v1h-4zm5 0h13v1h-13zm18 0h19v1h-19zm23 0h4v1h-4zm7 0h8v1h-8zm11 0h10v1h-10zm11 0h7v1h-7zM3 104h3v1h-3zm4 0h16v1h-16zm19 0h12v1h-12zm16 0h4v1h-4zm6 0h18v1h-18zm19 0h10v1h-10zm12 0h5v1h-5zM6 105h6v1h-6zm7 0h10v1h-10zm13 0h11v1h-11zm16 0h5v1h-5zm6 0h18v1h-18zm19 0h5v1h-5zm6 0h12v1h-12zM6 106h19v1h-19zm21 0h10v1h-10zm16 0h5v1h-5zm6 0h17v1h-17zm23 0h12v1h-12zM4 107h22v1h-22zm23 0h9v1h-9zm12 0h2v1h-2zm4 0h6v1h-6zm7 0h17v1h-17zm22 0h12v1h-12zM2 108h25v1h-25zm27 0h8v1h-8zm9 0h16v1h-16zm17 0h22v1h-22zm23 0h7v1h-7zM2 109h5v1h-5zm6 0h19v1h-19zm22 0h19v1h-19zm20 0h3v1h-3zm5 0h21v1h-21zm23 0h6v1h-6zM2 110h5v1h-5zm6 0h8v1h-8zm12 0h6v1h-6zm11 0h1v1h-1zm2 0h12v1h-12zm13 0h2v1h-2zm9 0h10v1h-10zm11 0h15v1h-15zM3 111h4v1h-4zm6 0h8v1h-8zm10 0h6v1h-6zm11 0h3v1h-3zm4 0h2v1h-2zm3 0h14v1h-14zm19 0h8v1h-8zm9 0h4v1h-4zm5 0h11v1h-11zM3 112h2v1h-2zm3 0h2v1h-2zm3 0h4v1h-4zm5 0h4v1h-4zm6 0h5v1h-5zm10 0h7v1h-7zm9 0h5v1h-5zm6 0h6v1h-6zm10 0h9v1h-9zm10 0h16v1h-16zM2 113h16v1h-16zm17 0h5v1h-5zm11 0h7v1h-7zm9 0h5v1h-5zm7 0h5v1h-5zm8 0h17v1h-17zm18 0h11v1h-11zM2 114h16v1h-16zm17 0h4v1h-4zm11 0h3v1h-3zm4 0h4v1h-4zm5 0h12v1h-12zm14 0h9v1h-9zm11 0h20v1h-20zM2 115h16v1h-16zm17 0h5v1h-5zm11 0h2v1h-2zm4 0h4v1h-4zm9 0h7v1h-7zm10 0h5v1h-5zm6 0h2v1h-2zm6 0h19v1h-19zM3 116h3v1h-3zm4 0h10v1h-10zm11 0h9v1h-9zm11 0h4v1h-4zm6 0h3v1h-3zm4 0h2v1h-2zm4 0h7v1h-7zm8 0h1v1h-1zm2 0h5v1h-5zm11 0h2v1h-2zm4 0h10v1h-10zm12 0h4v1h-4zM3 117h4v1h-4zm5 0h20v1h-20zm21 0h4v1h-4zm6 0h14v1h-14zm15 0h8v1h-8zm13 0h4v1h-4zm6 0h14v1h-14zM3 118h4v1h-4zm5 0h4v1h-4zm6 0h3v1h-3zm4 0h3v1h-3zm5 0h5v1h-5zm6 0h3v1h-3zm6 0h2v1h-2zm3 0h10v1h-10zm11 0h9v1h-9zm10 0h3v1h-3zm4 0h5v1h-5zm6 0h15v1h-15zM4 119h9v1h-9zm10 0h5v1h-5zm9 0h5v1h-5zm6 0h19v1h-19zm20 0h19v1h-19zm21 0h4v1h-4zm6 0h8v1h-8zM4 120h5v1h-5zm6 0h9v1h-9zm13 0h5v1h-5zm6 0h3v1h-3zm4 0h5v1h-5zm6 0h3v1h-3zm5 0h4v1h-4zm5 0h8v1h-8zm9 0h22v1h-22zm23 0h4v1h-4zM5 121h8v1h-8zm9 0h4v1h-4zm10 0h6v1h-6zm9 0h5v1h-5zm6 0h2v1h-2zm6 0h3v1h-3zm4 0h8v1h-8zm9 0h21v1h-21zm23 0h4v1h-4zM3 122h13v1h-13zm21 0h7v1h-7zm9 0h9v1h-9zm12 0h11v1h-11zm14 0h20v1h-20zm22 0h4v1h-4zM2 123h14v1h-14zm21 0h9v1h-9zm10 0h9v1h-9zm12 0h10v1h-10zm13 0h1v1h-1zm2 0h3v1h-3zm4 0h12v1h-12zm17 0h5v1h-5zM2 124h9v1h-9zm10 0h5v1h-5zm11 0h3v1h-3zm4 0h5v1h-5zm7 0h7v1h-7zm8 0h12v1h-12zm14 0h22v1h-22zm25 0h5v1h-5zM3 125h4v1h-4zm6 0h8v1h-8zm9 0h8v1h-8zm11 0h2v1h-2zm6 0h3v1h-3zm7 0h8v1h-8zm12 0h25v1h-25zm26 0h5v1h-5zM5 126h2v1h-2zm6 0h17v1h-17zm20 0h7v1h-7zm11 0h5v1h-5zm11 0h9v1h-9zm10 0h5v1h-5zm7 0h16v1h-16zM3 127h26v1h-26zm27 0h9v1h-9zm14 0h3v1h-3zm4 0h14v1h-14zm15 0h5v1h-5zm7 0h16v1h-16zM2 128h9v1h-9zm10 0h17v1h-17zm18 0h9v1h-9zm14 0h2v1h-2zm4 0h13v1h-13zm15 0h5v1h-5zm7 0h7v1h-7zm8 0h7v1h-7zM3 129h25v1h-25zm27 0h3v1h-3zm5 0h9v1h-9zm12 0h12v1h-12zm14 0h16v1h-16zm17 0h6v1h-6zM3 130h25v1h-25zm27 0h3v1h-3zm6 0h9v1h-9zm11 0h30v1h-30zm32 0h5v1h-5zM7 131h14v1h-14zm15 0h6v1h-6zm7 0h7v1h-7zm8 0h8v1h-8zm10 0h29v1h-29zm30 0h8v1h-8zM3 132h2v1h-2zm4 0h15v1h-15zm16 0h4v1h-4zm6 0h7v1h-7zm10 0h6v1h-6zm8 0h27v1h-27zm30 0h8v1h-8zM3 133h12v1h-12zm13 0h10v1h-10zm12 0h8v1h-8zm11 0h6v1h-6zm11 0h25v1h-25zm26 0h9v1h-9zM3 134h3v1h-3zm4 0h25v1h-25zm28 0h3v1h-3zm4 0h6v1h-6zm11 0h14v1h-14zm16 0h13v1h-13zm14 0h4v1h-4zM3 135h3v1h-3zm5 0h6v1h-6zm7 0h17v1h-17zm20 0h8v1h-8zm16 0h13v1h-13zm15 0h3v1h-3zm5 0h4v1h-4zm5 0h9v1h-9zM4 136h3v1h-3zm4 0h6v1h-6zm7 0h30v1h-30zm31 0h3v1h-3zm6 0h12v1h-12zm14 0h4v1h-4zm5 0h14v1h-14zM4 137h7v1h-7zm8 0h1v1h-1zm4 0h9v1h-9zm11 0h14v1h-14zm15 0h8v1h-8zm11 0h11v1h-11zm14 0h4v1h-4zm5 0h7v1h-7zm8 0h5v1h-5zM3 138h7v1h-7zm13 0h4v1h-4zm5 0h28v1h-28zm29 0h3v1h-3zm4 0h10v1h-10zm13 0h3v1h-3zm4 0h8v1h-8zM2 139h4v1h-4zm5 0h6v1h-6zm10 0h3v1h-3zm6 0h40v1h-40zm44 0h2v1h-2zm3 0h10v1h-10zM2 140h4v1h-4zm6 0h5v1h-5zm8 0h5v1h-5zm7 0h15v1h-15zm16 0h18v1h-18zm20 0h21v1h-21zM3 141h10v1h-10zm11 0h8v1h-8zm10 0h6v1h-6zm7 0h8v1h-8zm9 0h17v1h-17zm18 0h26v1h-26zM4 142h18v1h-18zm21 0h4v1h-4zm6 0h24v1h-24zm25 0h29v1h-29zM4 143h18v1h-18zm20 0h5v1h-5zm7 0h3v1h-3zm4 0h50v1h-50zM3 144h19v1h-19zm21 0h5v1h-5zm7 0h4v1h-4zm5 0h37v1h-37zm38 0h10v1h-10zM3 145h9v1h-9zm11 0h13v1h-13zm17 0h15v1h-15zm16 0h4v1h-4zm5 0h3v1h-3zm4 0h17v1h-17zm20 0h9v1h-9zM3 146h10v1h-10zm11 0h12v1h-12zm18 0h4v1h-4zm5 0h8v1h-8zm11 0h4v1h-4zm5 0h3v1h-3zm4 0h15v1h-15zm16 0h13v1h-13zM3 147h16v1h-16zm18 0h7v1h-7zm8 0h11v1h-11zm12 0h2v1h-2zm7 0h19v1h-19zm22 0h9v1h-9zm11 0h4v1h-4zM4 148h2v1h-2zm3 0h13v1h-13zm15 0h18v1h-18zm23 0h3v1h-3zm6 0h14v1h-14zm17 0h11v1h-11zm12 0h4v1h-4zM4 149h3v1h-3zm4 0h13v1h-13zm14 0h19v1h-19zm22 0h5v1h-5zm7 0h14v1h-14zm17 0h15v1h-15zM3 150h4v1h-4zm5 0h6v1h-6zm9 0h24v1h-24zm26 0h7v1h-7zm8 0h13v1h-13zm16 0h4v1h-4zm5 0h4v1h-4zm7 0h5v1h-5zM3 151h12v1h-12zm13 0h1v1h-1zm2 0h9v1h-9zm10 0h8v1h-8zm9 0h3v1h-3zm4 0h35v1h-35zm36 0h2v1h-2zm3 0h4v1h-4zM3 152h16v1h-16zm19 0h4v1h-4zm6 0h11v1h-11zm12 0h6v1h-6zm7 0h7v1h-7zm8 0h5v1h-5zm6 0h13v1h-13zm15 0h4v1h-4zm5 0h4v1h-4zM5 153h15v1h-15zm17 0h3v1h-3zm5 0h8v1h-8zm9 0h9v1h-9zm12 0h2v1h-2zm7 0h4v1h-4zm6 0h13v1h-13zm15 0h9v1h-9zM4 154h15v1h-15zm19 0h1v1h-1zm3 0h20v1h-20zm29 0h3v1h-3zm6 0h13v1h-13zm16 0h7v1h-7zM4 155h11v1h-11zm13 0h1v1h-1zm2 0h3v1h-3zm7 0h9v1h-9zm10 0h10v1h-10zm16 0h12v1h-12zm13 0h8v1h-8zm11 0h7v1h-7zM4 156h11v1h-11zm15 0h5v1h-5zm7 0h16v1h-16zm17 0h6v1h-6zm9 0h30v1h-30zM4 157h11v1h-11zm12 0h8v1h-8zm10 0h17v1h-17zm18 0h5v1h-5zm7 0h31v1h-31zM4 158h20v1h-20zm22 0h17v1h-17zm18 0h5v1h-5zm6 0h35v1h-35zM4 159h5v1h-5zm7 0h4v1h-4zm5 0h26v1h-26zm28 0h10v1h-10zm11 0h4v1h-4zm5 0h7v1h-7zm8 0h17v1h-17zM3 160h12v1h-12zm13 0h25v1h-25zm29 0h9v1h-9zm11 0h7v1h-7zm8 0h3v1h-3zm5 0h10v1h-10zm11 0h5v1h-5zM4 161h11v1h-11zm13 0h17v1h-17zm18 0h9v1h-9zm10 0h11v1h-11zm12 0h7v1h-7zm9 0h1v1h-1zm3 0h4v1h-4zm5 0h3v1h-3zm5 0h5v1h-5zM6 162h9v1h-9zm10 0h7v1h-7zm8 0h9v1h-9zm12 0h20v1h-20zm22 0h6v1h-6zm7 0h3v1h-3zm4 0h3v1h-3zm5 0h4v1h-4zm6 0h4v1h-4zM4 163h9v1h-9zm11 0h8v1h-8zm9 0h6v1h-6zm7 0h5v1h-5zm6 0h20v1h-20zm21 0h2v1h-2zm3 0h7v1h-7zm9 0h1v1h-1zm5 0h9v1h-9zM4 164h8v1h-8zm11 0h11v1h-11zm12 0h21v1h-21zm22 0h19v1h-19zm26 0h9v1h-9zM4 165h3v1h-3zm5 0h2v1h-2zm5 0h4v1h-4zm6 0h6v1h-6zm7 0h4v1h-4zm5 0h6v1h-6zm7 0h28v1h-28zm35 0h3v1h-3zm5 0h6v1h-6zM3 166h4v1h-4zm5 0h4v1h-4zm5 0h5v1h-5zm7 0h6v1h-6zm7 0h4v1h-4zm5 0h28v1h-28zm29 0h6v1h-6zm12 0h4v1h-4zm5 0h8v1h-8zM3 167h4v1h-4zm5 0h4v1h-4zm5 0h4v1h-4zm7 0h5v1h-5zm7 0h17v1h-17zm18 0h7v1h-7zm8 0h24v1h-24zm25 0h7v1h-7zM4 168h2v1h-2zm5 0h2v1h-2zm3 0h6v1h-6zm7 0h5v1h-5zm6 0h18v1h-18zm21 0h9v1h-9zm10 0h20v1h-20zm21 0h8v1h-8zM3 169h5v1h-5zm7 0h13v1h-13zm15 0h26v1h-26zm27 0h31v1h-31zM3 170h20v1h-20zm22 0h26v1h-26zm27 0h19v1h-19zm20 0h8v1h-8zM3 171h14v1h-14zm15 0h34v1h-34zm36 0h17v1h-17zm18 0h10v1h-10zM3 172h15v1h-15zm18 0h18v1h-18zm19 0h5v1h-5zm8 0h4v1h-4zm6 0h6v1h-6zm7 0h8v1h-8zm9 0h13v1h-13zM2 173h10v1h-10zm12 0h6v1h-6zm7 0h18v1h-18zm19 0h3v1h-3zm8 0h4v1h-4zm6 0h30v1h-30zM3 174h9v1h-9zm12 0h11v1h-11zm14 0h10v1h-10zm18 0h6v1h-6zm7 0h25v1h-25zm26 0h5v1h-5zM6 175h3v1h-3zm4 0h1v1h-1zm2 0h2v1h-2zm4 0h11v1h-11zm13 0h11v1h-11zm15 0h9v1h-9zm10 0h13v1h-13zm15 0h16v1h-16zM5 176h4v1h-4zm6 0h16v1h-16zm18 0h11v1h-11zm15 0h10v1h-10zm11 0h4v1h-4zm5 0h5v1h-5zm7 0h2v1h-2zm4 0h9v1h-9zm10 0h4v1h-4zM4 177h23v1h-23zm26 0h13v1h-13zm15 0h8v1h-8zm10 0h5v1h-5zm6 0h4v1h-4zm5 0h19v1h-19zM4 178h40v1h-40zm41 0h9v1h-9zm11 0h17v1h-17zm18 0h3v1h-3zm5 0h6v1h-6zM4 179h3v1h-3zm5 0h53v1h-53zm55 0h9v1h-9zm12 0h8v1h-8zM3 180h7v1h-7zm8 0h16v1h-16zm17 0h29v1h-29zm30 0h4v1h-4zm5 0h11v1h-11zm12 0h10v1h-10zM3 181h12v1h-12zm14 0h44v1h-44zm45 0h3v1h-3zm5 0h8v1h-8zm9 0h9v1h-9zM3 182h11v1h-11zm15 0h47v1h-47zm48 0h3v1h-3zm4 0h6v1h-6zm8 0h6v1h-6zM3 183h10v1h-10zm14 0h30v1h-30zm31 0h17v1h-17zm18 0h4v1h-4zm6 0h5v1h-5zm6 0h1v1h-1zm3 0h3v1h-3zM3 184h10v1h-10zm14 0h21v1h-21zm23 0h7v1h-7zm8 0h10v1h-10zm11 0h10v1h-10zm13 0h13v1h-13zM4 185h11v1h-11zm12 0h21v1h-21zm22 0h2v1h-2zm3 0h18v1h-18zm19 0h8v1h-8zm9 0h16v1h-16zM4 186h32v1h-32zm33 0h11v1h-11zm12 0h10v1h-10zm12 0h24v1h-24zM3 187h32v1h-32zm34 0h18v1h-18zm19 0h9v1h-9zm11 0h8v1h-8zm9 0h9v1h-9zM3 188h25v1h-25zm27 0h6v1h-6zm8 0h10v1h-10zm11 0h6v1h-6zm9 0h17v1h-17zm18 0h9v1h-9zM3 189h10v1h-10zm11 0h3v1h-3zm4 0h9v1h-9zm11 0h47v1h-47zm48 0h7v1h-7zM2 190h14v1h-14zm15 0h5v1h-5zm6 0h1v1h-1zm6 0h31v1h-31zm32 0h24v1h-24zM2 191h22v1h-22zm24 0h14v1h-14zm15 0h18v1h-18zm20 0h15v1h-15zm18 0h6v1h-6zM3 192h7v1h-7zm8 0h23v1h-23zm25 0h9v1h-9zm10 0h3v1h-3zm5 0h6v1h-6zm7 0h3v1h-3zm5 0h22v1h-22zM3 193h41v1h-41zm43 0h4v1h-4zm8 0h31v1h-31zM4 194h49v1h-49zm50 0h15v1h-15zm16 0h14v1h-14zM4 195h34v1h-34zm35 0h14v1h-14zm15 0h3v1h-3zm4 0h11v1h-11zm12 0h1v1h-1zm2 0h11v1h-11zM4 196h34v1h-34zm37 0h16v1h-16zm17 0h10v1h-10zm11 0h14v1h-14zM4 197h8v1h-8zm10 0h9v1h-9zm10 0h9v1h-9zm11 0h3v1h-3zm5 0h4v1h-4zm5 0h12v1h-12zm13 0h25v1h-25zM4 198h4v1h-4zm7 0h9v1h-9zm10 0h18v1h-18zm19 0h4v1h-4zm5 0h39v1h-39zM4 199h3v1h-3zm4 0h35v1h-35zm37 0h1v1h-1zm3 0h32v1h-32zm33 0h4v1h-4zM8 200h8v1h-8zm9 0h48v1h-48zm49 0h19v1h-19zM7 201h9v1h-9zm10 0h6v1h-6zm8 0h26v1h-26zm27 0h9v1h-9zm10 0h2v1h-2zm5 0h18v1h-18zM7 202h43v1h-43zm44 0h4v1h-4zm5 0h9v1h-9zm13 0h15v1h-15zM5 203h34v1h-34zm35 0h8v1h-8zm9 0h5v1h-5zm6 0h10v1h-10zm12 0h19v1h-19zM5 204h33v1h-33zm34 0h25v1h-25zm27 0h5v1h-5zm7 0h13v1h-13zM6 205h18v1h-18zm21 0h9v1h-9zm12 0h16v1h-16zm18 0h3v1h-3zm9 0h5v1h-5zm6 0h7v1h-7zm8 0h5v1h-5zM3 206h3v1h-3zm4 0h29v1h-29zm32 0h4v1h-4zm5 0h7v1h-7zm8 0h5v1h-5zm14 0h11v1h-11zm15 0h4v1h-4zM2 207h5v1h-5zm7 0h27v1h-27zm30 0h11v1h-11zm12 0h7v1h-7zm17 0h10v1h-10zm12 0h5v1h-5zM3 208h5v1h-5zm6 0h52v1h-52zm58 0h12v1h-12zm13 0h4v1h-4zM4 209h18v1h-18zm19 0h39v1h-39zm41 0h6v1h-6zm7 0h8v1h-8zm9 0h4v1h-4zM3 210h46v1h-46zm47 0h23v1h-23zm24 0h11v1h-11zM2 211h72v1h-72zm73 0h11v1h-11zM2 212h4v1h-4zm5 0h43v1h-43zm44 0h13v1h-13zm14 0h20v1h-20zM8 213h16v1h-16zm17 0h60v1h-60zM5 214h2v1h-2zm5 0h5v1h-5zm6 0h7v1h-7zm11 0h57v1h-57zM4 215h4v1h-4zm7 0h3v1h-3zm5 0h8v1h-8zm10 0h40v1h-40zm41 0h3v1h-3zm5 0h12v1h-12zM2 216h6v1h-6zm9 0h13v1h-13zm14 0h23v1h-23zm24 0h17v1h-17zm18 0h4v1h-4zm6 0h11v1h-11zM2 217h6v1h-6zm7 0h15v1h-15zm16 0h45v1h-45zm48 0h11v1h-11zM3 218h5v1h-5zm6 0h13v1h-13zm16 0h19v1h-19zm21 0h14v1h-14zm15 0h6v1h-6zm7 0h3v1h-3zm4 0h12v1h-12zM4 219h4v1h-4zm5 0h5v1h-5zm10 0h3v1h-3zm7 0h9v1h-9zm10 0h8v1h-8zm11 0h2v1h-2zm5 0h6v1h-6zm12 0h3v1h-3zm4 0h17v1h-17zM5 220h9v1h-9zm11 0h2v1h-2zm3 0h4v1h-4zm6 0h12v1h-12zm13 0h9v1h-9zm13 0h6v1h-6zm7 0h5v1h-5zm6 0h1v1h-1zm4 0h18v1h-18zM5 221h8v1h-8zm10 0h9v1h-9zm11 0h21v1h-21zm24 0h17v1h-17zm19 0h16v1h-16zM4 222h7v1h-7zm11 0h10v1h-10zm12 0h20v1h-20zm21 0h19v1h-19zm20 0h17v1h-17zM4 223h8v1h-8zm9 0h12v1h-12zm14 0h58v1h-58zM3 224h8v1h-8zm10 0h12v1h-12zm13 0h20v1h-20zm22 0h3v1h-3zm5 0h33v1h-33zM3 225h5v1h-5zm6 0h9v1h-9zm11 0h4v1h-4zm5 0h23v1h-23zm27 0h15v1h-15zm16 0h18v1h-18zM3 226h14v1h-14zm17 0h3v1h-3zm4 0h25v1h-25zm28 0h33v1h-33zM4 227h12v1h-12zm15 0h9v1h-9zm10 0h8v1h-8zm9 0h41v1h-41zm42 0h2v1h-2zM4 228h6v1h-6zm8 0h6v1h-6zm7 0h18v1h-18zm19 0h15v1h-15zm16 0h27v1h-27zM4 229h5v1h-5zm7 0h7v1h-7zm9 0h17v1h-17zm19 0h15v1h-15zm16 0h28v1h-28zM4 230h4v1h-4zm6 0h4v1h-4zm5 0h5v1h-5zm8 0h40v1h-40zm41 0h14v1h-14zm15 0h4v1h-4zM6 231h21v1h-21zm22 0h3v1h-3zm5 0h49v1h-49zM3 232h21v1h-21zm25 0h3v1h-3zm5 0h49v1h-49zM3 233h21v1h-21zm24 0h3v1h-3zm4 0h15v1h-15zm17 0h23v1h-23zm25 0h10v1h-10zM3 234h27v1h-27zm28 0h7v1h-7zm8 0h7v1h-7zm8 0h25v1h-25zm26 0h9v1h-9zM3 235h14v1h-14zm15 0h21v1h-21zm22 0h6v1h-6zm8 0h7v1h-7zm8 0h3v1h-3zm4 0h24v1h-24zM5 236h9v1h-9zm10 0h25v1h-25zm26 0h5v1h-5zm7 0h12v1h-12zm14 0h22v1h-22zM4 237h3v1h-3zm5 0h33v1h-33zm34 0h4v1h-4zm5 0h37v1h-37zM3 238h4v1h-4zm6 0h76v1h-76zM3 239h4v1h-4zm7 0h5v1h-5zm6 0h10v1h-10zm12 0h3v1h-3zm4 0h4v1h-4zm5 0h26v1h-26zm29 0h6v1h-6zm8 0h10v1h-10zM3 240h5v1h-5zm7 0h4v1h-4zm6 0h19v1h-19zm20 0h23v1h-23zm24 0h4v1h-4zm6 0h7v1h-7zm9 0h4v1h-4zm6 0h4v1h-4zM3 241h6v1h-6zm8 0h49v1h-49zm50 0h4v1h-4zm5 0h19v1h-19zM3 242h6v1h-6zm10 0h72v1h-72zM3 243h9v1h-9zm10 0h12v1h-12zm14 0h1v1h-1zm2 0h17v1h-17zm18 0h7v1h-7zm8 0h31v1h-31zM3 244h10v1h-10zm11 0h7v1h-7zm8 0h3v1h-3zm8 0h40v1h-40zm41 0h14v1h-14zM4 245h23v1h-23zm26 0h3v1h-3zm4 0h10v1h-10zm11 0h7v1h-7zm8 0h32v1h-32zM5 246h8v1h-8zm9 0h14v1h-14zm15 0h5v1h-5zm6 0h8v1h-8zm10 0h23v1h-23zm24 0h8v1h-8zm9 0h7v1h-7zM6 247h7v1h-7zm10 0h13v1h-13zm14 0h14v1h-14zm16 0h15v1h-15zm16 0h15v1h-15zm16 0h7v1h-7zM4 248h9v1h-9zm11 0h7v1h-7zm9 0h9v1h-9zm10 0h4v1h-4zm5 0h38v1h-38zm39 0h7v1h-7zM4 249h17v1h-17zm19 0h52v1h-52zm54 0h5v1h-5zM3 250h17v1h-17zm19 0h20v1h-20zm21 0h10v1h-10zm11 0h13v1h-13zm15 0h7v1h-7zm8 0h7v1h-7zM3 251h3v1h-3zm4 0h19v1h-19zm21 0h48v1h-48zm49 0h8v1h-8zM3 252h3v1h-3zm4 0h20v1h-20zm21 0h57v1h-57zM4 253h19v1h-19zm20 0h13v1h-13zm15 0h18v1h-18zm19 0h27v1h-27zM5 254h33v1h-33zm34 0h19v1h-19zm20 0h3v1h-3zm4 0h5v1h-5zm6 0h17v1h-17zM5 255h19v1h-19zm20 0h17v1h-17zm18 0h18v1h-18zm19 0h10v1h-10zm11 0h13v1h-13zM3 256h13v1h-13zm14 0h7v1h-7zm8 0h47v1h-47zm48 0h11v1h-11zM3 257h50v1h-50zm51 0h18v1h-18zm20 0h12v1h-12zM3 258h59v1h-59zm60 0h10v1h-10zm11 0h12v1h-12zM4 259h27v1h-27zm28 0h29v1h-29zm33 0h3v1h-3zm4 0h17v1h-17zM4 260h23v1h-23zm27 0h3v1h-3zm4 0h26v1h-26zm29 0h4v1h-4zm5 0h6v1h-6zm7 0h10v1h-10zM3 261h21v1h-21zm28 0h24v1h-24zm25 0h4v1h-4zm7 0h5v1h-5zm6 0h5v1h-5zm7 0h10v1h-10zM3 262h22v1h-22zm27 0h1v1h-1zm2 0h28v1h-28zm30 0h6v1h-6zm7 0h6v1h-6zm7 0h9v1h-9zM4 263h21v1h-21zm23 0h34v1h-34zm35 0h14v1h-14zm15 0h8v1h-8zM3 264h7v1h-7zm9 0h49v1h-49zm50 0h15v1h-15zm16 0h8v1h-8zM2 265h10v1h-10zm11 0h64v1h-64zm65 0h7v1h-7zM2 266h10v1h-10zm12 0h24v1h-24zm25 0h8v1h-8zm9 0h11v1h-11zm12 0h17v1h-17zm18 0h6v1h-6zM2 267h10v1h-10zm12 0h26v1h-26zm27 0h5v1h-5zm7 0h21v1h-21zm23 0h11v1h-11zM2 268h11v1h-11zm12 0h55v1h-55zm56 0h12v1h-12zM2 269h11v1h-11zm12 0h63v1h-63zm64 0h5v1h-5zM3 270h9v1h-9zm11 0h13v1h-13zm15 0h4v1h-4zm5 0h41v1h-41zm46 0h4v1h-4zM3 271h9v1h-9zm10 0h15v1h-15zm16 0h29v1h-29zm31 0h14v1h-14zm19 0h6v1h-6zM2 272h57v1h-57zm58 0h14v1h-14zm16 0h10v1h-10zM2 273h41v1h-41zm42 0h10v1h-10zm11 0h19v1h-19zm20 0h11v1h-11zM2 274h13v1h-13zm14 0h69v1h-69zM2 275h12v1h-12zm14 0h37v1h-37zm38 0h29v1h-29zM3 276h25v1h-25zm27 0h19v1h-19zm20 0h4v1h-4zm5 0h29v1h-29zM3 277h15v1h-15zm16 0h9v1h-9zm11 0h12v1h-12zm14 0h40v1h-40zM3 278h25v1h-25zm27 0h12v1h-12zm14 0h21v1h-21zm22 0h19v1h-19zM3 279h36v1h-36zm39 0h22v1h-22zm23 0h20v1h-20zM3 280h36v1h-36zm38 0h45v1h-45zM3 281h37v1h-37zm38 0h45v1h-45zM3 282h83v1h-83zM3 283h83v1h-83zM3 284h82v1h-82zM4 285h28v1h-28zm29 0h52v1h-52zM2 286h84v1h-84zM2 287h84v1h-84zM2 288h84v1h-84zM2 289h84v1h-84zM2 290h84v1h-84zM2 291h84v1h-84zM2 292h84v1h-84zM2 293h84v1h-84zM2 294h84v1h-84zM2 295h84v1h-84zM2 296h84v1h-84zM2 297h84v1h-84zM2 298h84v1h-84zM2 299h84v1h-84zM2 300h84v1h-84zM2 301h84v1h-84zM2 302h84v1h-84zM2 303h84v1h-84zM2 304h84v1h-84zM2 305h84v1h-84zM2 306h84v1h-84zM2 307h84v1h-84zM2 308h84v1h-84zM2 309h84v1h-84zM2 310h84v1h-84zM2 311h84v1h-84zM2 312h84v1h-84zM2 313h84v1h-84zM2 314h84v1h-84zM2 315h84v1h-84zM2 316h84v1h-84zM2 317h84v1h-84zM2 318h84v1h-84zM2 319h84v1h-84zM2 320h84v1h-84zM2 321h84v1h-84zM2 322h84v1h-84zM2 323h84v1h-84zM2 324h84v1h-84zM2 325h84v1h-84zM2 326h84v1h-84zM2 327h84v1h-84zM2 328h84v1h-84zM2 329h84v1h-84zM2 330h84v1h-84zM2 331h84v1h-84zM2 332h84v1h-84zM2 333h84v1h-84zM2 334h84v1h-84zM2 335h84v1h-84zM2 336h84v1h-84zM2 337h84v1h-84zM2 338h84v1h-84zM2 339h84v1h-84zM2 340h84v1h-84zM2 341h84v1h-84zM2 342h84v1h-84zM2 343h84v1h-84zM2 344h84v1h-84zM2 345h84v1h-84zM2 346h84v1h-84z" fill="#30a052"/></g>
<g transform="translate(447.40,80.00) scale(0.50)"><path d="M52 11h2v1h-2zM52 12h3v1h-3zM52 13h3v1h-3zM52 14h2v1h-2zM17 20h3v1h-3zM17 21h4v1h-4zM17 22h3v1h-3zM55 24h3v1h-3zM54 25h4v1h-4zM55 26h3v1h-3zM56 27h1v1h-1zM40 38h2v1h-2zM39 39h4v1h-4zM39 40h4v1h-4zM40 41h2v1h-2zM44 47h3v1h-3zM43 48h4v1h-4zM44 49h3v1h-3zM50 53h2v1h-2zM49 54h4v1h-4zM49 55h4v1h-4zM50 56h3v1h-3zM54 65h1v1h-1zM53 66h3v1h-3zM53 67h3v1h-3zM53 68h3v1h-3zM7 79h2v1h-2zM7 80h3v1h-3zM7 81h3v1h-3zM7 82h2v1h-2zM16 90h2v1h-2zM15 91h4v1h-4zm25 0h2v1h-2zM15 92h4v1h-4zm24 0h4v1h-4zM16 93h2v1h-2zm23 0h4v1h-4zM40 94h2v1h-2zM49 98h2v1h-2zm17 0h1v1h-1zM49 99h3v1h-3zm16 0h3v1h-3zM49 100h3v1h-3zm16 0h4v1h-4zM49 101h2v1h-2zm16 0h3v1h-3zm5 0h1v1h-1zm7 0h2v1h-2zM69 102h3v1h-3zm7 0h4v1h-4zM69 103h3v1h-3zm7 0h4v1h-4zM35 104h2v1h-2zm34 0h3v1h-3zm8 0h3v1h-3zM13 105h3v1h-3zm22 0h3v1h-3zM12 106h4v1h-4zm22 0h4v1h-4zm49 0h2v1h-2zM13 107h3v1h-3zm22 0h3v1h-3zm47 0h4v1h-4zM82 108h4v1h-4zM26 109h3v1h-3zm57 0h2v1h-2zM26 110h3v1h-3zM26 111h3v1h-3zM27 112h1v1h-1zM45 113h3v1h-3zM45 114h3v1h-3zM45 115h3v1h-3zM46 116h1v1h-1zM36 125h2v1h-2zM27 126h2v1h-2zm8 0h4v1h-4zM27 127h3v1h-3zm8 0h4v1h-4zM26 128h4v1h-4zm10 0h2v1h-2zm44 0h2v1h-2zM27 129h3v1h-3zm53 0h3v1h-3zM80 130h3v1h-3zM18 131h2v1h-2zm62 0h3v1h-3zM17 132h4v1h-4zM17 133h4v1h-4zM18 134h2v1h-2zM28 137h3v1h-3zM28 138h3v1h-3zM28 139h3v1h-3zM28 140h2v1h-2zm42 0h2v1h-2zM70 141h3v1h-3zM69 142h4v1h-4zM19 143h1v1h-1zm51 0h2v1h-2zM18 144h3v1h-3zM18 145h3v1h-3zm15 0h3v1h-3zM18 146h3v1h-3zm15 0h3v1h-3zm13 0h3v1h-3zM33 147h3v1h-3zm13 0h4v1h-4zM39 148h3v1h-3zm7 0h3v1h-3zm12 0h3v1h-3zm24 0h3v1h-3zM38 149h4v1h-4zm19 0h4v1h-4zm13 0h4v1h-4zm12 0h3v1h-3zM38 150h4v1h-4zm20 0h3v1h-3zm6 0h1v1h-1zm6 0h4v1h-4zm10 0h5v1h-5zM40 151h1v1h-1zm22 0h4v1h-4zm7 0h4v1h-4zm11 0h5v1h-5zM39 152h3v1h-3zm22 0h5v1h-5zm7 0h4v1h-4zm12 0h3v1h-3zM36 153h6v1h-6zm25 0h5v1h-5zm7 0h4v1h-4zM7 154h1v1h-1zm6 0h3v1h-3zm4 0h2v1h-2zm19 0h6v1h-6zm26 0h2v1h-2zm5 0h7v1h-7zM6 155h3v1h-3zm4 0h10v1h-10zm26 0h3v1h-3zm31 0h7v1h-7zM6 156h14v1h-14zm26 0h3v1h-3zm16 0h3v1h-3zm20 0h2v1h-2zm3 0h3v1h-3zM6 157h3v1h-3zm4 0h3v1h-3zm7 0h2v1h-2zm14 0h4v1h-4zm17 0h3v1h-3zm24 0h1v1h-1zM32 158h3v1h-3zm16 0h3v1h-3zm14 0h2v1h-2zM32 159h3v1h-3zm17 0h1v1h-1zm5 0h2v1h-2zm7 0h4v1h-4zM53 160h4v1h-4zm8 0h4v1h-4zM46 161h2v1h-2zm7 0h6v1h-6zm9 0h2v1h-2zm6 0h3v1h-3zm8 0h2v1h-2zM45 162h4v1h-4zm9 0h6v1h-6zm14 0h4v1h-4zm7 0h4v1h-4zM12 163h3v1h-3zm30 0h7v1h-7zm8 0h3v1h-3zm6 0h3v1h-3zm11 0h7v1h-7zm8 0h4v1h-4zM12 164h4v1h-4zm22 0h3v1h-3zm7 0h4v1h-4zm5 0h2v1h-2zm3 0h4v1h-4zm8 0h1v1h-1zm9 0h9v1h-9zm10 0h2v1h-2zM12 165h5v1h-5zm20 0h5v1h-5zm10 0h3v1h-3zm8 0h3v1h-3zm16 0h4v1h-4zm5 0h4v1h-4zM13 166h4v1h-4zm18 0h6v1h-6zm20 0h1v1h-1zm6 0h3v1h-3zm10 0h2v1h-2zm4 0h4v1h-4zM14 167h2v1h-2zm17 0h4v1h-4zm8 0h5v1h-5zm18 0h3v1h-3zm13 0h4v1h-4zm12 0h2v1h-2zM7 168h3v1h-3zm25 0h2v1h-2zm4 0h8v1h-8zm21 0h3v1h-3zm4 0h4v1h-4zm5 0h1v1h-1zm4 0h4v1h-4zm7 0h3v1h-3zm4 0h4v1h-4zM7 169h3v1h-3zm28 0h9v1h-9zm10 0h5v1h-5zm6 0h2v1h-2zm6 0h3v1h-3zm4 0h7v1h-7zm9 0h4v1h-4zm7 0h8v1h-8zM7 170h3v1h-3zm8 0h5v1h-5zm9 0h3v1h-3zm12 0h3v1h-3zm6 0h12v1h-12zm19 0h7v1h-7zm10 0h3v1h-3zm6 0h3v1h-3zm5 0h2v1h-2zM8 171h1v1h-1zm6 0h8v1h-8zm10 0h3v1h-3zm13 0h3v1h-3zm4 0h13v1h-13zm24 0h3v1h-3zm6 0h3v1h-3zm7 0h3v1h-3zM15 172h12v1h-12zm16 0h2v1h-2zm6 0h12v1h-12zm14 0h2v1h-2zm13 0h2v1h-2zm13 0h4v1h-4zM19 173h8v1h-8zm11 0h4v1h-4zm7 0h3v1h-3zm5 0h2v1h-2zm22 0h3v1h-3zm14 0h3v1h-3zM11 174h2v1h-2zm6 0h3v1h-3zm4 0h4v1h-4zm6 0h1v1h-1zm3 0h4v1h-4zm8 0h1v1h-1zm26 0h3v1h-3zm13 0h4v1h-4zM10 175h4v1h-4zm7 0h7v1h-7zm9 0h3v1h-3zm5 0h2v1h-2zm33 0h2v1h-2zm13 0h4v1h-4zM10 176h6v1h-6zm7 0h7v1h-7zm9 0h3v1h-3zm25 0h3v1h-3zm25 0h2v1h-2zm3 0h1v1h-1zM11 177h6v1h-6zm7 0h6v1h-6zm7 0h4v1h-4zm5 0h2v1h-2zm21 0h4v1h-4zm11 0h2v1h-2zm13 0h4v1h-4zM9 178h8v1h-8zm15 0h4v1h-4zm5 0h4v1h-4zm22 0h3v1h-3zm4 0h3v1h-3zm7 0h4v1h-4zm13 0h4v1h-4zm6 0h2v1h-2zM8 179h8v1h-8zm16 0h4v1h-4zm5 0h4v1h-4zm26 0h3v1h-3zm7 0h5v1h-5zm11 0h6v1h-6zm7 0h4v1h-4zM8 180h6v1h-6zm16 0h3v1h-3zm6 0h2v1h-2zm9 0h2v1h-2zm3 0h2v1h-2zm13 0h3v1h-3zm7 0h5v1h-5zm10 0h7v1h-7zm8 0h4v1h-4zM9 181h4v1h-4zm6 0h1v1h-1zm9 0h9v1h-9zm10 0h11v1h-11zm12 0h3v1h-3zm18 0h3v1h-3zm7 0h5v1h-5zm9 0h3v1h-3zM14 182h3v1h-3zm5 0h3v1h-3zm5 0h9v1h-9zm10 0h11v1h-11zm12 0h4v1h-4zm25 0h4v1h-4zm7 0h7v1h-7zM14 183h3v1h-3zm4 0h4v1h-4zm6 0h9v1h-9zm10 0h7v1h-7zm8 0h2v1h-2zm4 0h4v1h-4zm5 0h2v1h-2zm13 0h3v1h-3zm5 0h7v1h-7zm8 0h8v1h-8zM10 184h2v1h-2zm4 0h8v1h-8zm11 0h2v1h-2zm4 0h3v1h-3zm5 0h4v1h-4zm13 0h1v1h-1zm3 0h4v1h-4zm12 0h5v1h-5zm6 0h8v1h-8zm9 0h8v1h-8zM9 185h4v1h-4zm5 0h7v1h-7zm14 0h11v1h-11zm22 0h5v1h-5zm12 0h14v1h-14zm16 0h7v1h-7zM5 186h3v1h-3zm4 0h15v1h-15zm20 0h12v1h-12zm22 0h4v1h-4zm11 0h9v1h-9zm12 0h1v1h-1zm4 0h3v1h-3zm4 0h3v1h-3zM4 187h4v1h-4zm6 0h15v1h-15zm16 0h3v1h-3zm6 0h3v1h-3zm6 0h3v1h-3zm6 0h3v1h-3zm8 0h3v1h-3zm11 0h9v1h-9zm15 0h3v1h-3zm4 0h3v1h-3zM3 188h6v1h-6zm9 0h4v1h-4zm6 0h7v1h-7zm8 0h3v1h-3zm12 0h3v1h-3zm6 0h4v1h-4zm5 0h5v1h-5zm14 0h5v1h-5zm6 0h4v1h-4zm9 0h3v1h-3zm4 0h2v1h-2zM3 189h7v1h-7zm14 0h2v1h-2zm5 0h3v1h-3zm4 0h4v1h-4zm13 0h2v1h-2zm5 0h3v1h-3zm4 0h8v1h-8zm11 0h3v1h-3zm4 0h5v1h-5zm6 0h4v1h-4zm5 0h3v1h-3zm7 0h3v1h-3zM3 190h10v1h-10zm13 0h4v1h-4zm5 0h3v1h-3zm5 0h4v1h-4zm9 0h7v1h-7zm13 0h9v1h-9zm10 0h5v1h-5zm7 0h3v1h-3zm4 0h4v1h-4zm5 0h4v1h-4zm7 0h4v1h-4zM3 191h12v1h-12zm13 0h4v1h-4zm5 0h4v1h-4zm6 0h2v1h-2zm5 0h13v1h-13zm15 0h4v1h-4zm5 0h5v1h-5zm6 0h10v1h-10zm16 0h3v1h-3zm5 0h6v1h-6zM4 192h11v1h-11zm17 0h5v1h-5zm11 0h19v1h-19zm21 0h3v1h-3zm6 0h9v1h-9zm16 0h1v1h-1zm3 0h7v1h-7zM11 193h4v1h-4zm10 0h5v1h-5zm10 0h4v1h-4zm5 0h15v1h-15zm24 0h7v1h-7zm18 0h6v1h-6zM8 194h7v1h-7zm8 0h2v1h-2zm5 0h4v1h-4zm7 0h11v1h-11zm12 0h9v1h-9zm20 0h3v1h-3zm18 0h7v1h-7zM8 195h6v1h-6zm7 0h4v1h-4zm6 0h3v1h-3zm6 0h11v1h-11zm13 0h11v1h-11zm16 0h1v1h-1zm4 0h3v1h-3zm10 0h1v1h-1zm4 0h11v1h-11zM8 196h5v1h-5zm7 0h4v1h-4zm12 0h10v1h-10zm16 0h11v1h-11zm12 0h3v1h-3zm7 0h3v1h-3zm7 0h16v1h-16zM8 197h4v1h-4zm7 0h8v1h-8zm11 0h11v1h-11zm18 0h14v1h-14zm17 0h4v1h-4zm8 0h14v1h-14zM6 198h18v1h-18zm20 0h23v1h-23zm24 0h4v1h-4zm5 0h3v1h-3zm5 0h7v1h-7zm8 0h16v1h-16zM4 199h10v1h-10zm11 0h9v1h-9zm12 0h22v1h-22zm23 0h4v1h-4zm9 0h8v1h-8zm9 0h3v1h-3zm4 0h12v1h-12zM4 200h5v1h-5zm6 0h4v1h-4zm9 0h5v1h-5zm8 0h21v1h-21zm23 0h5v1h-5zm9 0h8v1h-8zm9 0h7v1h-7zm8 0h7v1h-7zM4 201h11v1h-11zm17 0h4v1h-4zm7 0h4v1h-4zm6 0h14v1h-14zm15 0h6v1h-6zm8 0h9v1h-9zm11 0h3v1h-3zm4 0h12v1h-12zM4 202h4v1h-4zm5 0h8v1h-8zm10 0h1v1h-1zm4 0h8v1h-8zm12 0h26v1h-26zm27 0h4v1h-4zm7 0h1v1h-1zm3 0h7v1h-7zm8 0h3v1h-3zM5 203h3v1h-3zm5 0h11v1h-11zm13 0h8v1h-8zm11 0h18v1h-18zm19 0h8v1h-8zm10 0h3v1h-3zm10 0h5v1h-5zm8 0h1v1h-1zM6 204h1v1h-1zm5 0h2v1h-2zm3 0h7v1h-7zm10 0h37v1h-37zm40 0h1v1h-1zm2 0h3v1h-3zm4 0h12v1h-12zM14 205h7v1h-7zm10 0h38v1h-38zm41 0h8v1h-8zm9 0h9v1h-9zM13 206h25v1h-25zm29 0h20v1h-20zm24 0h7v1h-7zm8 0h9v1h-9zM9 207h3v1h-3zm5 0h6v1h-6zm7 0h10v1h-10zm11 0h6v1h-6zm9 0h15v1h-15zm16 0h4v1h-4zm5 0h2v1h-2zm4 0h7v1h-7zm10 0h7v1h-7zM7 208h31v1h-31zm33 0h10v1h-10zm11 0h14v1h-14zm15 0h18v1h-18zM5 209h33v1h-33zm34 0h10v1h-10zm12 0h15v1h-15zm16 0h18v1h-18zM4 210h22v1h-22zm23 0h23v1h-23zm24 0h33v1h-33zM4 211h11v1h-11zm12 0h68v1h-68zM3 212h12v1h-12zm13 0h68v1h-68zM3 213h5v1h-5zm6 0h76v1h-76zM3 214h82v1h-82zM2 215h84v1h-84zM2 216h84v1h-84zM2 217h84v1h-84zM2 218h84v1h-84zM2 219h84v1h-84zM2 220h84v1h-84zM2 221h84v1h-84zM2 222h84v1h-84zM2 223h84v1h-84zM2 224h84v1h-84zM2 225h84v1h-84zM2 226h84v1h-84zM2 227h84v1h-84zM2 228h84v1h-84zM2 229h84v1h-84zM2 230h84v1h-84zM2 231h84v1h-84zM2 232h84v1h-84zM2 233h84v1h-84zM2 234h84v1h-84zM2 235h84v1h-84zM2 236h84v1h-84zM2 237h84v1h-84zM2 238h84v1h-84zM2 239h84v1h-84zM2 240h84v1h-84zM2 241h84v1h-84zM2 242h84v1h-84zM2 243h84v1h-84zM2 244h84v1h-84zM2 245h84v1h-84zM2 246h84v1h-84zM2 247h84v1h-84zM2 248h84v1h-84zM2 249h84v1h-84zM2 250h84v1h-84zM2 251h84v1h-84zM2 252h84v1h-84zM2 253h84v1h-84zM2 254h84v1h-84zM2 255h84v1h-84zM2 256h84v1h-84zM2 257h84v1h-84zM2 258h84v1h-84zM2 259h84v1h-84zM2 260h84v1h-84zM2 261h84v1h-84zM2 262h84v1h-84zM2 263h84v1h-84zM2 264h84v1h-84zM2 265h84v1h-84zM2 266h84v1h-84z" fill="#0a6b2e"/></g>
<rect x="26.6" y="8.5" width="484.9" height="205.0" stroke="#707070" stroke-width="1.0" fill="none"/>
<path d="M26.6 213.50h-2.1" stroke="#707070" stroke-width="1.0" fill="none"/>
<text x="22.50" y="216.30" font-size="5.95" font-family="DejaVu Sans, Liberation Sans, sans-serif" stroke="#000" stroke-width="0.15" text-anchor="end" textLength="9.46" lengthAdjust="spacingAndGlyphs" fill="#000" style="font-variant-ligatures:none">0.0</text>
<path d="M26.6 172.50h-2.1" stroke="#707070" stroke-width="1.0" fill="none"/>
<text x="22.50" y="175.30" font-size="5.95" font-family="DejaVu Sans, Liberation Sans, sans-serif" stroke="#000" stroke-width="0.15" text-anchor="end" textLength="9.46" lengthAdjust="spacingAndGlyphs" fill="#000" style="font-variant-ligatures:none">0.2</text>
<path d="M26.6 131.50h-2.1" stroke="#707070" stroke-width="1.0" fill="none"/>
<text x="22.50" y="134.30" font-size="5.95" font-family="DejaVu Sans, Liberation Sans, sans-serif" stroke="#000" stroke-width="0.15" text-anchor="end" textLength="9.46" lengthAdjust="spacingAndGlyphs" fill="#000" style="font-variant-ligatures:none">0.4</text>
<path d="M26.6 90.50h-2.1" stroke="#707070" stroke-width="1.0" fill="none"/>
<text x="22.50" y="93.30" font-size="5.95" font-family="DejaVu Sans, Liberation Sans, sans-serif" stroke="#000" stroke-width="0.15" text-anchor="end" textLength="9.46" lengthAdjust="spacingAndGlyphs" fill="#000" style="font-variant-ligatures:none">0.6</text>
<path d="M26.6 49.50h-2.1" stroke="#707070" stroke-width="1.0" fill="none"/>
<text x="22.50" y="52.30" font-size="5.95" font-family="DejaVu Sans, Liberation Sans, sans-serif" stroke="#000" stroke-width="0.15" text-anchor="end" textLength="9.46" lengthAdjust="spacingAndGlyphs" fill="#000" style="font-variant-ligatures:none">0.8</text>
<path d="M26.6 8.50h-2.1" stroke="#707070" stroke-width="1.0" fill="none"/>
<text x="22.50" y="11.30" font-size="5.95" font-family="DejaVu Sans, Liberation Sans, sans-serif" stroke="#000" stroke-width="0.15" text-anchor="end" textLength="9.46" lengthAdjust="spacingAndGlyphs" fill="#000" style="font-variant-ligatures:none">1.0</text>
<path d="M69.02 213.5v2.1" stroke="#707070" stroke-width="1.0" fill="none"/>
<text x="69.02" y="223.70" font-size="7.05" font-family="DejaVu Sans, Liberation Sans, sans-serif" stroke="#000" stroke-width="0.15" text-anchor="middle" textLength="36.33" lengthAdjust="spacingAndGlyphs" fill="#000" style="font-variant-ligatures:none">Caucasian</text>
<text x="69.02" y="231.60" font-size="7.05" font-family="DejaVu Sans, Liberation Sans, sans-serif" stroke="#000" stroke-width="0.15" text-anchor="middle" textLength="19.35" lengthAdjust="spacingAndGlyphs" fill="#000" style="font-variant-ligatures:none">n=41</text>
<path d="M109.06 213.5v2.1" stroke="#707070" stroke-width="1.0" fill="none"/>
<text x="109.06" y="223.70" font-size="7.05" font-family="DejaVu Sans, Liberation Sans, sans-serif" stroke="#000" stroke-width="0.15" text-anchor="middle" textLength="24.57" lengthAdjust="spacingAndGlyphs" fill="#000" style="font-variant-ligatures:none">African</text>
<text x="109.06" y="231.60" font-size="7.05" font-family="DejaVu Sans, Liberation Sans, sans-serif" stroke="#000" stroke-width="0.15" text-anchor="middle" textLength="23.83" lengthAdjust="spacingAndGlyphs" fill="#000" style="font-variant-ligatures:none">n=795</text>
<path d="M149.10 213.5v2.1" stroke="#707070" stroke-width="1.0" fill="none"/>
<text x="149.10" y="223.70" font-size="7.05" font-family="DejaVu Sans, Liberation Sans, sans-serif" stroke="#000" stroke-width="0.15" text-anchor="middle" textLength="28.17" lengthAdjust="spacingAndGlyphs" fill="#000" style="font-variant-ligatures:none">Chinese</text>
<text x="149.10" y="231.60" font-size="7.05" font-family="DejaVu Sans, Liberation Sans, sans-serif" stroke="#000" stroke-width="0.15" text-anchor="middle" textLength="19.35" lengthAdjust="spacingAndGlyphs" fill="#000" style="font-variant-ligatures:none">n=42</text>
<path d="M189.14 213.5v2.1" stroke="#707070" stroke-width="1.0" fill="none"/>
<text x="189.14" y="223.70" font-size="7.05" font-family="DejaVu Sans, Liberation Sans, sans-serif" stroke="#000" stroke-width="0.15" text-anchor="middle" textLength="15.99" lengthAdjust="spacingAndGlyphs" fill="#000" style="font-variant-ligatures:none">MDS</text>
<text x="189.14" y="231.60" font-size="7.05" font-family="DejaVu Sans, Liberation Sans, sans-serif" stroke="#000" stroke-width="0.15" text-anchor="middle" textLength="19.35" lengthAdjust="spacingAndGlyphs" fill="#000" style="font-variant-ligatures:none">n=57</text>
<path d="M229.18 213.5v2.1" stroke="#707070" stroke-width="1.0" fill="none"/>
<text x="229.18" y="223.70" font-size="7.05" font-family="DejaVu Sans, Liberation Sans, sans-serif" stroke="#000" stroke-width="0.15" text-anchor="middle" textLength="32.13" lengthAdjust="spacingAndGlyphs" fill="#000" style="font-variant-ligatures:none">AML Ped.</text>
<text x="229.18" y="231.60" font-size="7.05" font-family="DejaVu Sans, Liberation Sans, sans-serif" stroke="#000" stroke-width="0.15" text-anchor="middle" textLength="23.83" lengthAdjust="spacingAndGlyphs" fill="#000" style="font-variant-ligatures:none">n=459</text>
<path d="M269.22 213.5v2.1" stroke="#707070" stroke-width="1.0" fill="none"/>
<text x="269.22" y="223.70" font-size="7.05" font-family="DejaVu Sans, Liberation Sans, sans-serif" stroke="#000" stroke-width="0.15" text-anchor="middle" textLength="28.49" lengthAdjust="spacingAndGlyphs" fill="#000" style="font-variant-ligatures:none">AML Ad.</text>
<text x="269.22" y="231.60" font-size="7.05" font-family="DejaVu Sans, Liberation Sans, sans-serif" stroke="#000" stroke-width="0.15" text-anchor="middle" textLength="23.83" lengthAdjust="spacingAndGlyphs" fill="#000" style="font-variant-ligatures:none">n=194</text>
<path d="M309.26 213.5v2.1" stroke="#707070" stroke-width="1.0" fill="none"/>
<text x="309.26" y="223.70" font-size="7.05" font-family="DejaVu Sans, Liberation Sans, sans-serif" stroke="#000" stroke-width="0.15" text-anchor="middle" textLength="7.98" lengthAdjust="spacingAndGlyphs" fill="#000" style="font-variant-ligatures:none">FL</text>
<text x="309.26" y="231.60" font-size="7.05" font-family="DejaVu Sans, Liberation Sans, sans-serif" stroke="#000" stroke-width="0.15" text-anchor="middle" textLength="23.83" lengthAdjust="spacingAndGlyphs" fill="#000" style="font-variant-ligatures:none">n=337</text>
<path d="M349.30 213.5v2.1" stroke="#707070" stroke-width="1.0" fill="none"/>
<text x="349.30" y="223.70" font-size="7.05" font-family="DejaVu Sans, Liberation Sans, sans-serif" stroke="#000" stroke-width="0.15" text-anchor="middle" textLength="28.80" lengthAdjust="spacingAndGlyphs" fill="#000" style="font-variant-ligatures:none">BCP-ALL</text>
<text x="349.30" y="231.60" font-size="7.05" font-family="DejaVu Sans, Liberation Sans, sans-serif" stroke="#000" stroke-width="0.15" text-anchor="middle" textLength="23.83" lengthAdjust="spacingAndGlyphs" fill="#000" style="font-variant-ligatures:none">n=663</text>
<path d="M389.34 213.5v2.1" stroke="#707070" stroke-width="1.0" fill="none"/>
<text x="389.34" y="223.70" font-size="7.05" font-family="DejaVu Sans, Liberation Sans, sans-serif" stroke="#000" stroke-width="0.15" text-anchor="middle" textLength="36.02" lengthAdjust="spacingAndGlyphs" fill="#000" style="font-variant-ligatures:none">T-ALL Ped.</text>
<text x="389.34" y="231.60" font-size="7.05" font-family="DejaVu Sans, Liberation Sans, sans-serif" stroke="#000" stroke-width="0.15" text-anchor="middle" textLength="23.83" lengthAdjust="spacingAndGlyphs" fill="#000" style="font-variant-ligatures:none">n=101</text>
<path d="M429.38 213.5v2.1" stroke="#707070" stroke-width="1.0" fill="none"/>
<text x="429.38" y="223.70" font-size="7.05" font-family="DejaVu Sans, Liberation Sans, sans-serif" stroke="#000" stroke-width="0.15" text-anchor="middle" textLength="32.38" lengthAdjust="spacingAndGlyphs" fill="#000" style="font-variant-ligatures:none">T-ALL Ad.</text>
<text x="429.38" y="231.60" font-size="7.05" font-family="DejaVu Sans, Liberation Sans, sans-serif" stroke="#000" stroke-width="0.15" text-anchor="middle" textLength="23.83" lengthAdjust="spacingAndGlyphs" fill="#000" style="font-variant-ligatures:none">n=143</text>
<path d="M469.42 213.5v2.1" stroke="#707070" stroke-width="1.0" fill="none"/>
<text x="469.42" y="223.70" font-size="7.05" font-family="DejaVu Sans, Liberation Sans, sans-serif" stroke="#000" stroke-width="0.15" text-anchor="middle" textLength="12.78" lengthAdjust="spacingAndGlyphs" fill="#000" style="font-variant-ligatures:none">CLL</text>
<text x="469.42" y="231.60" font-size="7.05" font-family="DejaVu Sans, Liberation Sans, sans-serif" stroke="#000" stroke-width="0.15" text-anchor="middle" textLength="23.83" lengthAdjust="spacingAndGlyphs" fill="#000" style="font-variant-ligatures:none">n=654</text>
<g transform="translate(8.2,112) rotate(-90)"><text x="0.00" y="0.00" font-size="7.60" font-family="DejaVu Sans, Liberation Sans, sans-serif" stroke="#000" stroke-width="0.15" text-anchor="middle" textLength="28.35" lengthAdjust="spacingAndGlyphs" fill="#000" style="font-variant-ligatures:none">β-value</text></g>
<rect x="32.2" y="14.30" width="12.5" height="4.0" fill="#9ecae1"/>
<text x="50.00" y="18.95" font-size="6.20" font-family="DejaVu Sans, Liberation Sans, sans-serif" stroke="#000" stroke-width="0.15" text-anchor="start" textLength="107.73" lengthAdjust="spacingAndGlyphs" fill="#000" style="font-variant-ligatures:none">Healthy (Caucasian, bone marrow)</text>
<rect x="32.2" y="23.61" width="12.5" height="4.0" fill="#3f8fc8"/>
<text x="50.00" y="28.26" font-size="6.20" font-family="DejaVu Sans, Liberation Sans, sans-serif" stroke="#000" stroke-width="0.15" text-anchor="start" textLength="107.32" lengthAdjust="spacingAndGlyphs" fill="#000" style="font-variant-ligatures:none">Healthy (African, peripheral blood)</text>
<rect x="32.2" y="32.92" width="12.5" height="4.0" fill="#0a4592"/>
<text x="50.00" y="37.57" font-size="6.20" font-family="DejaVu Sans, Liberation Sans, sans-serif" stroke="#000" stroke-width="0.15" text-anchor="start" textLength="110.47" lengthAdjust="spacingAndGlyphs" fill="#000" style="font-variant-ligatures:none">Healthy (Chinese, peripheral blood)</text>
<rect x="32.2" y="42.23" width="12.5" height="4.0" fill="#fdd3c3"/>
<text x="50.00" y="46.88" font-size="6.20" font-family="DejaVu Sans, Liberation Sans, sans-serif" stroke="#000" stroke-width="0.15" text-anchor="start" textLength="150.84" lengthAdjust="spacingAndGlyphs" fill="#000" style="font-variant-ligatures:none">Myelodysplastic Syndrome (Adult, bone marrow)</text>
<rect x="32.2" y="51.54" width="12.5" height="4.0" fill="#fb8b6b"/>
<text x="50.00" y="56.19" font-size="6.20" font-family="DejaVu Sans, Liberation Sans, sans-serif" stroke="#000" stroke-width="0.15" text-anchor="start" textLength="154.15" lengthAdjust="spacingAndGlyphs" fill="#000" style="font-variant-ligatures:none">Acute Myeloid Leukemia (Pediatric, bone marrow)</text>
<rect x="32.2" y="60.85" width="12.5" height="4.0" fill="#d62221"/>
<text x="50.00" y="65.50" font-size="6.20" font-family="DejaVu Sans, Liberation Sans, sans-serif" stroke="#000" stroke-width="0.15" text-anchor="start" textLength="143.40" lengthAdjust="spacingAndGlyphs" fill="#000" style="font-variant-ligatures:none">Acute Myeloid Leukemia (Adult, bone marrow)</text>
<rect x="32.2" y="70.16" width="12.5" height="4.0" fill="#72c6c2"/>
<text x="50.00" y="74.81" font-size="6.20" font-family="DejaVu Sans, Liberation Sans, sans-serif" stroke="#000" stroke-width="0.15" text-anchor="start" textLength="146.55" lengthAdjust="spacingAndGlyphs" fill="#000" style="font-variant-ligatures:none">B-cell Follicular Lymphoma (Adult, lymph node)</text>
<rect x="32.2" y="79.47" width="12.5" height="4.0" fill="#b4dfb0"/>
<text x="50.00" y="84.12" font-size="6.20" font-family="DejaVu Sans, Liberation Sans, sans-serif" stroke="#000" stroke-width="0.15" text-anchor="start" textLength="225.06" lengthAdjust="spacingAndGlyphs" fill="#000" style="font-variant-ligatures:none">B-cell Precursor Acute Lymphoblastic Leukemia (Pediatric, bone marrow)</text>
<rect x="32.2" y="88.78" width="12.5" height="4.0" fill="#6dc174"/>
<text x="50.00" y="93.43" font-size="6.20" font-family="DejaVu Sans, Liberation Sans, sans-serif" stroke="#000" stroke-width="0.15" text-anchor="start" textLength="192.74" lengthAdjust="spacingAndGlyphs" fill="#000" style="font-variant-ligatures:none">T-cell Acute Lymphoblastic Leukemia (Pediatric, bone marrow)</text>
<rect x="32.2" y="98.09" width="12.5" height="4.0" fill="#30a052"/>
<text x="50.00" y="102.74" font-size="6.20" font-family="DejaVu Sans, Liberation Sans, sans-serif" stroke="#000" stroke-width="0.15" text-anchor="start" textLength="181.99" lengthAdjust="spacingAndGlyphs" fill="#000" style="font-variant-ligatures:none">T-cell Acute Lymphoblastic Leukemia (Adult, bone marrow)</text>
<rect x="32.2" y="107.40" width="12.5" height="4.0" fill="#0a6b2e"/>
<text x="50.00" y="112.05" font-size="6.20" font-family="DejaVu Sans, Liberation Sans, sans-serif" stroke="#000" stroke-width="0.15" text-anchor="start" textLength="174.02" lengthAdjust="spacingAndGlyphs" fill="#000" style="font-variant-ligatures:none">Chronic Lymphocytic Leukemia (Adult, peripheral blood)</text>
<path d="M148.8 139.6V135.5H188.8V139.6" stroke="#111" stroke-width="0.9" fill="none"/>
<text x="168.80" y="133.60" font-size="7.00" font-family="DejaVu Sans, Liberation Sans, sans-serif" stroke="#000" stroke-width="0.15" text-anchor="middle" textLength="3.50" lengthAdjust="spacingAndGlyphs" fill="#000" style="font-variant-ligatures:none">*</text>
<text x="24.30" y="250.80" font-size="11.80" font-family="Carlito, Liberation Sans, sans-serif" font-weight="bold" stroke="#000" stroke-width="0.20" text-anchor="start" textLength="417.12" lengthAdjust="spacingAndGlyphs" fill="#000" style="font-variant-ligatures:none">Figure 1: Methylation levels at stable methylation sites in healthy and cancer cohorts.</text>
<text x="24.30" y="265.10" font-size="11.80" font-family="Carlito, Liberation Sans, sans-serif" stroke="#000" stroke-width="0.30" text-anchor="start" textLength="427.42" lengthAdjust="spacingAndGlyphs" fill="#000" style="font-variant-ligatures:none">Mean β-values of SMSs across individuals. Each point represents a single SMS (n=27,850).</text>
<text x="24.30" y="279.10" font-size="11.80" font-family="Carlito, Liberation Sans, sans-serif" stroke="#000" stroke-width="0.30" text-anchor="start" textLength="133.74" lengthAdjust="spacingAndGlyphs" fill="#000" style="font-variant-ligatures:none">* Wilcoxon test, p &lt; 2.2 x 10</text>
<text x="158.34" y="274.60" font-size="7.40" font-family="Carlito, Liberation Sans, sans-serif" stroke="#000" stroke-width="0.30" text-anchor="start" textLength="9.77" lengthAdjust="spacingAndGlyphs" fill="#000" style="font-variant-ligatures:none">-16</text>
<text x="20.50" y="548.30" font-size="11.80" font-family="Carlito, Liberation Sans, sans-serif" font-weight="bold" stroke="#000" stroke-width="0.20" text-anchor="start" textLength="263.13" lengthAdjust="spacingAndGlyphs" fill="#000" style="font-variant-ligatures:none">Figure 2: Expression of BASP1 in age-stratified healthy</text>
<text x="20.50" y="562.80" font-size="11.80" font-family="Carlito, Liberation Sans, sans-serif" font-weight="bold" stroke="#000" stroke-width="0.20" text-anchor="start" textLength="145.05" lengthAdjust="spacingAndGlyphs" fill="#000" style="font-variant-ligatures:none">individuals and AML patients.</text>
<text x="168.21" y="562.80" font-size="11.80" font-family="Carlito, Liberation Sans, sans-serif" stroke="#000" stroke-width="0.30" text-anchor="start" textLength="106.09" lengthAdjust="spacingAndGlyphs" fill="#000" style="font-variant-ligatures:none">Transcripts per million</text>
<text x="20.50" y="577.30" font-size="11.80" font-family="Carlito, Liberation Sans, sans-serif" stroke="#000" stroke-width="0.30" text-anchor="start" textLength="81.73" lengthAdjust="spacingAndGlyphs" fill="#000" style="font-variant-ligatures:none">(TPM) for BASP1.</text>
<rect x="38.5" y="301.0" width="246.4" height="209.9" stroke="#707070" stroke-width="1.0" fill="none"/>
<path d="M38.5 501.10h-2.1" stroke="#707070" stroke-width="1.0" fill="none"/>
<text x="34.20" y="503.00" font-size="6.20" font-family="DejaVu Sans, Liberation Sans, sans-serif" stroke="#000" stroke-width="0.15" text-anchor="end" textLength="3.94" lengthAdjust="spacingAndGlyphs" fill="#000" style="font-variant-ligatures:none">0</text>
<path d="M38.5 458.70h-2.1" stroke="#707070" stroke-width="1.0" fill="none"/>
<text x="34.20" y="460.60" font-size="6.20" font-family="DejaVu Sans, Liberation Sans, sans-serif" stroke="#000" stroke-width="0.15" text-anchor="end" textLength="11.83" lengthAdjust="spacingAndGlyphs" fill="#000" style="font-variant-ligatures:none">500</text>
<path d="M38.5 416.30h-2.1" stroke="#707070" stroke-width="1.0" fill="none"/>
<text x="34.20" y="418.20" font-size="6.20" font-family="DejaVu Sans, Liberation Sans, sans-serif" stroke="#000" stroke-width="0.15" text-anchor="end" textLength="15.78" lengthAdjust="spacingAndGlyphs" fill="#000" style="font-variant-ligatures:none">1000</text>
<path d="M38.5 373.90h-2.1" stroke="#707070" stroke-width="1.0" fill="none"/>
<text x="34.20" y="375.80" font-size="6.20" font-family="DejaVu Sans, Liberation Sans, sans-serif" stroke="#000" stroke-width="0.15" text-anchor="end" textLength="15.78" lengthAdjust="spacingAndGlyphs" fill="#000" style="font-variant-ligatures:none">1500</text>
<path d="M38.5 331.50h-2.1" stroke="#707070" stroke-width="1.0" fill="none"/>
<text x="34.20" y="333.40" font-size="6.20" font-family="DejaVu Sans, Liberation Sans, sans-serif" stroke="#000" stroke-width="0.15" text-anchor="end" textLength="15.78" lengthAdjust="spacingAndGlyphs" fill="#000" style="font-variant-ligatures:none">2000</text>
<g transform="translate(13.3,406.4) rotate(-90)"><text x="0.00" y="0.00" font-size="8.20" font-family="DejaVu Sans, Liberation Sans, sans-serif" stroke="#000" stroke-width="0.15" text-anchor="middle" textLength="116.70" lengthAdjust="spacingAndGlyphs" fill="#000" style="font-variant-ligatures:none">Transcripts per million (TPM)</text></g>
<path d="M56.10 409.40V330.60M56.10 463.90V491.30M51.70 330.60h8.80M51.70 491.30h8.80" stroke="#1a1a1a" stroke-width="0.9" fill="none"/>
<path d="M47.30 463.90L47.30 447.50L51.70 437.70L47.30 428.20L47.30 409.40L64.90 409.40L64.90 428.20L60.50 437.70L64.90 447.50L64.90 463.90Z" fill="#f00" stroke="#1a1a1a" stroke-width="0.9" stroke-linejoin="miter"/>
<path d="M51.70 437.70H60.50" stroke="#200" stroke-width="1.1"/>
<path d="M56.10 510.9v2.1" stroke="#707070" stroke-width="1.0" fill="none"/>
<text x="56.10" y="520.70" font-size="6.90" font-family="DejaVu Sans, Liberation Sans, sans-serif" stroke="#000" stroke-width="0.15" text-anchor="middle" textLength="20.05" lengthAdjust="spacingAndGlyphs" fill="#000" style="font-variant-ligatures:none">20-29</text>
<text x="56.10" y="528.70" font-size="6.90" font-family="DejaVu Sans, Liberation Sans, sans-serif" stroke="#000" stroke-width="0.15" text-anchor="middle" textLength="18.94" lengthAdjust="spacingAndGlyphs" fill="#000" style="font-variant-ligatures:none">n=68</text>
<path d="M91.30 423.30V373.40M91.30 469.10V498.50M86.90 373.40h8.80M86.90 498.50h8.80" stroke="#1a1a1a" stroke-width="0.9" fill="none"/>
<path d="M82.50 469.10L82.50 449.80L86.90 440.90L82.50 431.90L82.50 423.30L100.10 423.30L100.10 431.90L95.70 440.90L100.10 449.80L100.10 469.10Z" fill="#f00" stroke="#1a1a1a" stroke-width="0.9" stroke-linejoin="miter"/>
<path d="M86.90 440.90H95.70" stroke="#200" stroke-width="1.1"/>
<circle cx="91.30" cy="330.50" r="0.95" fill="#666" stroke="#222" stroke-width="0.7"/>
<path d="M91.30 510.9v2.1" stroke="#707070" stroke-width="1.0" fill="none"/>
<text x="91.30" y="520.70" font-size="6.90" font-family="DejaVu Sans, Liberation Sans, sans-serif" stroke="#000" stroke-width="0.15" text-anchor="middle" textLength="20.05" lengthAdjust="spacingAndGlyphs" fill="#000" style="font-variant-ligatures:none">30-39</text>
<text x="91.30" y="528.70" font-size="6.90" font-family="DejaVu Sans, Liberation Sans, sans-serif" stroke="#000" stroke-width="0.15" text-anchor="middle" textLength="18.94" lengthAdjust="spacingAndGlyphs" fill="#000" style="font-variant-ligatures:none">n=68</text>
<path d="M126.50 421.50V360.50M126.50 467.10V494.50M122.10 360.50h8.80M122.10 494.50h8.80" stroke="#1a1a1a" stroke-width="0.9" fill="none"/>
<path d="M117.70 467.10L117.70 454.10L122.10 447.80L117.70 440.60L117.70 421.50L135.30 421.50L135.30 440.60L130.90 447.80L135.30 454.10L135.30 467.10Z" fill="#f00" stroke="#1a1a1a" stroke-width="0.9" stroke-linejoin="miter"/>
<path d="M122.10 447.80H130.90" stroke="#200" stroke-width="1.1"/>
<circle cx="126.50" cy="351.30" r="0.95" fill="#666" stroke="#222" stroke-width="0.7"/>
<path d="M126.50 510.9v2.1" stroke="#707070" stroke-width="1.0" fill="none"/>
<text x="126.50" y="520.70" font-size="6.90" font-family="DejaVu Sans, Liberation Sans, sans-serif" stroke="#000" stroke-width="0.15" text-anchor="middle" textLength="20.05" lengthAdjust="spacingAndGlyphs" fill="#000" style="font-variant-ligatures:none">40-49</text>
<text x="126.50" y="528.70" font-size="6.90" font-family="DejaVu Sans, Liberation Sans, sans-serif" stroke="#000" stroke-width="0.15" text-anchor="middle" textLength="23.33" lengthAdjust="spacingAndGlyphs" fill="#000" style="font-variant-ligatures:none">n=113</text>
<path d="M161.70 429.60V359.00M161.70 476.90V498.40M157.30 359.00h8.80M157.30 498.40h8.80" stroke="#1a1a1a" stroke-width="0.9" fill="none"/>
<path d="M152.90 476.90L152.90 461.90L157.30 458.20L152.90 454.10L152.90 429.60L170.50 429.60L170.50 454.10L166.10 458.20L170.50 461.90L170.50 476.90Z" fill="#f00" stroke="#1a1a1a" stroke-width="0.9" stroke-linejoin="miter"/>
<path d="M157.30 458.20H166.10" stroke="#200" stroke-width="1.1"/>
<circle cx="161.70" cy="310.90" r="0.95" fill="#666" stroke="#222" stroke-width="0.7"/>
<circle cx="161.70" cy="319.20" r="0.95" fill="#666" stroke="#222" stroke-width="0.7"/>
<circle cx="161.70" cy="342.60" r="0.95" fill="#666" stroke="#222" stroke-width="0.7"/>
<path d="M161.70 510.9v2.1" stroke="#707070" stroke-width="1.0" fill="none"/>
<text x="161.70" y="520.70" font-size="6.90" font-family="DejaVu Sans, Liberation Sans, sans-serif" stroke="#000" stroke-width="0.15" text-anchor="middle" textLength="20.05" lengthAdjust="spacingAndGlyphs" fill="#000" style="font-variant-ligatures:none">50-59</text>
<text x="161.70" y="528.70" font-size="6.90" font-family="DejaVu Sans, Liberation Sans, sans-serif" stroke="#000" stroke-width="0.15" text-anchor="middle" textLength="23.33" lengthAdjust="spacingAndGlyphs" fill="#000" style="font-variant-ligatures:none">n=234</text>
<path d="M196.90 442.00V381.80M196.90 482.70V495.40M192.50 381.80h8.80M192.50 495.40h8.80" stroke="#1a1a1a" stroke-width="0.9" fill="none"/>
<path d="M188.10 482.70L188.10 469.40L192.50 466.50L188.10 463.60L188.10 442.00L205.70 442.00L205.70 463.60L201.30 466.50L205.70 469.40L205.70 482.70Z" fill="#f00" stroke="#1a1a1a" stroke-width="0.9" stroke-linejoin="miter"/>
<path d="M192.50 466.50H201.30" stroke="#200" stroke-width="1.1"/>
<circle cx="196.90" cy="347.50" r="0.95" fill="#666" stroke="#222" stroke-width="0.7"/>
<circle cx="196.90" cy="354.10" r="0.95" fill="#666" stroke="#222" stroke-width="0.7"/>
<circle cx="196.90" cy="356.70" r="0.95" fill="#666" stroke="#222" stroke-width="0.7"/>
<circle cx="196.90" cy="366.00" r="0.95" fill="#666" stroke="#222" stroke-width="0.7"/>
<circle cx="196.90" cy="369.70" r="0.95" fill="#666" stroke="#222" stroke-width="0.7"/>
<circle cx="196.90" cy="376.60" r="0.95" fill="#666" stroke="#222" stroke-width="0.7"/>
<circle cx="196.90" cy="378.60" r="0.95" fill="#666" stroke="#222" stroke-width="0.7"/>
<path d="M196.90 510.9v2.1" stroke="#707070" stroke-width="1.0" fill="none"/>
<text x="196.90" y="520.70" font-size="6.90" font-family="DejaVu Sans, Liberation Sans, sans-serif" stroke="#000" stroke-width="0.15" text-anchor="middle" textLength="20.05" lengthAdjust="spacingAndGlyphs" fill="#000" style="font-variant-ligatures:none">60-69</text>
<text x="196.90" y="528.70" font-size="6.90" font-family="DejaVu Sans, Liberation Sans, sans-serif" stroke="#000" stroke-width="0.15" text-anchor="middle" textLength="23.33" lengthAdjust="spacingAndGlyphs" fill="#000" style="font-variant-ligatures:none">n=249</text>
<path d="M232.10 446.90V399.60M232.10 484.50V499.00M227.70 399.60h8.80M227.70 499.00h8.80" stroke="#1a1a1a" stroke-width="0.9" fill="none"/>
<path d="M223.30 484.50L223.30 480.30L227.70 468.60L223.30 451.50L223.30 446.90L240.90 446.90L240.90 451.50L236.50 468.60L240.90 480.30L240.90 484.50Z" fill="#f00" stroke="#1a1a1a" stroke-width="0.9" stroke-linejoin="miter"/>
<path d="M227.70 468.60H236.50" stroke="#200" stroke-width="1.1"/>
<circle cx="232.10" cy="332.20" r="0.95" fill="#666" stroke="#222" stroke-width="0.7"/>
<circle cx="232.10" cy="369.40" r="0.95" fill="#666" stroke="#222" stroke-width="0.7"/>
<path d="M232.10 510.9v2.1" stroke="#707070" stroke-width="1.0" fill="none"/>
<text x="232.10" y="520.70" font-size="6.90" font-family="DejaVu Sans, Liberation Sans, sans-serif" stroke="#000" stroke-width="0.15" text-anchor="middle" textLength="20.05" lengthAdjust="spacingAndGlyphs" fill="#000" style="font-variant-ligatures:none">70-79</text>
<text x="232.10" y="528.70" font-size="6.90" font-family="DejaVu Sans, Liberation Sans, sans-serif" stroke="#000" stroke-width="0.15" text-anchor="middle" textLength="18.94" lengthAdjust="spacingAndGlyphs" fill="#000" style="font-variant-ligatures:none">n=23</text>
<path d="M267.30 495.20V490.00M267.30 500.50V501.00M262.90 490.00h8.80M262.90 501.00h8.80" stroke="#1a1a1a" stroke-width="0.9" fill="none"/>
<path d="M258.50 500.50L258.50 499.20L262.90 498.40L258.50 497.60L258.50 495.20L276.10 495.20L276.10 497.60L271.70 498.40L276.10 499.20L276.10 500.50Z" fill="#f00" stroke="#1a1a1a" stroke-width="0.9" stroke-linejoin="miter"/>
<path d="M262.90 498.40H271.70" stroke="#200" stroke-width="1.1"/>
<circle cx="267.30" cy="461.10" r="0.95" fill="#666" stroke="#222" stroke-width="0.7"/>
<circle cx="267.30" cy="472.00" r="0.95" fill="#666" stroke="#222" stroke-width="0.7"/>
<circle cx="267.30" cy="479.20" r="0.95" fill="#666" stroke="#222" stroke-width="0.7"/>
<circle cx="267.30" cy="479.89" r="0.95" fill="#666" stroke="#222" stroke-width="0.7"/>
<circle cx="267.30" cy="480.58" r="0.95" fill="#666" stroke="#222" stroke-width="0.7"/>
<circle cx="267.30" cy="481.28" r="0.95" fill="#666" stroke="#222" stroke-width="0.7"/>
<circle cx="267.30" cy="481.97" r="0.95" fill="#666" stroke="#222" stroke-width="0.7"/>
<circle cx="267.30" cy="482.66" r="0.95" fill="#666" stroke="#222" stroke-width="0.7"/>
<circle cx="267.30" cy="483.35" r="0.95" fill="#666" stroke="#222" stroke-width="0.7"/>
<circle cx="267.30" cy="484.05" r="0.95" fill="#666" stroke="#222" stroke-width="0.7"/>
<circle cx="267.30" cy="484.74" r="0.95" fill="#666" stroke="#222" stroke-width="0.7"/>
<circle cx="267.30" cy="485.43" r="0.95" fill="#666" stroke="#222" stroke-width="0.7"/>
<circle cx="267.30" cy="486.12" r="0.95" fill="#666" stroke="#222" stroke-width="0.7"/>
<circle cx="267.30" cy="486.82" r="0.95" fill="#666" stroke="#222" stroke-width="0.7"/>
<circle cx="267.30" cy="487.51" r="0.95" fill="#666" stroke="#222" stroke-width="0.7"/>
<circle cx="267.30" cy="488.20" r="0.95" fill="#666" stroke="#222" stroke-width="0.7"/>
<path d="M267.30 510.9v2.1" stroke="#707070" stroke-width="1.0" fill="none"/>
<text x="267.30" y="520.70" font-size="6.90" font-family="DejaVu Sans, Liberation Sans, sans-serif" stroke="#000" stroke-width="0.15" text-anchor="middle" textLength="14.52" lengthAdjust="spacingAndGlyphs" fill="#000" style="font-variant-ligatures:none">AML</text>
<text x="267.30" y="528.70" font-size="6.90" font-family="DejaVu Sans, Liberation Sans, sans-serif" stroke="#000" stroke-width="0.15" text-anchor="middle" textLength="23.33" lengthAdjust="spacingAndGlyphs" fill="#000" style="font-variant-ligatures:none">n=151</text>
</svg>
</body></html>
